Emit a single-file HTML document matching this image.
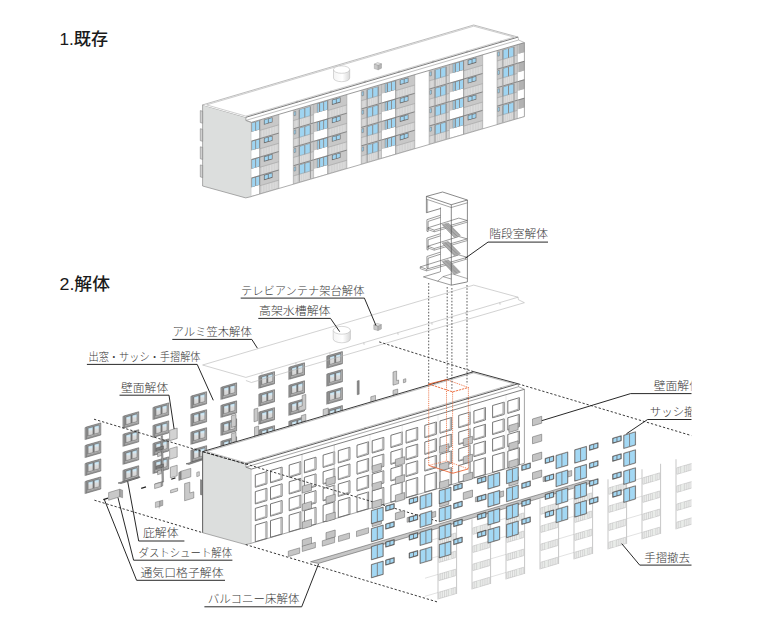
<!DOCTYPE html>
<html><head><meta charset="utf-8"><title>diagram</title><style>html,body{margin:0;padding:0;background:#fff;font-family:"Liberation Sans",sans-serif}svg{display:block}</style></head><body>
<svg width="780" height="628" viewBox="0 0 780 628">
<defs><linearGradient id="gl" x1="0" x2="0" y1="0" y2="1"><stop offset="0" stop-color="#b5e0f7"/><stop offset="0.3" stop-color="#d3e8f2"/><stop offset="0.45" stop-color="#dcdcdc"/><stop offset="1" stop-color="#d2d2d2"/></linearGradient></defs>
<polygon points="202.6,104.9 245.9,117.3 245.9,120.4 251.4,122.4 251.4,196.6 245.7,197.9 202.6,186" fill="#dcdedd" stroke="#8a8a8a" stroke-width="0.7" />
<polygon points="202.6,104.9 245.9,117.3 518.1,37.1 473.7,25" fill="#ffffff" stroke="none" stroke-width="0.6" />
<polygon points="200.3,110.6 202.6,111.2 202.6,123.2 200.3,122.6" fill="#d0d0d0" stroke="#777" stroke-width="0.5" />
<polygon points="200.3,128.7 202.6,129.3 202.6,141.3 200.3,140.7" fill="#d0d0d0" stroke="#777" stroke-width="0.5" />
<polygon points="200.3,146.8 202.6,147.4 202.6,159.4 200.3,158.8" fill="#d0d0d0" stroke="#777" stroke-width="0.5" />
<polygon points="200.3,164.9 202.6,165.5 202.6,177.5 200.3,176.9" fill="#d0d0d0" stroke="#777" stroke-width="0.5" />
<clipPath id="fc1"><polygon points="251.4,122.4 524.4,42.52 524.4,116.62 251.4,196.5"/></clipPath>
<g clip-path="url(#fc1)">
<polygon points="251.4,122.4 524.4,42.52 524.4,116.62 251.4,196.5" fill="#ffffff" stroke="none" stroke-width="0.4" />
<polygon points="225.3,130.04 278.9,114.35 278.9,188.45 225.3,204.14" fill="#c8c8c8" stroke="none" stroke-width="0.4" />
<polygon points="225.7,195.82 245.5,190.03 245.5,197.63 225.7,203.42" fill="#d3d3d3" stroke="none" stroke-width="0.4" />
<line x1="228.18" y1="202.1" x2="228.18" y2="195.7" stroke="#e6e6e6" stroke-width="0.55" />
<line x1="230.65" y1="201.37" x2="230.65" y2="194.97" stroke="#e6e6e6" stroke-width="0.55" />
<line x1="233.12" y1="200.65" x2="233.12" y2="194.25" stroke="#e6e6e6" stroke-width="0.55" />
<line x1="235.6" y1="199.92" x2="235.6" y2="193.52" stroke="#e6e6e6" stroke-width="0.55" />
<line x1="238.07" y1="199.2" x2="238.07" y2="192.8" stroke="#e6e6e6" stroke-width="0.55" />
<line x1="240.55" y1="198.47" x2="240.55" y2="192.07" stroke="#e6e6e6" stroke-width="0.55" />
<line x1="243.03" y1="197.75" x2="243.03" y2="191.35" stroke="#e6e6e6" stroke-width="0.55" />
<polygon points="259.7,185.87 278.6,180.34 278.6,187.94 259.7,193.47" fill="#d3d3d3" stroke="none" stroke-width="0.4" />
<line x1="262.4" y1="192.08" x2="262.4" y2="185.68" stroke="#e6e6e6" stroke-width="0.55" />
<line x1="265.1" y1="191.29" x2="265.1" y2="184.89" stroke="#e6e6e6" stroke-width="0.55" />
<line x1="267.8" y1="190.5" x2="267.8" y2="184.1" stroke="#e6e6e6" stroke-width="0.55" />
<line x1="270.5" y1="189.71" x2="270.5" y2="183.31" stroke="#e6e6e6" stroke-width="0.55" />
<line x1="273.2" y1="188.92" x2="273.2" y2="182.52" stroke="#e6e6e6" stroke-width="0.55" />
<line x1="275.9" y1="188.13" x2="275.9" y2="181.73" stroke="#e6e6e6" stroke-width="0.55" />
<polygon points="226,187.13 227.7,186.63 227.7,190.53 226,191.03" fill="#9fd4f1" stroke="#6a6a6a" stroke-width="0.45" />
<polygon points="230.9,184.9 242.5,181.5 242.5,191.7 230.9,195.1" fill="#8a8a8a" stroke="none" stroke-width="0.4" />
<polygon points="231.6,185.09 236.3,183.72 236.3,193.52 231.6,194.89" fill="#9fd4f1" stroke="none" stroke-width="0.4" />
<polygon points="237.3,183.43 241.9,182.08 241.9,191.88 237.3,193.23" fill="#9fd4f1" stroke="none" stroke-width="0.4" />
<polygon points="230.3,194.67 243.3,190.87 243.3,198.27 230.3,202.07" fill="#d3d3d3" stroke="none" stroke-width="0.4" />
<line x1="232.47" y1="200.84" x2="232.47" y2="194.64" stroke="#e6e6e6" stroke-width="0.55" />
<line x1="234.63" y1="200.21" x2="234.63" y2="194.01" stroke="#e6e6e6" stroke-width="0.55" />
<line x1="236.8" y1="199.57" x2="236.8" y2="193.37" stroke="#e6e6e6" stroke-width="0.55" />
<line x1="238.97" y1="198.94" x2="238.97" y2="192.74" stroke="#e6e6e6" stroke-width="0.55" />
<line x1="241.13" y1="198.3" x2="241.13" y2="192.1" stroke="#e6e6e6" stroke-width="0.55" />
<polygon points="230.8,184.93 231.6,184.69 231.6,201.69 230.8,201.93" fill="#8a8a8a" stroke="none" stroke-width="0.4" />
<polygon points="241.9,181.68 242.7,181.45 242.7,198.45 241.9,198.68" fill="#8a8a8a" stroke="none" stroke-width="0.4" />
<polygon points="245.7,188.97 259.5,184.93 259.5,193.63 245.7,197.67" fill="#ffffff" stroke="none" stroke-width="0.4" />
<polygon points="248.9,179.03 259.7,175.87 259.7,184.87 248.9,188.03" fill="#8a8a8a" stroke="none" stroke-width="0.4" />
<polygon points="249.5,179.16 250.9,178.75 250.9,187.25 249.5,187.66" fill="#9fd4f1" stroke="none" stroke-width="0.4" />
<polygon points="252.1,178.4 255.2,177.49 255.2,185.99 252.1,186.9" fill="#9fd4f1" stroke="none" stroke-width="0.4" />
<polygon points="256.1,177.22 259.2,176.32 259.2,184.82 256.1,185.72" fill="#9fd4f1" stroke="none" stroke-width="0.4" />
<polygon points="263.9,175.04 272.5,172.53 272.5,177.63 263.9,180.14" fill="#666" stroke="none" stroke-width="0.4" />
<polygon points="264.6,175.44 267.9,174.47 267.9,178.27 264.6,179.24" fill="#9fd4f1" stroke="none" stroke-width="0.4" />
<polygon points="268.6,174.27 271.9,173.3 271.9,177.1 268.6,178.07" fill="#9fd4f1" stroke="none" stroke-width="0.4" />
<line x1="225.3" y1="195.84" x2="245.6" y2="189.9" stroke="#9a9a9a" stroke-width="0.5" />
<line x1="259.6" y1="185.8" x2="278.9" y2="180.15" stroke="#9a9a9a" stroke-width="0.5" />
<polygon points="225.7,177.37 245.5,171.58 245.5,179.18 225.7,184.97" fill="#d3d3d3" stroke="none" stroke-width="0.4" />
<line x1="228.18" y1="183.65" x2="228.18" y2="177.25" stroke="#e6e6e6" stroke-width="0.55" />
<line x1="230.65" y1="182.92" x2="230.65" y2="176.52" stroke="#e6e6e6" stroke-width="0.55" />
<line x1="233.12" y1="182.2" x2="233.12" y2="175.8" stroke="#e6e6e6" stroke-width="0.55" />
<line x1="235.6" y1="181.47" x2="235.6" y2="175.07" stroke="#e6e6e6" stroke-width="0.55" />
<line x1="238.07" y1="180.75" x2="238.07" y2="174.35" stroke="#e6e6e6" stroke-width="0.55" />
<line x1="240.55" y1="180.02" x2="240.55" y2="173.62" stroke="#e6e6e6" stroke-width="0.55" />
<line x1="243.03" y1="179.3" x2="243.03" y2="172.9" stroke="#e6e6e6" stroke-width="0.55" />
<polygon points="259.7,167.42 278.6,161.89 278.6,169.49 259.7,175.02" fill="#d3d3d3" stroke="none" stroke-width="0.4" />
<line x1="262.4" y1="173.63" x2="262.4" y2="167.23" stroke="#e6e6e6" stroke-width="0.55" />
<line x1="265.1" y1="172.84" x2="265.1" y2="166.44" stroke="#e6e6e6" stroke-width="0.55" />
<line x1="267.8" y1="172.05" x2="267.8" y2="165.65" stroke="#e6e6e6" stroke-width="0.55" />
<line x1="270.5" y1="171.26" x2="270.5" y2="164.86" stroke="#e6e6e6" stroke-width="0.55" />
<line x1="273.2" y1="170.47" x2="273.2" y2="164.07" stroke="#e6e6e6" stroke-width="0.55" />
<line x1="275.9" y1="169.68" x2="275.9" y2="163.28" stroke="#e6e6e6" stroke-width="0.55" />
<polygon points="226,168.68 227.7,168.18 227.7,172.08 226,172.58" fill="#9fd4f1" stroke="#6a6a6a" stroke-width="0.45" />
<polygon points="230.9,166.45 242.5,163.05 242.5,173.25 230.9,176.65" fill="#8a8a8a" stroke="none" stroke-width="0.4" />
<polygon points="231.6,166.64 236.3,165.27 236.3,175.07 231.6,176.44" fill="#9fd4f1" stroke="none" stroke-width="0.4" />
<polygon points="237.3,164.98 241.9,163.63 241.9,173.43 237.3,174.78" fill="#9fd4f1" stroke="none" stroke-width="0.4" />
<polygon points="230.3,176.22 243.3,172.42 243.3,179.82 230.3,183.62" fill="#d3d3d3" stroke="none" stroke-width="0.4" />
<line x1="232.47" y1="182.39" x2="232.47" y2="176.19" stroke="#e6e6e6" stroke-width="0.55" />
<line x1="234.63" y1="181.76" x2="234.63" y2="175.56" stroke="#e6e6e6" stroke-width="0.55" />
<line x1="236.8" y1="181.12" x2="236.8" y2="174.92" stroke="#e6e6e6" stroke-width="0.55" />
<line x1="238.97" y1="180.49" x2="238.97" y2="174.29" stroke="#e6e6e6" stroke-width="0.55" />
<line x1="241.13" y1="179.85" x2="241.13" y2="173.65" stroke="#e6e6e6" stroke-width="0.55" />
<polygon points="230.8,166.48 231.6,166.24 231.6,183.24 230.8,183.48" fill="#8a8a8a" stroke="none" stroke-width="0.4" />
<polygon points="241.9,163.23 242.7,163 242.7,180 241.9,180.23" fill="#8a8a8a" stroke="none" stroke-width="0.4" />
<polygon points="245.7,170.52 259.5,166.48 259.5,175.18 245.7,179.22" fill="#ffffff" stroke="none" stroke-width="0.4" />
<polygon points="248.9,160.58 259.7,157.42 259.7,166.42 248.9,169.58" fill="#8a8a8a" stroke="none" stroke-width="0.4" />
<polygon points="249.5,160.71 250.9,160.3 250.9,168.8 249.5,169.21" fill="#9fd4f1" stroke="none" stroke-width="0.4" />
<polygon points="252.1,159.95 255.2,159.04 255.2,167.54 252.1,168.45" fill="#9fd4f1" stroke="none" stroke-width="0.4" />
<polygon points="256.1,158.77 259.2,157.87 259.2,166.37 256.1,167.27" fill="#9fd4f1" stroke="none" stroke-width="0.4" />
<polygon points="263.9,156.59 272.5,154.08 272.5,159.18 263.9,161.69" fill="#666" stroke="none" stroke-width="0.4" />
<polygon points="264.6,156.99 267.9,156.02 267.9,159.82 264.6,160.79" fill="#9fd4f1" stroke="none" stroke-width="0.4" />
<polygon points="268.6,155.82 271.9,154.85 271.9,158.65 268.6,159.62" fill="#9fd4f1" stroke="none" stroke-width="0.4" />
<line x1="225.3" y1="185.69" x2="278.9" y2="170" stroke="#6a6a6a" stroke-width="0.7" />
<line x1="225.3" y1="177.39" x2="245.6" y2="171.45" stroke="#9a9a9a" stroke-width="0.5" />
<line x1="259.6" y1="167.35" x2="278.9" y2="161.7" stroke="#9a9a9a" stroke-width="0.5" />
<polygon points="225.7,158.92 245.5,153.13 245.5,160.73 225.7,166.52" fill="#d3d3d3" stroke="none" stroke-width="0.4" />
<line x1="228.18" y1="165.2" x2="228.18" y2="158.8" stroke="#e6e6e6" stroke-width="0.55" />
<line x1="230.65" y1="164.47" x2="230.65" y2="158.07" stroke="#e6e6e6" stroke-width="0.55" />
<line x1="233.12" y1="163.75" x2="233.12" y2="157.35" stroke="#e6e6e6" stroke-width="0.55" />
<line x1="235.6" y1="163.02" x2="235.6" y2="156.62" stroke="#e6e6e6" stroke-width="0.55" />
<line x1="238.07" y1="162.3" x2="238.07" y2="155.9" stroke="#e6e6e6" stroke-width="0.55" />
<line x1="240.55" y1="161.57" x2="240.55" y2="155.17" stroke="#e6e6e6" stroke-width="0.55" />
<line x1="243.03" y1="160.85" x2="243.03" y2="154.45" stroke="#e6e6e6" stroke-width="0.55" />
<polygon points="259.7,148.97 278.6,143.44 278.6,151.04 259.7,156.57" fill="#d3d3d3" stroke="none" stroke-width="0.4" />
<line x1="262.4" y1="155.18" x2="262.4" y2="148.78" stroke="#e6e6e6" stroke-width="0.55" />
<line x1="265.1" y1="154.39" x2="265.1" y2="147.99" stroke="#e6e6e6" stroke-width="0.55" />
<line x1="267.8" y1="153.6" x2="267.8" y2="147.2" stroke="#e6e6e6" stroke-width="0.55" />
<line x1="270.5" y1="152.81" x2="270.5" y2="146.41" stroke="#e6e6e6" stroke-width="0.55" />
<line x1="273.2" y1="152.02" x2="273.2" y2="145.62" stroke="#e6e6e6" stroke-width="0.55" />
<line x1="275.9" y1="151.23" x2="275.9" y2="144.83" stroke="#e6e6e6" stroke-width="0.55" />
<polygon points="226,150.23 227.7,149.73 227.7,153.63 226,154.13" fill="#9fd4f1" stroke="#6a6a6a" stroke-width="0.45" />
<polygon points="230.9,148 242.5,144.6 242.5,154.8 230.9,158.2" fill="#8a8a8a" stroke="none" stroke-width="0.4" />
<polygon points="231.6,148.19 236.3,146.82 236.3,156.62 231.6,157.99" fill="#9fd4f1" stroke="none" stroke-width="0.4" />
<polygon points="237.3,146.53 241.9,145.18 241.9,154.98 237.3,156.33" fill="#9fd4f1" stroke="none" stroke-width="0.4" />
<polygon points="230.3,157.77 243.3,153.97 243.3,161.37 230.3,165.17" fill="#d3d3d3" stroke="none" stroke-width="0.4" />
<line x1="232.47" y1="163.94" x2="232.47" y2="157.74" stroke="#e6e6e6" stroke-width="0.55" />
<line x1="234.63" y1="163.31" x2="234.63" y2="157.11" stroke="#e6e6e6" stroke-width="0.55" />
<line x1="236.8" y1="162.67" x2="236.8" y2="156.47" stroke="#e6e6e6" stroke-width="0.55" />
<line x1="238.97" y1="162.04" x2="238.97" y2="155.84" stroke="#e6e6e6" stroke-width="0.55" />
<line x1="241.13" y1="161.4" x2="241.13" y2="155.2" stroke="#e6e6e6" stroke-width="0.55" />
<polygon points="230.8,148.03 231.6,147.79 231.6,164.79 230.8,165.03" fill="#8a8a8a" stroke="none" stroke-width="0.4" />
<polygon points="241.9,144.78 242.7,144.55 242.7,161.55 241.9,161.78" fill="#8a8a8a" stroke="none" stroke-width="0.4" />
<polygon points="245.7,152.07 259.5,148.03 259.5,156.73 245.7,160.77" fill="#ffffff" stroke="none" stroke-width="0.4" />
<polygon points="248.9,142.13 259.7,138.97 259.7,147.97 248.9,151.13" fill="#8a8a8a" stroke="none" stroke-width="0.4" />
<polygon points="249.5,142.26 250.9,141.85 250.9,150.35 249.5,150.76" fill="#9fd4f1" stroke="none" stroke-width="0.4" />
<polygon points="252.1,141.5 255.2,140.59 255.2,149.09 252.1,150" fill="#9fd4f1" stroke="none" stroke-width="0.4" />
<polygon points="256.1,140.32 259.2,139.42 259.2,147.92 256.1,148.82" fill="#9fd4f1" stroke="none" stroke-width="0.4" />
<polygon points="263.9,138.14 272.5,135.63 272.5,140.73 263.9,143.24" fill="#666" stroke="none" stroke-width="0.4" />
<polygon points="264.6,138.54 267.9,137.57 267.9,141.37 264.6,142.34" fill="#9fd4f1" stroke="none" stroke-width="0.4" />
<polygon points="268.6,137.37 271.9,136.4 271.9,140.2 268.6,141.17" fill="#9fd4f1" stroke="none" stroke-width="0.4" />
<line x1="225.3" y1="167.24" x2="278.9" y2="151.55" stroke="#6a6a6a" stroke-width="0.7" />
<line x1="225.3" y1="158.94" x2="245.6" y2="153" stroke="#9a9a9a" stroke-width="0.5" />
<line x1="259.6" y1="148.9" x2="278.9" y2="143.25" stroke="#9a9a9a" stroke-width="0.5" />
<polygon points="225.7,140.47 245.5,134.68 245.5,142.28 225.7,148.07" fill="#d3d3d3" stroke="none" stroke-width="0.4" />
<line x1="228.18" y1="146.75" x2="228.18" y2="140.35" stroke="#e6e6e6" stroke-width="0.55" />
<line x1="230.65" y1="146.02" x2="230.65" y2="139.62" stroke="#e6e6e6" stroke-width="0.55" />
<line x1="233.12" y1="145.3" x2="233.12" y2="138.9" stroke="#e6e6e6" stroke-width="0.55" />
<line x1="235.6" y1="144.57" x2="235.6" y2="138.17" stroke="#e6e6e6" stroke-width="0.55" />
<line x1="238.07" y1="143.85" x2="238.07" y2="137.45" stroke="#e6e6e6" stroke-width="0.55" />
<line x1="240.55" y1="143.12" x2="240.55" y2="136.72" stroke="#e6e6e6" stroke-width="0.55" />
<line x1="243.03" y1="142.4" x2="243.03" y2="136" stroke="#e6e6e6" stroke-width="0.55" />
<polygon points="259.7,130.52 278.6,124.99 278.6,132.59 259.7,138.12" fill="#d3d3d3" stroke="none" stroke-width="0.4" />
<line x1="262.4" y1="136.73" x2="262.4" y2="130.33" stroke="#e6e6e6" stroke-width="0.55" />
<line x1="265.1" y1="135.94" x2="265.1" y2="129.54" stroke="#e6e6e6" stroke-width="0.55" />
<line x1="267.8" y1="135.15" x2="267.8" y2="128.75" stroke="#e6e6e6" stroke-width="0.55" />
<line x1="270.5" y1="134.36" x2="270.5" y2="127.96" stroke="#e6e6e6" stroke-width="0.55" />
<line x1="273.2" y1="133.57" x2="273.2" y2="127.17" stroke="#e6e6e6" stroke-width="0.55" />
<line x1="275.9" y1="132.78" x2="275.9" y2="126.38" stroke="#e6e6e6" stroke-width="0.55" />
<polygon points="226,131.78 227.7,131.28 227.7,135.18 226,135.68" fill="#9fd4f1" stroke="#6a6a6a" stroke-width="0.45" />
<polygon points="230.9,129.55 242.5,126.15 242.5,136.35 230.9,139.75" fill="#8a8a8a" stroke="none" stroke-width="0.4" />
<polygon points="231.6,129.74 236.3,128.37 236.3,138.17 231.6,139.54" fill="#9fd4f1" stroke="none" stroke-width="0.4" />
<polygon points="237.3,128.08 241.9,126.73 241.9,136.53 237.3,137.88" fill="#9fd4f1" stroke="none" stroke-width="0.4" />
<polygon points="230.3,139.32 243.3,135.52 243.3,142.92 230.3,146.72" fill="#d3d3d3" stroke="none" stroke-width="0.4" />
<line x1="232.47" y1="145.49" x2="232.47" y2="139.29" stroke="#e6e6e6" stroke-width="0.55" />
<line x1="234.63" y1="144.86" x2="234.63" y2="138.66" stroke="#e6e6e6" stroke-width="0.55" />
<line x1="236.8" y1="144.22" x2="236.8" y2="138.02" stroke="#e6e6e6" stroke-width="0.55" />
<line x1="238.97" y1="143.59" x2="238.97" y2="137.39" stroke="#e6e6e6" stroke-width="0.55" />
<line x1="241.13" y1="142.95" x2="241.13" y2="136.75" stroke="#e6e6e6" stroke-width="0.55" />
<polygon points="230.8,129.58 231.6,129.34 231.6,146.34 230.8,146.58" fill="#8a8a8a" stroke="none" stroke-width="0.4" />
<polygon points="241.9,126.33 242.7,126.1 242.7,143.1 241.9,143.33" fill="#8a8a8a" stroke="none" stroke-width="0.4" />
<polygon points="245.7,133.62 259.5,129.58 259.5,138.28 245.7,142.32" fill="#ffffff" stroke="none" stroke-width="0.4" />
<polygon points="248.9,123.68 259.7,120.52 259.7,129.52 248.9,132.68" fill="#8a8a8a" stroke="none" stroke-width="0.4" />
<polygon points="249.5,123.81 250.9,123.4 250.9,131.9 249.5,132.31" fill="#9fd4f1" stroke="none" stroke-width="0.4" />
<polygon points="252.1,123.05 255.2,122.14 255.2,130.64 252.1,131.55" fill="#9fd4f1" stroke="none" stroke-width="0.4" />
<polygon points="256.1,121.87 259.2,120.97 259.2,129.47 256.1,130.37" fill="#9fd4f1" stroke="none" stroke-width="0.4" />
<polygon points="263.9,119.69 272.5,117.18 272.5,122.28 263.9,124.79" fill="#666" stroke="none" stroke-width="0.4" />
<polygon points="264.6,120.09 267.9,119.12 267.9,122.92 264.6,123.89" fill="#9fd4f1" stroke="none" stroke-width="0.4" />
<polygon points="268.6,118.92 271.9,117.95 271.9,121.75 268.6,122.72" fill="#9fd4f1" stroke="none" stroke-width="0.4" />
<line x1="225.3" y1="148.79" x2="278.9" y2="133.1" stroke="#6a6a6a" stroke-width="0.7" />
<line x1="225.3" y1="140.49" x2="245.6" y2="134.55" stroke="#9a9a9a" stroke-width="0.5" />
<line x1="259.6" y1="130.45" x2="278.9" y2="124.8" stroke="#9a9a9a" stroke-width="0.5" />
<line x1="225.3" y1="204.14" x2="225.3" y2="130.04" stroke="#9a9a9a" stroke-width="0.5" />
<line x1="278.9" y1="188.45" x2="278.9" y2="114.35" stroke="#9a9a9a" stroke-width="0.5" />
<line x1="245.6" y1="198.2" x2="245.6" y2="124.1" stroke="#a8a8a8" stroke-width="0.55" />
<line x1="259.8" y1="194.04" x2="259.8" y2="119.94" stroke="#707070" stroke-width="0.55" />
<polygon points="293.3,110.14 346.9,94.46 346.9,168.56 293.3,184.24" fill="#c8c8c8" stroke="none" stroke-width="0.4" />
<polygon points="293.7,175.92 313.5,170.13 313.5,177.73 293.7,183.52" fill="#d3d3d3" stroke="none" stroke-width="0.4" />
<line x1="296.18" y1="182.2" x2="296.18" y2="175.8" stroke="#e6e6e6" stroke-width="0.55" />
<line x1="298.65" y1="181.47" x2="298.65" y2="175.07" stroke="#e6e6e6" stroke-width="0.55" />
<line x1="301.12" y1="180.75" x2="301.12" y2="174.35" stroke="#e6e6e6" stroke-width="0.55" />
<line x1="303.6" y1="180.03" x2="303.6" y2="173.63" stroke="#e6e6e6" stroke-width="0.55" />
<line x1="306.07" y1="179.3" x2="306.07" y2="172.9" stroke="#e6e6e6" stroke-width="0.55" />
<line x1="308.55" y1="178.58" x2="308.55" y2="172.18" stroke="#e6e6e6" stroke-width="0.55" />
<line x1="311.02" y1="177.85" x2="311.02" y2="171.45" stroke="#e6e6e6" stroke-width="0.55" />
<polygon points="327.7,165.97 346.6,160.44 346.6,168.04 327.7,173.57" fill="#d3d3d3" stroke="none" stroke-width="0.4" />
<line x1="330.4" y1="172.18" x2="330.4" y2="165.78" stroke="#e6e6e6" stroke-width="0.55" />
<line x1="333.1" y1="171.39" x2="333.1" y2="164.99" stroke="#e6e6e6" stroke-width="0.55" />
<line x1="335.8" y1="170.6" x2="335.8" y2="164.2" stroke="#e6e6e6" stroke-width="0.55" />
<line x1="338.5" y1="169.81" x2="338.5" y2="163.41" stroke="#e6e6e6" stroke-width="0.55" />
<line x1="341.2" y1="169.02" x2="341.2" y2="162.62" stroke="#e6e6e6" stroke-width="0.55" />
<line x1="343.9" y1="168.23" x2="343.9" y2="161.83" stroke="#e6e6e6" stroke-width="0.55" />
<polygon points="294,167.24 295.7,166.74 295.7,170.64 294,171.14" fill="#9fd4f1" stroke="#6a6a6a" stroke-width="0.45" />
<polygon points="298.9,165 310.5,161.61 310.5,171.81 298.9,175.2" fill="#8a8a8a" stroke="none" stroke-width="0.4" />
<polygon points="299.6,165.2 304.3,163.82 304.3,173.62 299.6,175" fill="#9fd4f1" stroke="none" stroke-width="0.4" />
<polygon points="305.3,163.53 309.9,162.18 309.9,171.98 305.3,173.33" fill="#9fd4f1" stroke="none" stroke-width="0.4" />
<polygon points="298.3,174.78 311.3,170.97 311.3,178.37 298.3,182.18" fill="#d3d3d3" stroke="none" stroke-width="0.4" />
<line x1="300.47" y1="180.94" x2="300.47" y2="174.74" stroke="#e6e6e6" stroke-width="0.55" />
<line x1="302.63" y1="180.31" x2="302.63" y2="174.11" stroke="#e6e6e6" stroke-width="0.55" />
<line x1="304.8" y1="179.68" x2="304.8" y2="173.48" stroke="#e6e6e6" stroke-width="0.55" />
<line x1="306.97" y1="179.04" x2="306.97" y2="172.84" stroke="#e6e6e6" stroke-width="0.55" />
<line x1="309.13" y1="178.41" x2="309.13" y2="172.21" stroke="#e6e6e6" stroke-width="0.55" />
<polygon points="298.8,165.03 299.6,164.8 299.6,181.8 298.8,182.03" fill="#8a8a8a" stroke="none" stroke-width="0.4" />
<polygon points="309.9,161.78 310.7,161.55 310.7,178.55 309.9,178.78" fill="#8a8a8a" stroke="none" stroke-width="0.4" />
<polygon points="313.7,169.07 327.5,165.03 327.5,173.73 313.7,177.77" fill="#ffffff" stroke="none" stroke-width="0.4" />
<polygon points="316.9,159.13 327.7,155.97 327.7,164.97 316.9,168.13" fill="#8a8a8a" stroke="none" stroke-width="0.4" />
<polygon points="317.5,159.26 318.9,158.85 318.9,167.35 317.5,167.76" fill="#9fd4f1" stroke="none" stroke-width="0.4" />
<polygon points="320.1,158.5 323.2,157.59 323.2,166.09 320.1,167" fill="#9fd4f1" stroke="none" stroke-width="0.4" />
<polygon points="324.1,157.33 327.2,156.42 327.2,164.92 324.1,165.83" fill="#9fd4f1" stroke="none" stroke-width="0.4" />
<polygon points="331.9,155.15 340.5,152.63 340.5,157.73 331.9,160.25" fill="#666" stroke="none" stroke-width="0.4" />
<polygon points="332.6,155.54 335.9,154.58 335.9,158.38 332.6,159.34" fill="#9fd4f1" stroke="none" stroke-width="0.4" />
<polygon points="336.6,154.37 339.9,153.4 339.9,157.2 336.6,158.17" fill="#9fd4f1" stroke="none" stroke-width="0.4" />
<line x1="293.3" y1="175.94" x2="313.6" y2="170" stroke="#9a9a9a" stroke-width="0.5" />
<line x1="327.6" y1="165.9" x2="346.9" y2="160.26" stroke="#9a9a9a" stroke-width="0.5" />
<polygon points="293.7,157.47 313.5,151.68 313.5,159.28 293.7,165.07" fill="#d3d3d3" stroke="none" stroke-width="0.4" />
<line x1="296.18" y1="163.75" x2="296.18" y2="157.35" stroke="#e6e6e6" stroke-width="0.55" />
<line x1="298.65" y1="163.02" x2="298.65" y2="156.62" stroke="#e6e6e6" stroke-width="0.55" />
<line x1="301.12" y1="162.3" x2="301.12" y2="155.9" stroke="#e6e6e6" stroke-width="0.55" />
<line x1="303.6" y1="161.58" x2="303.6" y2="155.18" stroke="#e6e6e6" stroke-width="0.55" />
<line x1="306.07" y1="160.85" x2="306.07" y2="154.45" stroke="#e6e6e6" stroke-width="0.55" />
<line x1="308.55" y1="160.13" x2="308.55" y2="153.73" stroke="#e6e6e6" stroke-width="0.55" />
<line x1="311.02" y1="159.4" x2="311.02" y2="153" stroke="#e6e6e6" stroke-width="0.55" />
<polygon points="327.7,147.52 346.6,141.99 346.6,149.59 327.7,155.12" fill="#d3d3d3" stroke="none" stroke-width="0.4" />
<line x1="330.4" y1="153.73" x2="330.4" y2="147.33" stroke="#e6e6e6" stroke-width="0.55" />
<line x1="333.1" y1="152.94" x2="333.1" y2="146.54" stroke="#e6e6e6" stroke-width="0.55" />
<line x1="335.8" y1="152.15" x2="335.8" y2="145.75" stroke="#e6e6e6" stroke-width="0.55" />
<line x1="338.5" y1="151.36" x2="338.5" y2="144.96" stroke="#e6e6e6" stroke-width="0.55" />
<line x1="341.2" y1="150.57" x2="341.2" y2="144.17" stroke="#e6e6e6" stroke-width="0.55" />
<line x1="343.9" y1="149.78" x2="343.9" y2="143.38" stroke="#e6e6e6" stroke-width="0.55" />
<polygon points="294,148.79 295.7,148.29 295.7,152.19 294,152.69" fill="#9fd4f1" stroke="#6a6a6a" stroke-width="0.45" />
<polygon points="298.9,146.55 310.5,143.16 310.5,153.36 298.9,156.75" fill="#8a8a8a" stroke="none" stroke-width="0.4" />
<polygon points="299.6,146.75 304.3,145.37 304.3,155.17 299.6,156.55" fill="#9fd4f1" stroke="none" stroke-width="0.4" />
<polygon points="305.3,145.08 309.9,143.73 309.9,153.53 305.3,154.88" fill="#9fd4f1" stroke="none" stroke-width="0.4" />
<polygon points="298.3,156.33 311.3,152.52 311.3,159.92 298.3,163.73" fill="#d3d3d3" stroke="none" stroke-width="0.4" />
<line x1="300.47" y1="162.49" x2="300.47" y2="156.29" stroke="#e6e6e6" stroke-width="0.55" />
<line x1="302.63" y1="161.86" x2="302.63" y2="155.66" stroke="#e6e6e6" stroke-width="0.55" />
<line x1="304.8" y1="161.23" x2="304.8" y2="155.03" stroke="#e6e6e6" stroke-width="0.55" />
<line x1="306.97" y1="160.59" x2="306.97" y2="154.39" stroke="#e6e6e6" stroke-width="0.55" />
<line x1="309.13" y1="159.96" x2="309.13" y2="153.76" stroke="#e6e6e6" stroke-width="0.55" />
<polygon points="298.8,146.58 299.6,146.35 299.6,163.35 298.8,163.58" fill="#8a8a8a" stroke="none" stroke-width="0.4" />
<polygon points="309.9,143.33 310.7,143.1 310.7,160.1 309.9,160.33" fill="#8a8a8a" stroke="none" stroke-width="0.4" />
<polygon points="313.7,150.62 327.5,146.58 327.5,155.28 313.7,159.32" fill="#ffffff" stroke="none" stroke-width="0.4" />
<polygon points="316.9,140.68 327.7,137.52 327.7,146.52 316.9,149.68" fill="#8a8a8a" stroke="none" stroke-width="0.4" />
<polygon points="317.5,140.81 318.9,140.4 318.9,148.9 317.5,149.31" fill="#9fd4f1" stroke="none" stroke-width="0.4" />
<polygon points="320.1,140.05 323.2,139.14 323.2,147.64 320.1,148.55" fill="#9fd4f1" stroke="none" stroke-width="0.4" />
<polygon points="324.1,138.88 327.2,137.97 327.2,146.47 324.1,147.38" fill="#9fd4f1" stroke="none" stroke-width="0.4" />
<polygon points="331.9,136.7 340.5,134.18 340.5,139.28 331.9,141.8" fill="#666" stroke="none" stroke-width="0.4" />
<polygon points="332.6,137.09 335.9,136.13 335.9,139.93 332.6,140.89" fill="#9fd4f1" stroke="none" stroke-width="0.4" />
<polygon points="336.6,135.92 339.9,134.95 339.9,138.75 336.6,139.72" fill="#9fd4f1" stroke="none" stroke-width="0.4" />
<line x1="293.3" y1="165.79" x2="346.9" y2="150.11" stroke="#6a6a6a" stroke-width="0.7" />
<line x1="293.3" y1="157.49" x2="313.6" y2="151.55" stroke="#9a9a9a" stroke-width="0.5" />
<line x1="327.6" y1="147.45" x2="346.9" y2="141.81" stroke="#9a9a9a" stroke-width="0.5" />
<polygon points="293.7,139.02 313.5,133.23 313.5,140.83 293.7,146.62" fill="#d3d3d3" stroke="none" stroke-width="0.4" />
<line x1="296.18" y1="145.3" x2="296.18" y2="138.9" stroke="#e6e6e6" stroke-width="0.55" />
<line x1="298.65" y1="144.57" x2="298.65" y2="138.17" stroke="#e6e6e6" stroke-width="0.55" />
<line x1="301.12" y1="143.85" x2="301.12" y2="137.45" stroke="#e6e6e6" stroke-width="0.55" />
<line x1="303.6" y1="143.13" x2="303.6" y2="136.73" stroke="#e6e6e6" stroke-width="0.55" />
<line x1="306.07" y1="142.4" x2="306.07" y2="136" stroke="#e6e6e6" stroke-width="0.55" />
<line x1="308.55" y1="141.68" x2="308.55" y2="135.28" stroke="#e6e6e6" stroke-width="0.55" />
<line x1="311.02" y1="140.95" x2="311.02" y2="134.55" stroke="#e6e6e6" stroke-width="0.55" />
<polygon points="327.7,129.07 346.6,123.54 346.6,131.14 327.7,136.67" fill="#d3d3d3" stroke="none" stroke-width="0.4" />
<line x1="330.4" y1="135.28" x2="330.4" y2="128.88" stroke="#e6e6e6" stroke-width="0.55" />
<line x1="333.1" y1="134.49" x2="333.1" y2="128.09" stroke="#e6e6e6" stroke-width="0.55" />
<line x1="335.8" y1="133.7" x2="335.8" y2="127.3" stroke="#e6e6e6" stroke-width="0.55" />
<line x1="338.5" y1="132.91" x2="338.5" y2="126.51" stroke="#e6e6e6" stroke-width="0.55" />
<line x1="341.2" y1="132.12" x2="341.2" y2="125.72" stroke="#e6e6e6" stroke-width="0.55" />
<line x1="343.9" y1="131.33" x2="343.9" y2="124.93" stroke="#e6e6e6" stroke-width="0.55" />
<polygon points="294,130.34 295.7,129.84 295.7,133.74 294,134.24" fill="#9fd4f1" stroke="#6a6a6a" stroke-width="0.45" />
<polygon points="298.9,128.1 310.5,124.71 310.5,134.91 298.9,138.3" fill="#8a8a8a" stroke="none" stroke-width="0.4" />
<polygon points="299.6,128.3 304.3,126.92 304.3,136.72 299.6,138.1" fill="#9fd4f1" stroke="none" stroke-width="0.4" />
<polygon points="305.3,126.63 309.9,125.28 309.9,135.08 305.3,136.43" fill="#9fd4f1" stroke="none" stroke-width="0.4" />
<polygon points="298.3,137.88 311.3,134.07 311.3,141.47 298.3,145.28" fill="#d3d3d3" stroke="none" stroke-width="0.4" />
<line x1="300.47" y1="144.04" x2="300.47" y2="137.84" stroke="#e6e6e6" stroke-width="0.55" />
<line x1="302.63" y1="143.41" x2="302.63" y2="137.21" stroke="#e6e6e6" stroke-width="0.55" />
<line x1="304.8" y1="142.78" x2="304.8" y2="136.58" stroke="#e6e6e6" stroke-width="0.55" />
<line x1="306.97" y1="142.14" x2="306.97" y2="135.94" stroke="#e6e6e6" stroke-width="0.55" />
<line x1="309.13" y1="141.51" x2="309.13" y2="135.31" stroke="#e6e6e6" stroke-width="0.55" />
<polygon points="298.8,128.13 299.6,127.9 299.6,144.9 298.8,145.13" fill="#8a8a8a" stroke="none" stroke-width="0.4" />
<polygon points="309.9,124.88 310.7,124.65 310.7,141.65 309.9,141.88" fill="#8a8a8a" stroke="none" stroke-width="0.4" />
<polygon points="313.7,132.17 327.5,128.13 327.5,136.83 313.7,140.87" fill="#ffffff" stroke="none" stroke-width="0.4" />
<polygon points="316.9,122.23 327.7,119.07 327.7,128.07 316.9,131.23" fill="#8a8a8a" stroke="none" stroke-width="0.4" />
<polygon points="317.5,122.36 318.9,121.95 318.9,130.45 317.5,130.86" fill="#9fd4f1" stroke="none" stroke-width="0.4" />
<polygon points="320.1,121.6 323.2,120.69 323.2,129.19 320.1,130.1" fill="#9fd4f1" stroke="none" stroke-width="0.4" />
<polygon points="324.1,120.43 327.2,119.52 327.2,128.02 324.1,128.93" fill="#9fd4f1" stroke="none" stroke-width="0.4" />
<polygon points="331.9,118.25 340.5,115.73 340.5,120.83 331.9,123.35" fill="#666" stroke="none" stroke-width="0.4" />
<polygon points="332.6,118.64 335.9,117.68 335.9,121.48 332.6,122.44" fill="#9fd4f1" stroke="none" stroke-width="0.4" />
<polygon points="336.6,117.47 339.9,116.5 339.9,120.3 336.6,121.27" fill="#9fd4f1" stroke="none" stroke-width="0.4" />
<line x1="293.3" y1="147.34" x2="346.9" y2="131.66" stroke="#6a6a6a" stroke-width="0.7" />
<line x1="293.3" y1="139.04" x2="313.6" y2="133.1" stroke="#9a9a9a" stroke-width="0.5" />
<line x1="327.6" y1="129" x2="346.9" y2="123.36" stroke="#9a9a9a" stroke-width="0.5" />
<polygon points="293.7,120.57 313.5,114.78 313.5,122.38 293.7,128.17" fill="#d3d3d3" stroke="none" stroke-width="0.4" />
<line x1="296.18" y1="126.85" x2="296.18" y2="120.45" stroke="#e6e6e6" stroke-width="0.55" />
<line x1="298.65" y1="126.12" x2="298.65" y2="119.72" stroke="#e6e6e6" stroke-width="0.55" />
<line x1="301.12" y1="125.4" x2="301.12" y2="119" stroke="#e6e6e6" stroke-width="0.55" />
<line x1="303.6" y1="124.68" x2="303.6" y2="118.28" stroke="#e6e6e6" stroke-width="0.55" />
<line x1="306.07" y1="123.95" x2="306.07" y2="117.55" stroke="#e6e6e6" stroke-width="0.55" />
<line x1="308.55" y1="123.23" x2="308.55" y2="116.83" stroke="#e6e6e6" stroke-width="0.55" />
<line x1="311.02" y1="122.5" x2="311.02" y2="116.1" stroke="#e6e6e6" stroke-width="0.55" />
<polygon points="327.7,110.62 346.6,105.09 346.6,112.69 327.7,118.22" fill="#d3d3d3" stroke="none" stroke-width="0.4" />
<line x1="330.4" y1="116.83" x2="330.4" y2="110.43" stroke="#e6e6e6" stroke-width="0.55" />
<line x1="333.1" y1="116.04" x2="333.1" y2="109.64" stroke="#e6e6e6" stroke-width="0.55" />
<line x1="335.8" y1="115.25" x2="335.8" y2="108.85" stroke="#e6e6e6" stroke-width="0.55" />
<line x1="338.5" y1="114.46" x2="338.5" y2="108.06" stroke="#e6e6e6" stroke-width="0.55" />
<line x1="341.2" y1="113.67" x2="341.2" y2="107.27" stroke="#e6e6e6" stroke-width="0.55" />
<line x1="343.9" y1="112.88" x2="343.9" y2="106.48" stroke="#e6e6e6" stroke-width="0.55" />
<polygon points="294,111.89 295.7,111.39 295.7,115.29 294,115.79" fill="#9fd4f1" stroke="#6a6a6a" stroke-width="0.45" />
<polygon points="298.9,109.65 310.5,106.26 310.5,116.46 298.9,119.85" fill="#8a8a8a" stroke="none" stroke-width="0.4" />
<polygon points="299.6,109.85 304.3,108.47 304.3,118.27 299.6,119.65" fill="#9fd4f1" stroke="none" stroke-width="0.4" />
<polygon points="305.3,108.18 309.9,106.83 309.9,116.63 305.3,117.98" fill="#9fd4f1" stroke="none" stroke-width="0.4" />
<polygon points="298.3,119.43 311.3,115.62 311.3,123.02 298.3,126.83" fill="#d3d3d3" stroke="none" stroke-width="0.4" />
<line x1="300.47" y1="125.59" x2="300.47" y2="119.39" stroke="#e6e6e6" stroke-width="0.55" />
<line x1="302.63" y1="124.96" x2="302.63" y2="118.76" stroke="#e6e6e6" stroke-width="0.55" />
<line x1="304.8" y1="124.33" x2="304.8" y2="118.13" stroke="#e6e6e6" stroke-width="0.55" />
<line x1="306.97" y1="123.69" x2="306.97" y2="117.49" stroke="#e6e6e6" stroke-width="0.55" />
<line x1="309.13" y1="123.06" x2="309.13" y2="116.86" stroke="#e6e6e6" stroke-width="0.55" />
<polygon points="298.8,109.68 299.6,109.45 299.6,126.45 298.8,126.68" fill="#8a8a8a" stroke="none" stroke-width="0.4" />
<polygon points="309.9,106.43 310.7,106.2 310.7,123.2 309.9,123.43" fill="#8a8a8a" stroke="none" stroke-width="0.4" />
<polygon points="313.7,113.72 327.5,109.68 327.5,118.38 313.7,122.42" fill="#ffffff" stroke="none" stroke-width="0.4" />
<polygon points="316.9,103.78 327.7,100.62 327.7,109.62 316.9,112.78" fill="#8a8a8a" stroke="none" stroke-width="0.4" />
<polygon points="317.5,103.91 318.9,103.5 318.9,112 317.5,112.41" fill="#9fd4f1" stroke="none" stroke-width="0.4" />
<polygon points="320.1,103.15 323.2,102.24 323.2,110.74 320.1,111.65" fill="#9fd4f1" stroke="none" stroke-width="0.4" />
<polygon points="324.1,101.98 327.2,101.07 327.2,109.57 324.1,110.48" fill="#9fd4f1" stroke="none" stroke-width="0.4" />
<polygon points="331.9,99.8 340.5,97.28 340.5,102.38 331.9,104.9" fill="#666" stroke="none" stroke-width="0.4" />
<polygon points="332.6,100.19 335.9,99.23 335.9,103.03 332.6,103.99" fill="#9fd4f1" stroke="none" stroke-width="0.4" />
<polygon points="336.6,99.02 339.9,98.05 339.9,101.85 336.6,102.82" fill="#9fd4f1" stroke="none" stroke-width="0.4" />
<line x1="293.3" y1="128.89" x2="346.9" y2="113.21" stroke="#6a6a6a" stroke-width="0.7" />
<line x1="293.3" y1="120.59" x2="313.6" y2="114.65" stroke="#9a9a9a" stroke-width="0.5" />
<line x1="327.6" y1="110.55" x2="346.9" y2="104.91" stroke="#9a9a9a" stroke-width="0.5" />
<line x1="293.3" y1="184.24" x2="293.3" y2="110.14" stroke="#9a9a9a" stroke-width="0.5" />
<line x1="346.9" y1="168.56" x2="346.9" y2="94.46" stroke="#9a9a9a" stroke-width="0.5" />
<line x1="313.6" y1="178.3" x2="313.6" y2="104.2" stroke="#a8a8a8" stroke-width="0.55" />
<line x1="327.8" y1="174.15" x2="327.8" y2="100.05" stroke="#707070" stroke-width="0.55" />
<polygon points="361.2,90.27 414.8,74.59 414.8,148.69 361.2,164.37" fill="#c8c8c8" stroke="none" stroke-width="0.4" />
<polygon points="361.6,156.06 381.4,150.26 381.4,157.86 361.6,163.66" fill="#d3d3d3" stroke="none" stroke-width="0.4" />
<line x1="364.07" y1="162.33" x2="364.07" y2="155.93" stroke="#e6e6e6" stroke-width="0.55" />
<line x1="366.55" y1="161.61" x2="366.55" y2="155.21" stroke="#e6e6e6" stroke-width="0.55" />
<line x1="369.02" y1="160.88" x2="369.02" y2="154.48" stroke="#e6e6e6" stroke-width="0.55" />
<line x1="371.5" y1="160.16" x2="371.5" y2="153.76" stroke="#e6e6e6" stroke-width="0.55" />
<line x1="373.98" y1="159.43" x2="373.98" y2="153.03" stroke="#e6e6e6" stroke-width="0.55" />
<line x1="376.45" y1="158.71" x2="376.45" y2="152.31" stroke="#e6e6e6" stroke-width="0.55" />
<line x1="378.93" y1="157.99" x2="378.93" y2="151.59" stroke="#e6e6e6" stroke-width="0.55" />
<polygon points="395.6,146.11 414.5,140.58 414.5,148.18 395.6,153.71" fill="#d3d3d3" stroke="none" stroke-width="0.4" />
<line x1="398.3" y1="152.32" x2="398.3" y2="145.92" stroke="#e6e6e6" stroke-width="0.55" />
<line x1="401" y1="151.53" x2="401" y2="145.13" stroke="#e6e6e6" stroke-width="0.55" />
<line x1="403.7" y1="150.74" x2="403.7" y2="144.34" stroke="#e6e6e6" stroke-width="0.55" />
<line x1="406.4" y1="149.95" x2="406.4" y2="143.55" stroke="#e6e6e6" stroke-width="0.55" />
<line x1="409.1" y1="149.16" x2="409.1" y2="142.76" stroke="#e6e6e6" stroke-width="0.55" />
<line x1="411.8" y1="148.37" x2="411.8" y2="141.97" stroke="#e6e6e6" stroke-width="0.55" />
<polygon points="361.9,147.37 363.6,146.87 363.6,150.77 361.9,151.27" fill="#9fd4f1" stroke="#6a6a6a" stroke-width="0.45" />
<polygon points="366.8,145.13 378.4,141.74 378.4,151.94 366.8,155.33" fill="#8a8a8a" stroke="none" stroke-width="0.4" />
<polygon points="367.5,145.33 372.2,143.95 372.2,153.75 367.5,155.13" fill="#9fd4f1" stroke="none" stroke-width="0.4" />
<polygon points="373.2,143.66 377.8,142.32 377.8,152.12 373.2,153.46" fill="#9fd4f1" stroke="none" stroke-width="0.4" />
<polygon points="366.2,154.91 379.2,151.11 379.2,158.51 366.2,162.31" fill="#d3d3d3" stroke="none" stroke-width="0.4" />
<line x1="368.37" y1="161.08" x2="368.37" y2="154.88" stroke="#e6e6e6" stroke-width="0.55" />
<line x1="370.53" y1="160.44" x2="370.53" y2="154.24" stroke="#e6e6e6" stroke-width="0.55" />
<line x1="372.7" y1="159.81" x2="372.7" y2="153.61" stroke="#e6e6e6" stroke-width="0.55" />
<line x1="374.87" y1="159.17" x2="374.87" y2="152.97" stroke="#e6e6e6" stroke-width="0.55" />
<line x1="377.03" y1="158.54" x2="377.03" y2="152.34" stroke="#e6e6e6" stroke-width="0.55" />
<polygon points="366.7,145.16 367.5,144.93 367.5,161.93 366.7,162.16" fill="#8a8a8a" stroke="none" stroke-width="0.4" />
<polygon points="377.8,141.92 378.6,141.68 378.6,158.68 377.8,158.92" fill="#8a8a8a" stroke="none" stroke-width="0.4" />
<polygon points="381.6,149.2 395.4,145.17 395.4,153.87 381.6,157.9" fill="#ffffff" stroke="none" stroke-width="0.4" />
<polygon points="384.8,139.27 395.6,136.11 395.6,145.11 384.8,148.27" fill="#8a8a8a" stroke="none" stroke-width="0.4" />
<polygon points="385.4,139.39 386.8,138.98 386.8,147.48 385.4,147.89" fill="#9fd4f1" stroke="none" stroke-width="0.4" />
<polygon points="388,138.63 391.1,137.72 391.1,146.22 388,147.13" fill="#9fd4f1" stroke="none" stroke-width="0.4" />
<polygon points="392,137.46 395.1,136.55 395.1,145.05 392,145.96" fill="#9fd4f1" stroke="none" stroke-width="0.4" />
<polygon points="399.8,135.28 408.4,132.76 408.4,137.86 399.8,140.38" fill="#666" stroke="none" stroke-width="0.4" />
<polygon points="400.5,135.67 403.8,134.71 403.8,138.51 400.5,139.47" fill="#9fd4f1" stroke="none" stroke-width="0.4" />
<polygon points="404.5,134.5 407.8,133.54 407.8,137.34 404.5,138.3" fill="#9fd4f1" stroke="none" stroke-width="0.4" />
<line x1="361.2" y1="156.07" x2="381.5" y2="150.13" stroke="#9a9a9a" stroke-width="0.5" />
<line x1="395.5" y1="146.04" x2="414.8" y2="140.39" stroke="#9a9a9a" stroke-width="0.5" />
<polygon points="361.6,137.61 381.4,131.81 381.4,139.41 361.6,145.21" fill="#d3d3d3" stroke="none" stroke-width="0.4" />
<line x1="364.07" y1="143.88" x2="364.07" y2="137.48" stroke="#e6e6e6" stroke-width="0.55" />
<line x1="366.55" y1="143.16" x2="366.55" y2="136.76" stroke="#e6e6e6" stroke-width="0.55" />
<line x1="369.02" y1="142.43" x2="369.02" y2="136.03" stroke="#e6e6e6" stroke-width="0.55" />
<line x1="371.5" y1="141.71" x2="371.5" y2="135.31" stroke="#e6e6e6" stroke-width="0.55" />
<line x1="373.98" y1="140.98" x2="373.98" y2="134.58" stroke="#e6e6e6" stroke-width="0.55" />
<line x1="376.45" y1="140.26" x2="376.45" y2="133.86" stroke="#e6e6e6" stroke-width="0.55" />
<line x1="378.93" y1="139.54" x2="378.93" y2="133.14" stroke="#e6e6e6" stroke-width="0.55" />
<polygon points="395.6,127.66 414.5,122.13 414.5,129.73 395.6,135.26" fill="#d3d3d3" stroke="none" stroke-width="0.4" />
<line x1="398.3" y1="133.87" x2="398.3" y2="127.47" stroke="#e6e6e6" stroke-width="0.55" />
<line x1="401" y1="133.08" x2="401" y2="126.68" stroke="#e6e6e6" stroke-width="0.55" />
<line x1="403.7" y1="132.29" x2="403.7" y2="125.89" stroke="#e6e6e6" stroke-width="0.55" />
<line x1="406.4" y1="131.5" x2="406.4" y2="125.1" stroke="#e6e6e6" stroke-width="0.55" />
<line x1="409.1" y1="130.71" x2="409.1" y2="124.31" stroke="#e6e6e6" stroke-width="0.55" />
<line x1="411.8" y1="129.92" x2="411.8" y2="123.52" stroke="#e6e6e6" stroke-width="0.55" />
<polygon points="361.9,128.92 363.6,128.42 363.6,132.32 361.9,132.82" fill="#9fd4f1" stroke="#6a6a6a" stroke-width="0.45" />
<polygon points="366.8,126.68 378.4,123.29 378.4,133.49 366.8,136.88" fill="#8a8a8a" stroke="none" stroke-width="0.4" />
<polygon points="367.5,126.88 372.2,125.5 372.2,135.3 367.5,136.68" fill="#9fd4f1" stroke="none" stroke-width="0.4" />
<polygon points="373.2,125.21 377.8,123.87 377.8,133.67 373.2,135.01" fill="#9fd4f1" stroke="none" stroke-width="0.4" />
<polygon points="366.2,136.46 379.2,132.66 379.2,140.06 366.2,143.86" fill="#d3d3d3" stroke="none" stroke-width="0.4" />
<line x1="368.37" y1="142.63" x2="368.37" y2="136.43" stroke="#e6e6e6" stroke-width="0.55" />
<line x1="370.53" y1="141.99" x2="370.53" y2="135.79" stroke="#e6e6e6" stroke-width="0.55" />
<line x1="372.7" y1="141.36" x2="372.7" y2="135.16" stroke="#e6e6e6" stroke-width="0.55" />
<line x1="374.87" y1="140.72" x2="374.87" y2="134.52" stroke="#e6e6e6" stroke-width="0.55" />
<line x1="377.03" y1="140.09" x2="377.03" y2="133.89" stroke="#e6e6e6" stroke-width="0.55" />
<polygon points="366.7,126.71 367.5,126.48 367.5,143.48 366.7,143.71" fill="#8a8a8a" stroke="none" stroke-width="0.4" />
<polygon points="377.8,123.47 378.6,123.23 378.6,140.23 377.8,140.47" fill="#8a8a8a" stroke="none" stroke-width="0.4" />
<polygon points="381.6,130.75 395.4,126.72 395.4,135.42 381.6,139.45" fill="#ffffff" stroke="none" stroke-width="0.4" />
<polygon points="384.8,120.82 395.6,117.66 395.6,126.66 384.8,129.82" fill="#8a8a8a" stroke="none" stroke-width="0.4" />
<polygon points="385.4,120.94 386.8,120.53 386.8,129.03 385.4,129.44" fill="#9fd4f1" stroke="none" stroke-width="0.4" />
<polygon points="388,120.18 391.1,119.27 391.1,127.77 388,128.68" fill="#9fd4f1" stroke="none" stroke-width="0.4" />
<polygon points="392,119.01 395.1,118.1 395.1,126.6 392,127.51" fill="#9fd4f1" stroke="none" stroke-width="0.4" />
<polygon points="399.8,116.83 408.4,114.31 408.4,119.41 399.8,121.93" fill="#666" stroke="none" stroke-width="0.4" />
<polygon points="400.5,117.22 403.8,116.26 403.8,120.06 400.5,121.02" fill="#9fd4f1" stroke="none" stroke-width="0.4" />
<polygon points="404.5,116.05 407.8,115.09 407.8,118.89 404.5,119.85" fill="#9fd4f1" stroke="none" stroke-width="0.4" />
<line x1="361.2" y1="145.92" x2="414.8" y2="130.24" stroke="#6a6a6a" stroke-width="0.7" />
<line x1="361.2" y1="137.62" x2="381.5" y2="131.68" stroke="#9a9a9a" stroke-width="0.5" />
<line x1="395.5" y1="127.59" x2="414.8" y2="121.94" stroke="#9a9a9a" stroke-width="0.5" />
<polygon points="361.6,119.16 381.4,113.36 381.4,120.96 361.6,126.76" fill="#d3d3d3" stroke="none" stroke-width="0.4" />
<line x1="364.07" y1="125.43" x2="364.07" y2="119.03" stroke="#e6e6e6" stroke-width="0.55" />
<line x1="366.55" y1="124.71" x2="366.55" y2="118.31" stroke="#e6e6e6" stroke-width="0.55" />
<line x1="369.02" y1="123.98" x2="369.02" y2="117.58" stroke="#e6e6e6" stroke-width="0.55" />
<line x1="371.5" y1="123.26" x2="371.5" y2="116.86" stroke="#e6e6e6" stroke-width="0.55" />
<line x1="373.98" y1="122.53" x2="373.98" y2="116.13" stroke="#e6e6e6" stroke-width="0.55" />
<line x1="376.45" y1="121.81" x2="376.45" y2="115.41" stroke="#e6e6e6" stroke-width="0.55" />
<line x1="378.93" y1="121.09" x2="378.93" y2="114.69" stroke="#e6e6e6" stroke-width="0.55" />
<polygon points="395.6,109.21 414.5,103.68 414.5,111.28 395.6,116.81" fill="#d3d3d3" stroke="none" stroke-width="0.4" />
<line x1="398.3" y1="115.42" x2="398.3" y2="109.02" stroke="#e6e6e6" stroke-width="0.55" />
<line x1="401" y1="114.63" x2="401" y2="108.23" stroke="#e6e6e6" stroke-width="0.55" />
<line x1="403.7" y1="113.84" x2="403.7" y2="107.44" stroke="#e6e6e6" stroke-width="0.55" />
<line x1="406.4" y1="113.05" x2="406.4" y2="106.65" stroke="#e6e6e6" stroke-width="0.55" />
<line x1="409.1" y1="112.26" x2="409.1" y2="105.86" stroke="#e6e6e6" stroke-width="0.55" />
<line x1="411.8" y1="111.47" x2="411.8" y2="105.07" stroke="#e6e6e6" stroke-width="0.55" />
<polygon points="361.9,110.47 363.6,109.97 363.6,113.87 361.9,114.37" fill="#9fd4f1" stroke="#6a6a6a" stroke-width="0.45" />
<polygon points="366.8,108.23 378.4,104.84 378.4,115.04 366.8,118.43" fill="#8a8a8a" stroke="none" stroke-width="0.4" />
<polygon points="367.5,108.43 372.2,107.05 372.2,116.85 367.5,118.23" fill="#9fd4f1" stroke="none" stroke-width="0.4" />
<polygon points="373.2,106.76 377.8,105.42 377.8,115.22 373.2,116.56" fill="#9fd4f1" stroke="none" stroke-width="0.4" />
<polygon points="366.2,118.01 379.2,114.21 379.2,121.61 366.2,125.41" fill="#d3d3d3" stroke="none" stroke-width="0.4" />
<line x1="368.37" y1="124.18" x2="368.37" y2="117.98" stroke="#e6e6e6" stroke-width="0.55" />
<line x1="370.53" y1="123.54" x2="370.53" y2="117.34" stroke="#e6e6e6" stroke-width="0.55" />
<line x1="372.7" y1="122.91" x2="372.7" y2="116.71" stroke="#e6e6e6" stroke-width="0.55" />
<line x1="374.87" y1="122.27" x2="374.87" y2="116.07" stroke="#e6e6e6" stroke-width="0.55" />
<line x1="377.03" y1="121.64" x2="377.03" y2="115.44" stroke="#e6e6e6" stroke-width="0.55" />
<polygon points="366.7,108.26 367.5,108.03 367.5,125.03 366.7,125.26" fill="#8a8a8a" stroke="none" stroke-width="0.4" />
<polygon points="377.8,105.02 378.6,104.78 378.6,121.78 377.8,122.02" fill="#8a8a8a" stroke="none" stroke-width="0.4" />
<polygon points="381.6,112.3 395.4,108.27 395.4,116.97 381.6,121" fill="#ffffff" stroke="none" stroke-width="0.4" />
<polygon points="384.8,102.37 395.6,99.21 395.6,108.21 384.8,111.37" fill="#8a8a8a" stroke="none" stroke-width="0.4" />
<polygon points="385.4,102.49 386.8,102.08 386.8,110.58 385.4,110.99" fill="#9fd4f1" stroke="none" stroke-width="0.4" />
<polygon points="388,101.73 391.1,100.82 391.1,109.32 388,110.23" fill="#9fd4f1" stroke="none" stroke-width="0.4" />
<polygon points="392,100.56 395.1,99.65 395.1,108.15 392,109.06" fill="#9fd4f1" stroke="none" stroke-width="0.4" />
<polygon points="399.8,98.38 408.4,95.86 408.4,100.96 399.8,103.48" fill="#666" stroke="none" stroke-width="0.4" />
<polygon points="400.5,98.77 403.8,97.81 403.8,101.61 400.5,102.57" fill="#9fd4f1" stroke="none" stroke-width="0.4" />
<polygon points="404.5,97.6 407.8,96.64 407.8,100.44 404.5,101.4" fill="#9fd4f1" stroke="none" stroke-width="0.4" />
<line x1="361.2" y1="127.47" x2="414.8" y2="111.79" stroke="#6a6a6a" stroke-width="0.7" />
<line x1="361.2" y1="119.17" x2="381.5" y2="113.23" stroke="#9a9a9a" stroke-width="0.5" />
<line x1="395.5" y1="109.14" x2="414.8" y2="103.49" stroke="#9a9a9a" stroke-width="0.5" />
<polygon points="361.6,100.71 381.4,94.91 381.4,102.51 361.6,108.31" fill="#d3d3d3" stroke="none" stroke-width="0.4" />
<line x1="364.07" y1="106.98" x2="364.07" y2="100.58" stroke="#e6e6e6" stroke-width="0.55" />
<line x1="366.55" y1="106.26" x2="366.55" y2="99.86" stroke="#e6e6e6" stroke-width="0.55" />
<line x1="369.02" y1="105.53" x2="369.02" y2="99.13" stroke="#e6e6e6" stroke-width="0.55" />
<line x1="371.5" y1="104.81" x2="371.5" y2="98.41" stroke="#e6e6e6" stroke-width="0.55" />
<line x1="373.98" y1="104.08" x2="373.98" y2="97.68" stroke="#e6e6e6" stroke-width="0.55" />
<line x1="376.45" y1="103.36" x2="376.45" y2="96.96" stroke="#e6e6e6" stroke-width="0.55" />
<line x1="378.93" y1="102.64" x2="378.93" y2="96.24" stroke="#e6e6e6" stroke-width="0.55" />
<polygon points="395.6,90.76 414.5,85.23 414.5,92.83 395.6,98.36" fill="#d3d3d3" stroke="none" stroke-width="0.4" />
<line x1="398.3" y1="96.97" x2="398.3" y2="90.57" stroke="#e6e6e6" stroke-width="0.55" />
<line x1="401" y1="96.18" x2="401" y2="89.78" stroke="#e6e6e6" stroke-width="0.55" />
<line x1="403.7" y1="95.39" x2="403.7" y2="88.99" stroke="#e6e6e6" stroke-width="0.55" />
<line x1="406.4" y1="94.6" x2="406.4" y2="88.2" stroke="#e6e6e6" stroke-width="0.55" />
<line x1="409.1" y1="93.81" x2="409.1" y2="87.41" stroke="#e6e6e6" stroke-width="0.55" />
<line x1="411.8" y1="93.02" x2="411.8" y2="86.62" stroke="#e6e6e6" stroke-width="0.55" />
<polygon points="361.9,92.02 363.6,91.52 363.6,95.42 361.9,95.92" fill="#9fd4f1" stroke="#6a6a6a" stroke-width="0.45" />
<polygon points="366.8,89.78 378.4,86.39 378.4,96.59 366.8,99.98" fill="#8a8a8a" stroke="none" stroke-width="0.4" />
<polygon points="367.5,89.98 372.2,88.6 372.2,98.4 367.5,99.78" fill="#9fd4f1" stroke="none" stroke-width="0.4" />
<polygon points="373.2,88.31 377.8,86.97 377.8,96.77 373.2,98.11" fill="#9fd4f1" stroke="none" stroke-width="0.4" />
<polygon points="366.2,99.56 379.2,95.76 379.2,103.16 366.2,106.96" fill="#d3d3d3" stroke="none" stroke-width="0.4" />
<line x1="368.37" y1="105.73" x2="368.37" y2="99.53" stroke="#e6e6e6" stroke-width="0.55" />
<line x1="370.53" y1="105.09" x2="370.53" y2="98.89" stroke="#e6e6e6" stroke-width="0.55" />
<line x1="372.7" y1="104.46" x2="372.7" y2="98.26" stroke="#e6e6e6" stroke-width="0.55" />
<line x1="374.87" y1="103.82" x2="374.87" y2="97.62" stroke="#e6e6e6" stroke-width="0.55" />
<line x1="377.03" y1="103.19" x2="377.03" y2="96.99" stroke="#e6e6e6" stroke-width="0.55" />
<polygon points="366.7,89.81 367.5,89.58 367.5,106.58 366.7,106.81" fill="#8a8a8a" stroke="none" stroke-width="0.4" />
<polygon points="377.8,86.57 378.6,86.33 378.6,103.33 377.8,103.57" fill="#8a8a8a" stroke="none" stroke-width="0.4" />
<polygon points="381.6,93.85 395.4,89.82 395.4,98.52 381.6,102.55" fill="#ffffff" stroke="none" stroke-width="0.4" />
<polygon points="384.8,83.92 395.6,80.76 395.6,89.76 384.8,92.92" fill="#8a8a8a" stroke="none" stroke-width="0.4" />
<polygon points="385.4,84.04 386.8,83.63 386.8,92.13 385.4,92.54" fill="#9fd4f1" stroke="none" stroke-width="0.4" />
<polygon points="388,83.28 391.1,82.37 391.1,90.87 388,91.78" fill="#9fd4f1" stroke="none" stroke-width="0.4" />
<polygon points="392,82.11 395.1,81.2 395.1,89.7 392,90.61" fill="#9fd4f1" stroke="none" stroke-width="0.4" />
<polygon points="399.8,79.93 408.4,77.41 408.4,82.51 399.8,85.03" fill="#666" stroke="none" stroke-width="0.4" />
<polygon points="400.5,80.32 403.8,79.36 403.8,83.16 400.5,84.12" fill="#9fd4f1" stroke="none" stroke-width="0.4" />
<polygon points="404.5,79.15 407.8,78.19 407.8,81.99 404.5,82.95" fill="#9fd4f1" stroke="none" stroke-width="0.4" />
<line x1="361.2" y1="109.02" x2="414.8" y2="93.34" stroke="#6a6a6a" stroke-width="0.7" />
<line x1="361.2" y1="100.72" x2="381.5" y2="94.78" stroke="#9a9a9a" stroke-width="0.5" />
<line x1="395.5" y1="90.69" x2="414.8" y2="85.04" stroke="#9a9a9a" stroke-width="0.5" />
<line x1="361.2" y1="164.37" x2="361.2" y2="90.27" stroke="#9a9a9a" stroke-width="0.5" />
<line x1="414.8" y1="148.69" x2="414.8" y2="74.59" stroke="#9a9a9a" stroke-width="0.5" />
<line x1="381.5" y1="158.43" x2="381.5" y2="84.33" stroke="#a8a8a8" stroke-width="0.55" />
<line x1="395.7" y1="154.28" x2="395.7" y2="80.18" stroke="#707070" stroke-width="0.55" />
<polygon points="429.1,70.4 482.7,54.72 482.7,128.82 429.1,144.5" fill="#c8c8c8" stroke="none" stroke-width="0.4" />
<polygon points="429.5,136.19 449.3,130.39 449.3,137.99 429.5,143.79" fill="#d3d3d3" stroke="none" stroke-width="0.4" />
<line x1="431.98" y1="142.46" x2="431.98" y2="136.06" stroke="#e6e6e6" stroke-width="0.55" />
<line x1="434.45" y1="141.74" x2="434.45" y2="135.34" stroke="#e6e6e6" stroke-width="0.55" />
<line x1="436.93" y1="141.02" x2="436.93" y2="134.62" stroke="#e6e6e6" stroke-width="0.55" />
<line x1="439.4" y1="140.29" x2="439.4" y2="133.89" stroke="#e6e6e6" stroke-width="0.55" />
<line x1="441.88" y1="139.57" x2="441.88" y2="133.17" stroke="#e6e6e6" stroke-width="0.55" />
<line x1="444.35" y1="138.84" x2="444.35" y2="132.44" stroke="#e6e6e6" stroke-width="0.55" />
<line x1="446.82" y1="138.12" x2="446.82" y2="131.72" stroke="#e6e6e6" stroke-width="0.55" />
<polygon points="463.5,126.24 482.4,120.71 482.4,128.31 463.5,133.84" fill="#d3d3d3" stroke="none" stroke-width="0.4" />
<line x1="466.2" y1="132.45" x2="466.2" y2="126.05" stroke="#e6e6e6" stroke-width="0.55" />
<line x1="468.9" y1="131.66" x2="468.9" y2="125.26" stroke="#e6e6e6" stroke-width="0.55" />
<line x1="471.6" y1="130.87" x2="471.6" y2="124.47" stroke="#e6e6e6" stroke-width="0.55" />
<line x1="474.3" y1="130.08" x2="474.3" y2="123.68" stroke="#e6e6e6" stroke-width="0.55" />
<line x1="477" y1="129.29" x2="477" y2="122.89" stroke="#e6e6e6" stroke-width="0.55" />
<line x1="479.7" y1="128.5" x2="479.7" y2="122.1" stroke="#e6e6e6" stroke-width="0.55" />
<polygon points="429.8,127.5 431.5,127 431.5,130.9 429.8,131.4" fill="#9fd4f1" stroke="#6a6a6a" stroke-width="0.45" />
<polygon points="434.7,125.27 446.3,121.87 446.3,132.07 434.7,135.47" fill="#8a8a8a" stroke="none" stroke-width="0.4" />
<polygon points="435.4,125.46 440.1,124.09 440.1,133.89 435.4,135.26" fill="#9fd4f1" stroke="none" stroke-width="0.4" />
<polygon points="441.1,123.79 445.7,122.45 445.7,132.25 441.1,133.59" fill="#9fd4f1" stroke="none" stroke-width="0.4" />
<polygon points="434.1,135.04 447.1,131.24 447.1,138.64 434.1,142.44" fill="#d3d3d3" stroke="none" stroke-width="0.4" />
<line x1="436.27" y1="141.21" x2="436.27" y2="135.01" stroke="#e6e6e6" stroke-width="0.55" />
<line x1="438.43" y1="140.57" x2="438.43" y2="134.37" stroke="#e6e6e6" stroke-width="0.55" />
<line x1="440.6" y1="139.94" x2="440.6" y2="133.74" stroke="#e6e6e6" stroke-width="0.55" />
<line x1="442.77" y1="139.31" x2="442.77" y2="133.11" stroke="#e6e6e6" stroke-width="0.55" />
<line x1="444.93" y1="138.67" x2="444.93" y2="132.47" stroke="#e6e6e6" stroke-width="0.55" />
<polygon points="434.6,125.3 435.4,125.06 435.4,142.06 434.6,142.3" fill="#8a8a8a" stroke="none" stroke-width="0.4" />
<polygon points="445.7,122.05 446.5,121.81 446.5,138.81 445.7,139.05" fill="#8a8a8a" stroke="none" stroke-width="0.4" />
<polygon points="449.5,129.34 463.3,125.3 463.3,134 449.5,138.04" fill="#ffffff" stroke="none" stroke-width="0.4" />
<polygon points="452.7,119.4 463.5,116.24 463.5,125.24 452.7,128.4" fill="#8a8a8a" stroke="none" stroke-width="0.4" />
<polygon points="453.3,119.52 454.7,119.11 454.7,127.61 453.3,128.02" fill="#9fd4f1" stroke="none" stroke-width="0.4" />
<polygon points="455.9,118.76 459,117.86 459,126.36 455.9,127.26" fill="#9fd4f1" stroke="none" stroke-width="0.4" />
<polygon points="459.9,117.59 463,116.69 463,125.19 459.9,126.09" fill="#9fd4f1" stroke="none" stroke-width="0.4" />
<polygon points="467.7,115.41 476.3,112.89 476.3,117.99 467.7,120.51" fill="#666" stroke="none" stroke-width="0.4" />
<polygon points="468.4,115.81 471.7,114.84 471.7,118.64 468.4,119.61" fill="#9fd4f1" stroke="none" stroke-width="0.4" />
<polygon points="472.4,114.64 475.7,113.67 475.7,117.47 472.4,118.44" fill="#9fd4f1" stroke="none" stroke-width="0.4" />
<line x1="429.1" y1="136.2" x2="449.4" y2="130.27" stroke="#9a9a9a" stroke-width="0.5" />
<line x1="463.4" y1="126.17" x2="482.7" y2="120.52" stroke="#9a9a9a" stroke-width="0.5" />
<polygon points="429.5,117.74 449.3,111.94 449.3,119.54 429.5,125.34" fill="#d3d3d3" stroke="none" stroke-width="0.4" />
<line x1="431.98" y1="124.01" x2="431.98" y2="117.61" stroke="#e6e6e6" stroke-width="0.55" />
<line x1="434.45" y1="123.29" x2="434.45" y2="116.89" stroke="#e6e6e6" stroke-width="0.55" />
<line x1="436.93" y1="122.57" x2="436.93" y2="116.17" stroke="#e6e6e6" stroke-width="0.55" />
<line x1="439.4" y1="121.84" x2="439.4" y2="115.44" stroke="#e6e6e6" stroke-width="0.55" />
<line x1="441.88" y1="121.12" x2="441.88" y2="114.72" stroke="#e6e6e6" stroke-width="0.55" />
<line x1="444.35" y1="120.39" x2="444.35" y2="113.99" stroke="#e6e6e6" stroke-width="0.55" />
<line x1="446.82" y1="119.67" x2="446.82" y2="113.27" stroke="#e6e6e6" stroke-width="0.55" />
<polygon points="463.5,107.79 482.4,102.26 482.4,109.86 463.5,115.39" fill="#d3d3d3" stroke="none" stroke-width="0.4" />
<line x1="466.2" y1="114" x2="466.2" y2="107.6" stroke="#e6e6e6" stroke-width="0.55" />
<line x1="468.9" y1="113.21" x2="468.9" y2="106.81" stroke="#e6e6e6" stroke-width="0.55" />
<line x1="471.6" y1="112.42" x2="471.6" y2="106.02" stroke="#e6e6e6" stroke-width="0.55" />
<line x1="474.3" y1="111.63" x2="474.3" y2="105.23" stroke="#e6e6e6" stroke-width="0.55" />
<line x1="477" y1="110.84" x2="477" y2="104.44" stroke="#e6e6e6" stroke-width="0.55" />
<line x1="479.7" y1="110.05" x2="479.7" y2="103.65" stroke="#e6e6e6" stroke-width="0.55" />
<polygon points="429.8,109.05 431.5,108.55 431.5,112.45 429.8,112.95" fill="#9fd4f1" stroke="#6a6a6a" stroke-width="0.45" />
<polygon points="434.7,106.82 446.3,103.42 446.3,113.62 434.7,117.02" fill="#8a8a8a" stroke="none" stroke-width="0.4" />
<polygon points="435.4,107.01 440.1,105.64 440.1,115.44 435.4,116.81" fill="#9fd4f1" stroke="none" stroke-width="0.4" />
<polygon points="441.1,105.34 445.7,104 445.7,113.8 441.1,115.14" fill="#9fd4f1" stroke="none" stroke-width="0.4" />
<polygon points="434.1,116.59 447.1,112.79 447.1,120.19 434.1,123.99" fill="#d3d3d3" stroke="none" stroke-width="0.4" />
<line x1="436.27" y1="122.76" x2="436.27" y2="116.56" stroke="#e6e6e6" stroke-width="0.55" />
<line x1="438.43" y1="122.12" x2="438.43" y2="115.92" stroke="#e6e6e6" stroke-width="0.55" />
<line x1="440.6" y1="121.49" x2="440.6" y2="115.29" stroke="#e6e6e6" stroke-width="0.55" />
<line x1="442.77" y1="120.86" x2="442.77" y2="114.66" stroke="#e6e6e6" stroke-width="0.55" />
<line x1="444.93" y1="120.22" x2="444.93" y2="114.02" stroke="#e6e6e6" stroke-width="0.55" />
<polygon points="434.6,106.85 435.4,106.61 435.4,123.61 434.6,123.85" fill="#8a8a8a" stroke="none" stroke-width="0.4" />
<polygon points="445.7,103.6 446.5,103.36 446.5,120.36 445.7,120.6" fill="#8a8a8a" stroke="none" stroke-width="0.4" />
<polygon points="449.5,110.89 463.3,106.85 463.3,115.55 449.5,119.59" fill="#ffffff" stroke="none" stroke-width="0.4" />
<polygon points="452.7,100.95 463.5,97.79 463.5,106.79 452.7,109.95" fill="#8a8a8a" stroke="none" stroke-width="0.4" />
<polygon points="453.3,101.07 454.7,100.66 454.7,109.16 453.3,109.57" fill="#9fd4f1" stroke="none" stroke-width="0.4" />
<polygon points="455.9,100.31 459,99.41 459,107.91 455.9,108.81" fill="#9fd4f1" stroke="none" stroke-width="0.4" />
<polygon points="459.9,99.14 463,98.24 463,106.74 459.9,107.64" fill="#9fd4f1" stroke="none" stroke-width="0.4" />
<polygon points="467.7,96.96 476.3,94.44 476.3,99.54 467.7,102.06" fill="#666" stroke="none" stroke-width="0.4" />
<polygon points="468.4,97.36 471.7,96.39 471.7,100.19 468.4,101.16" fill="#9fd4f1" stroke="none" stroke-width="0.4" />
<polygon points="472.4,96.19 475.7,95.22 475.7,99.02 472.4,99.99" fill="#9fd4f1" stroke="none" stroke-width="0.4" />
<line x1="429.1" y1="126.05" x2="482.7" y2="110.37" stroke="#6a6a6a" stroke-width="0.7" />
<line x1="429.1" y1="117.75" x2="449.4" y2="111.82" stroke="#9a9a9a" stroke-width="0.5" />
<line x1="463.4" y1="107.72" x2="482.7" y2="102.07" stroke="#9a9a9a" stroke-width="0.5" />
<polygon points="429.5,99.29 449.3,93.49 449.3,101.09 429.5,106.89" fill="#d3d3d3" stroke="none" stroke-width="0.4" />
<line x1="431.98" y1="105.56" x2="431.98" y2="99.16" stroke="#e6e6e6" stroke-width="0.55" />
<line x1="434.45" y1="104.84" x2="434.45" y2="98.44" stroke="#e6e6e6" stroke-width="0.55" />
<line x1="436.93" y1="104.12" x2="436.93" y2="97.72" stroke="#e6e6e6" stroke-width="0.55" />
<line x1="439.4" y1="103.39" x2="439.4" y2="96.99" stroke="#e6e6e6" stroke-width="0.55" />
<line x1="441.88" y1="102.67" x2="441.88" y2="96.27" stroke="#e6e6e6" stroke-width="0.55" />
<line x1="444.35" y1="101.94" x2="444.35" y2="95.54" stroke="#e6e6e6" stroke-width="0.55" />
<line x1="446.82" y1="101.22" x2="446.82" y2="94.82" stroke="#e6e6e6" stroke-width="0.55" />
<polygon points="463.5,89.34 482.4,83.81 482.4,91.41 463.5,96.94" fill="#d3d3d3" stroke="none" stroke-width="0.4" />
<line x1="466.2" y1="95.55" x2="466.2" y2="89.15" stroke="#e6e6e6" stroke-width="0.55" />
<line x1="468.9" y1="94.76" x2="468.9" y2="88.36" stroke="#e6e6e6" stroke-width="0.55" />
<line x1="471.6" y1="93.97" x2="471.6" y2="87.57" stroke="#e6e6e6" stroke-width="0.55" />
<line x1="474.3" y1="93.18" x2="474.3" y2="86.78" stroke="#e6e6e6" stroke-width="0.55" />
<line x1="477" y1="92.39" x2="477" y2="85.99" stroke="#e6e6e6" stroke-width="0.55" />
<line x1="479.7" y1="91.6" x2="479.7" y2="85.2" stroke="#e6e6e6" stroke-width="0.55" />
<polygon points="429.8,90.6 431.5,90.1 431.5,94 429.8,94.5" fill="#9fd4f1" stroke="#6a6a6a" stroke-width="0.45" />
<polygon points="434.7,88.37 446.3,84.97 446.3,95.17 434.7,98.57" fill="#8a8a8a" stroke="none" stroke-width="0.4" />
<polygon points="435.4,88.56 440.1,87.19 440.1,96.99 435.4,98.36" fill="#9fd4f1" stroke="none" stroke-width="0.4" />
<polygon points="441.1,86.89 445.7,85.55 445.7,95.35 441.1,96.69" fill="#9fd4f1" stroke="none" stroke-width="0.4" />
<polygon points="434.1,98.14 447.1,94.34 447.1,101.74 434.1,105.54" fill="#d3d3d3" stroke="none" stroke-width="0.4" />
<line x1="436.27" y1="104.31" x2="436.27" y2="98.11" stroke="#e6e6e6" stroke-width="0.55" />
<line x1="438.43" y1="103.67" x2="438.43" y2="97.47" stroke="#e6e6e6" stroke-width="0.55" />
<line x1="440.6" y1="103.04" x2="440.6" y2="96.84" stroke="#e6e6e6" stroke-width="0.55" />
<line x1="442.77" y1="102.41" x2="442.77" y2="96.21" stroke="#e6e6e6" stroke-width="0.55" />
<line x1="444.93" y1="101.77" x2="444.93" y2="95.57" stroke="#e6e6e6" stroke-width="0.55" />
<polygon points="434.6,88.4 435.4,88.16 435.4,105.16 434.6,105.4" fill="#8a8a8a" stroke="none" stroke-width="0.4" />
<polygon points="445.7,85.15 446.5,84.91 446.5,101.91 445.7,102.15" fill="#8a8a8a" stroke="none" stroke-width="0.4" />
<polygon points="449.5,92.44 463.3,88.4 463.3,97.1 449.5,101.14" fill="#ffffff" stroke="none" stroke-width="0.4" />
<polygon points="452.7,82.5 463.5,79.34 463.5,88.34 452.7,91.5" fill="#8a8a8a" stroke="none" stroke-width="0.4" />
<polygon points="453.3,82.62 454.7,82.21 454.7,90.71 453.3,91.12" fill="#9fd4f1" stroke="none" stroke-width="0.4" />
<polygon points="455.9,81.86 459,80.96 459,89.46 455.9,90.36" fill="#9fd4f1" stroke="none" stroke-width="0.4" />
<polygon points="459.9,80.69 463,79.79 463,88.29 459.9,89.19" fill="#9fd4f1" stroke="none" stroke-width="0.4" />
<polygon points="467.7,78.51 476.3,75.99 476.3,81.09 467.7,83.61" fill="#666" stroke="none" stroke-width="0.4" />
<polygon points="468.4,78.91 471.7,77.94 471.7,81.74 468.4,82.71" fill="#9fd4f1" stroke="none" stroke-width="0.4" />
<polygon points="472.4,77.74 475.7,76.77 475.7,80.57 472.4,81.54" fill="#9fd4f1" stroke="none" stroke-width="0.4" />
<line x1="429.1" y1="107.6" x2="482.7" y2="91.92" stroke="#6a6a6a" stroke-width="0.7" />
<line x1="429.1" y1="99.3" x2="449.4" y2="93.37" stroke="#9a9a9a" stroke-width="0.5" />
<line x1="463.4" y1="89.27" x2="482.7" y2="83.62" stroke="#9a9a9a" stroke-width="0.5" />
<polygon points="429.5,80.84 449.3,75.04 449.3,82.64 429.5,88.44" fill="#d3d3d3" stroke="none" stroke-width="0.4" />
<line x1="431.98" y1="87.11" x2="431.98" y2="80.71" stroke="#e6e6e6" stroke-width="0.55" />
<line x1="434.45" y1="86.39" x2="434.45" y2="79.99" stroke="#e6e6e6" stroke-width="0.55" />
<line x1="436.93" y1="85.67" x2="436.93" y2="79.27" stroke="#e6e6e6" stroke-width="0.55" />
<line x1="439.4" y1="84.94" x2="439.4" y2="78.54" stroke="#e6e6e6" stroke-width="0.55" />
<line x1="441.88" y1="84.22" x2="441.88" y2="77.82" stroke="#e6e6e6" stroke-width="0.55" />
<line x1="444.35" y1="83.49" x2="444.35" y2="77.09" stroke="#e6e6e6" stroke-width="0.55" />
<line x1="446.82" y1="82.77" x2="446.82" y2="76.37" stroke="#e6e6e6" stroke-width="0.55" />
<polygon points="463.5,70.89 482.4,65.36 482.4,72.96 463.5,78.49" fill="#d3d3d3" stroke="none" stroke-width="0.4" />
<line x1="466.2" y1="77.1" x2="466.2" y2="70.7" stroke="#e6e6e6" stroke-width="0.55" />
<line x1="468.9" y1="76.31" x2="468.9" y2="69.91" stroke="#e6e6e6" stroke-width="0.55" />
<line x1="471.6" y1="75.52" x2="471.6" y2="69.12" stroke="#e6e6e6" stroke-width="0.55" />
<line x1="474.3" y1="74.73" x2="474.3" y2="68.33" stroke="#e6e6e6" stroke-width="0.55" />
<line x1="477" y1="73.94" x2="477" y2="67.54" stroke="#e6e6e6" stroke-width="0.55" />
<line x1="479.7" y1="73.15" x2="479.7" y2="66.75" stroke="#e6e6e6" stroke-width="0.55" />
<polygon points="429.8,72.15 431.5,71.65 431.5,75.55 429.8,76.05" fill="#9fd4f1" stroke="#6a6a6a" stroke-width="0.45" />
<polygon points="434.7,69.92 446.3,66.52 446.3,76.72 434.7,80.12" fill="#8a8a8a" stroke="none" stroke-width="0.4" />
<polygon points="435.4,70.11 440.1,68.74 440.1,78.54 435.4,79.91" fill="#9fd4f1" stroke="none" stroke-width="0.4" />
<polygon points="441.1,68.44 445.7,67.1 445.7,76.9 441.1,78.24" fill="#9fd4f1" stroke="none" stroke-width="0.4" />
<polygon points="434.1,79.69 447.1,75.89 447.1,83.29 434.1,87.09" fill="#d3d3d3" stroke="none" stroke-width="0.4" />
<line x1="436.27" y1="85.86" x2="436.27" y2="79.66" stroke="#e6e6e6" stroke-width="0.55" />
<line x1="438.43" y1="85.22" x2="438.43" y2="79.02" stroke="#e6e6e6" stroke-width="0.55" />
<line x1="440.6" y1="84.59" x2="440.6" y2="78.39" stroke="#e6e6e6" stroke-width="0.55" />
<line x1="442.77" y1="83.96" x2="442.77" y2="77.76" stroke="#e6e6e6" stroke-width="0.55" />
<line x1="444.93" y1="83.32" x2="444.93" y2="77.12" stroke="#e6e6e6" stroke-width="0.55" />
<polygon points="434.6,69.95 435.4,69.71 435.4,86.71 434.6,86.95" fill="#8a8a8a" stroke="none" stroke-width="0.4" />
<polygon points="445.7,66.7 446.5,66.46 446.5,83.46 445.7,83.7" fill="#8a8a8a" stroke="none" stroke-width="0.4" />
<polygon points="449.5,73.99 463.3,69.95 463.3,78.65 449.5,82.69" fill="#ffffff" stroke="none" stroke-width="0.4" />
<polygon points="452.7,64.05 463.5,60.89 463.5,69.89 452.7,73.05" fill="#8a8a8a" stroke="none" stroke-width="0.4" />
<polygon points="453.3,64.17 454.7,63.76 454.7,72.26 453.3,72.67" fill="#9fd4f1" stroke="none" stroke-width="0.4" />
<polygon points="455.9,63.41 459,62.51 459,71.01 455.9,71.91" fill="#9fd4f1" stroke="none" stroke-width="0.4" />
<polygon points="459.9,62.24 463,61.34 463,69.84 459.9,70.74" fill="#9fd4f1" stroke="none" stroke-width="0.4" />
<polygon points="467.7,60.06 476.3,57.54 476.3,62.64 467.7,65.16" fill="#666" stroke="none" stroke-width="0.4" />
<polygon points="468.4,60.46 471.7,59.49 471.7,63.29 468.4,64.26" fill="#9fd4f1" stroke="none" stroke-width="0.4" />
<polygon points="472.4,59.29 475.7,58.32 475.7,62.12 472.4,63.09" fill="#9fd4f1" stroke="none" stroke-width="0.4" />
<line x1="429.1" y1="89.15" x2="482.7" y2="73.47" stroke="#6a6a6a" stroke-width="0.7" />
<line x1="429.1" y1="80.85" x2="449.4" y2="74.92" stroke="#9a9a9a" stroke-width="0.5" />
<line x1="463.4" y1="70.82" x2="482.7" y2="65.17" stroke="#9a9a9a" stroke-width="0.5" />
<line x1="429.1" y1="144.5" x2="429.1" y2="70.4" stroke="#9a9a9a" stroke-width="0.5" />
<line x1="482.7" y1="128.82" x2="482.7" y2="54.72" stroke="#9a9a9a" stroke-width="0.5" />
<line x1="449.4" y1="138.57" x2="449.4" y2="64.47" stroke="#a8a8a8" stroke-width="0.55" />
<line x1="463.6" y1="134.41" x2="463.6" y2="60.31" stroke="#707070" stroke-width="0.55" />
<polygon points="497,50.54 550.6,34.85 550.6,108.95 497,124.64" fill="#c8c8c8" stroke="none" stroke-width="0.4" />
<polygon points="497.4,116.32 517.2,110.53 517.2,118.13 497.4,123.92" fill="#d3d3d3" stroke="none" stroke-width="0.4" />
<line x1="499.88" y1="122.6" x2="499.88" y2="116.2" stroke="#e6e6e6" stroke-width="0.55" />
<line x1="502.35" y1="121.87" x2="502.35" y2="115.47" stroke="#e6e6e6" stroke-width="0.55" />
<line x1="504.83" y1="121.15" x2="504.83" y2="114.75" stroke="#e6e6e6" stroke-width="0.55" />
<line x1="507.3" y1="120.42" x2="507.3" y2="114.02" stroke="#e6e6e6" stroke-width="0.55" />
<line x1="509.77" y1="119.7" x2="509.77" y2="113.3" stroke="#e6e6e6" stroke-width="0.55" />
<line x1="512.25" y1="118.98" x2="512.25" y2="112.58" stroke="#e6e6e6" stroke-width="0.55" />
<line x1="514.73" y1="118.25" x2="514.73" y2="111.85" stroke="#e6e6e6" stroke-width="0.55" />
<polygon points="531.4,106.37 550.3,100.84 550.3,108.44 531.4,113.97" fill="#d3d3d3" stroke="none" stroke-width="0.4" />
<line x1="534.1" y1="112.58" x2="534.1" y2="106.18" stroke="#e6e6e6" stroke-width="0.55" />
<line x1="536.8" y1="111.79" x2="536.8" y2="105.39" stroke="#e6e6e6" stroke-width="0.55" />
<line x1="539.5" y1="111" x2="539.5" y2="104.6" stroke="#e6e6e6" stroke-width="0.55" />
<line x1="542.2" y1="110.21" x2="542.2" y2="103.81" stroke="#e6e6e6" stroke-width="0.55" />
<line x1="544.9" y1="109.42" x2="544.9" y2="103.02" stroke="#e6e6e6" stroke-width="0.55" />
<line x1="547.6" y1="108.63" x2="547.6" y2="102.23" stroke="#e6e6e6" stroke-width="0.55" />
<polygon points="497.7,107.63 499.4,107.14 499.4,111.04 497.7,111.53" fill="#9fd4f1" stroke="#6a6a6a" stroke-width="0.45" />
<polygon points="502.6,105.4 514.2,102 514.2,112.2 502.6,115.6" fill="#8a8a8a" stroke="none" stroke-width="0.4" />
<polygon points="503.3,105.59 508,104.22 508,114.02 503.3,115.39" fill="#9fd4f1" stroke="none" stroke-width="0.4" />
<polygon points="509,103.93 513.6,102.58 513.6,112.38 509,113.73" fill="#9fd4f1" stroke="none" stroke-width="0.4" />
<polygon points="502,115.17 515,111.37 515,118.77 502,122.57" fill="#d3d3d3" stroke="none" stroke-width="0.4" />
<line x1="504.17" y1="121.34" x2="504.17" y2="115.14" stroke="#e6e6e6" stroke-width="0.55" />
<line x1="506.33" y1="120.71" x2="506.33" y2="114.51" stroke="#e6e6e6" stroke-width="0.55" />
<line x1="508.5" y1="120.07" x2="508.5" y2="113.87" stroke="#e6e6e6" stroke-width="0.55" />
<line x1="510.67" y1="119.44" x2="510.67" y2="113.24" stroke="#e6e6e6" stroke-width="0.55" />
<line x1="512.83" y1="118.8" x2="512.83" y2="112.6" stroke="#e6e6e6" stroke-width="0.55" />
<polygon points="502.5,105.43 503.3,105.19 503.3,122.19 502.5,122.43" fill="#8a8a8a" stroke="none" stroke-width="0.4" />
<polygon points="513.6,102.18 514.4,101.95 514.4,118.95 513.6,119.18" fill="#8a8a8a" stroke="none" stroke-width="0.4" />
<polygon points="517.4,109.47 531.2,105.43 531.2,114.13 517.4,118.17" fill="#ffffff" stroke="none" stroke-width="0.4" />
<polygon points="518.8,99.86 531.4,96.17 531.4,105.37 518.8,109.06" fill="#b2b2b2" stroke="none" stroke-width="0.4" />
<polygon points="535.6,95.54 544.2,93.03 544.2,98.13 535.6,100.64" fill="#666" stroke="none" stroke-width="0.4" />
<polygon points="536.3,95.94 539.6,94.97 539.6,98.77 536.3,99.74" fill="#9fd4f1" stroke="none" stroke-width="0.4" />
<polygon points="540.3,94.77 543.6,93.8 543.6,97.6 540.3,98.57" fill="#9fd4f1" stroke="none" stroke-width="0.4" />
<line x1="497" y1="116.34" x2="517.3" y2="110.4" stroke="#9a9a9a" stroke-width="0.5" />
<line x1="531.3" y1="106.3" x2="550.6" y2="100.65" stroke="#9a9a9a" stroke-width="0.5" />
<polygon points="497.4,97.87 517.2,92.08 517.2,99.68 497.4,105.47" fill="#d3d3d3" stroke="none" stroke-width="0.4" />
<line x1="499.88" y1="104.15" x2="499.88" y2="97.75" stroke="#e6e6e6" stroke-width="0.55" />
<line x1="502.35" y1="103.42" x2="502.35" y2="97.02" stroke="#e6e6e6" stroke-width="0.55" />
<line x1="504.83" y1="102.7" x2="504.83" y2="96.3" stroke="#e6e6e6" stroke-width="0.55" />
<line x1="507.3" y1="101.97" x2="507.3" y2="95.57" stroke="#e6e6e6" stroke-width="0.55" />
<line x1="509.77" y1="101.25" x2="509.77" y2="94.85" stroke="#e6e6e6" stroke-width="0.55" />
<line x1="512.25" y1="100.53" x2="512.25" y2="94.13" stroke="#e6e6e6" stroke-width="0.55" />
<line x1="514.73" y1="99.8" x2="514.73" y2="93.4" stroke="#e6e6e6" stroke-width="0.55" />
<polygon points="531.4,87.92 550.3,82.39 550.3,89.99 531.4,95.52" fill="#d3d3d3" stroke="none" stroke-width="0.4" />
<line x1="534.1" y1="94.13" x2="534.1" y2="87.73" stroke="#e6e6e6" stroke-width="0.55" />
<line x1="536.8" y1="93.34" x2="536.8" y2="86.94" stroke="#e6e6e6" stroke-width="0.55" />
<line x1="539.5" y1="92.55" x2="539.5" y2="86.15" stroke="#e6e6e6" stroke-width="0.55" />
<line x1="542.2" y1="91.76" x2="542.2" y2="85.36" stroke="#e6e6e6" stroke-width="0.55" />
<line x1="544.9" y1="90.97" x2="544.9" y2="84.57" stroke="#e6e6e6" stroke-width="0.55" />
<line x1="547.6" y1="90.18" x2="547.6" y2="83.78" stroke="#e6e6e6" stroke-width="0.55" />
<polygon points="497.7,89.18 499.4,88.69 499.4,92.59 497.7,93.08" fill="#9fd4f1" stroke="#6a6a6a" stroke-width="0.45" />
<polygon points="502.6,86.95 514.2,83.55 514.2,93.75 502.6,97.15" fill="#8a8a8a" stroke="none" stroke-width="0.4" />
<polygon points="503.3,87.14 508,85.77 508,95.57 503.3,96.94" fill="#9fd4f1" stroke="none" stroke-width="0.4" />
<polygon points="509,85.48 513.6,84.13 513.6,93.93 509,95.28" fill="#9fd4f1" stroke="none" stroke-width="0.4" />
<polygon points="502,96.72 515,92.92 515,100.32 502,104.12" fill="#d3d3d3" stroke="none" stroke-width="0.4" />
<line x1="504.17" y1="102.89" x2="504.17" y2="96.69" stroke="#e6e6e6" stroke-width="0.55" />
<line x1="506.33" y1="102.26" x2="506.33" y2="96.06" stroke="#e6e6e6" stroke-width="0.55" />
<line x1="508.5" y1="101.62" x2="508.5" y2="95.42" stroke="#e6e6e6" stroke-width="0.55" />
<line x1="510.67" y1="100.99" x2="510.67" y2="94.79" stroke="#e6e6e6" stroke-width="0.55" />
<line x1="512.83" y1="100.35" x2="512.83" y2="94.15" stroke="#e6e6e6" stroke-width="0.55" />
<polygon points="502.5,86.98 503.3,86.74 503.3,103.74 502.5,103.98" fill="#8a8a8a" stroke="none" stroke-width="0.4" />
<polygon points="513.6,83.73 514.4,83.5 514.4,100.5 513.6,100.73" fill="#8a8a8a" stroke="none" stroke-width="0.4" />
<polygon points="517.4,91.02 531.2,86.98 531.2,95.68 517.4,99.72" fill="#ffffff" stroke="none" stroke-width="0.4" />
<polygon points="518.8,81.41 531.4,77.72 531.4,86.92 518.8,90.61" fill="#b2b2b2" stroke="none" stroke-width="0.4" />
<polygon points="535.6,77.09 544.2,74.58 544.2,79.68 535.6,82.19" fill="#666" stroke="none" stroke-width="0.4" />
<polygon points="536.3,77.49 539.6,76.52 539.6,80.32 536.3,81.29" fill="#9fd4f1" stroke="none" stroke-width="0.4" />
<polygon points="540.3,76.32 543.6,75.35 543.6,79.15 540.3,80.12" fill="#9fd4f1" stroke="none" stroke-width="0.4" />
<line x1="497" y1="106.19" x2="550.6" y2="90.5" stroke="#6a6a6a" stroke-width="0.7" />
<line x1="497" y1="97.89" x2="517.3" y2="91.95" stroke="#9a9a9a" stroke-width="0.5" />
<line x1="531.3" y1="87.85" x2="550.6" y2="82.2" stroke="#9a9a9a" stroke-width="0.5" />
<polygon points="497.4,79.42 517.2,73.63 517.2,81.23 497.4,87.02" fill="#d3d3d3" stroke="none" stroke-width="0.4" />
<line x1="499.88" y1="85.7" x2="499.88" y2="79.3" stroke="#e6e6e6" stroke-width="0.55" />
<line x1="502.35" y1="84.97" x2="502.35" y2="78.57" stroke="#e6e6e6" stroke-width="0.55" />
<line x1="504.83" y1="84.25" x2="504.83" y2="77.85" stroke="#e6e6e6" stroke-width="0.55" />
<line x1="507.3" y1="83.52" x2="507.3" y2="77.12" stroke="#e6e6e6" stroke-width="0.55" />
<line x1="509.77" y1="82.8" x2="509.77" y2="76.4" stroke="#e6e6e6" stroke-width="0.55" />
<line x1="512.25" y1="82.08" x2="512.25" y2="75.68" stroke="#e6e6e6" stroke-width="0.55" />
<line x1="514.73" y1="81.35" x2="514.73" y2="74.95" stroke="#e6e6e6" stroke-width="0.55" />
<polygon points="531.4,69.47 550.3,63.94 550.3,71.54 531.4,77.07" fill="#d3d3d3" stroke="none" stroke-width="0.4" />
<line x1="534.1" y1="75.68" x2="534.1" y2="69.28" stroke="#e6e6e6" stroke-width="0.55" />
<line x1="536.8" y1="74.89" x2="536.8" y2="68.49" stroke="#e6e6e6" stroke-width="0.55" />
<line x1="539.5" y1="74.1" x2="539.5" y2="67.7" stroke="#e6e6e6" stroke-width="0.55" />
<line x1="542.2" y1="73.31" x2="542.2" y2="66.91" stroke="#e6e6e6" stroke-width="0.55" />
<line x1="544.9" y1="72.52" x2="544.9" y2="66.12" stroke="#e6e6e6" stroke-width="0.55" />
<line x1="547.6" y1="71.73" x2="547.6" y2="65.33" stroke="#e6e6e6" stroke-width="0.55" />
<polygon points="497.7,70.73 499.4,70.24 499.4,74.14 497.7,74.63" fill="#9fd4f1" stroke="#6a6a6a" stroke-width="0.45" />
<polygon points="502.6,68.5 514.2,65.1 514.2,75.3 502.6,78.7" fill="#8a8a8a" stroke="none" stroke-width="0.4" />
<polygon points="503.3,68.69 508,67.32 508,77.12 503.3,78.49" fill="#9fd4f1" stroke="none" stroke-width="0.4" />
<polygon points="509,67.03 513.6,65.68 513.6,75.48 509,76.83" fill="#9fd4f1" stroke="none" stroke-width="0.4" />
<polygon points="502,78.27 515,74.47 515,81.87 502,85.67" fill="#d3d3d3" stroke="none" stroke-width="0.4" />
<line x1="504.17" y1="84.44" x2="504.17" y2="78.24" stroke="#e6e6e6" stroke-width="0.55" />
<line x1="506.33" y1="83.81" x2="506.33" y2="77.61" stroke="#e6e6e6" stroke-width="0.55" />
<line x1="508.5" y1="83.17" x2="508.5" y2="76.97" stroke="#e6e6e6" stroke-width="0.55" />
<line x1="510.67" y1="82.54" x2="510.67" y2="76.34" stroke="#e6e6e6" stroke-width="0.55" />
<line x1="512.83" y1="81.9" x2="512.83" y2="75.7" stroke="#e6e6e6" stroke-width="0.55" />
<polygon points="502.5,68.53 503.3,68.29 503.3,85.29 502.5,85.53" fill="#8a8a8a" stroke="none" stroke-width="0.4" />
<polygon points="513.6,65.28 514.4,65.05 514.4,82.05 513.6,82.28" fill="#8a8a8a" stroke="none" stroke-width="0.4" />
<polygon points="517.4,72.57 531.2,68.53 531.2,77.23 517.4,81.27" fill="#ffffff" stroke="none" stroke-width="0.4" />
<polygon points="518.8,62.96 531.4,59.27 531.4,68.47 518.8,72.16" fill="#b2b2b2" stroke="none" stroke-width="0.4" />
<polygon points="535.6,58.64 544.2,56.13 544.2,61.23 535.6,63.74" fill="#666" stroke="none" stroke-width="0.4" />
<polygon points="536.3,59.04 539.6,58.07 539.6,61.87 536.3,62.84" fill="#9fd4f1" stroke="none" stroke-width="0.4" />
<polygon points="540.3,57.87 543.6,56.9 543.6,60.7 540.3,61.67" fill="#9fd4f1" stroke="none" stroke-width="0.4" />
<line x1="497" y1="87.74" x2="550.6" y2="72.05" stroke="#6a6a6a" stroke-width="0.7" />
<line x1="497" y1="79.44" x2="517.3" y2="73.5" stroke="#9a9a9a" stroke-width="0.5" />
<line x1="531.3" y1="69.4" x2="550.6" y2="63.75" stroke="#9a9a9a" stroke-width="0.5" />
<polygon points="497.4,60.97 517.2,55.18 517.2,62.78 497.4,68.57" fill="#d3d3d3" stroke="none" stroke-width="0.4" />
<line x1="499.88" y1="67.25" x2="499.88" y2="60.85" stroke="#e6e6e6" stroke-width="0.55" />
<line x1="502.35" y1="66.52" x2="502.35" y2="60.12" stroke="#e6e6e6" stroke-width="0.55" />
<line x1="504.83" y1="65.8" x2="504.83" y2="59.4" stroke="#e6e6e6" stroke-width="0.55" />
<line x1="507.3" y1="65.07" x2="507.3" y2="58.67" stroke="#e6e6e6" stroke-width="0.55" />
<line x1="509.77" y1="64.35" x2="509.77" y2="57.95" stroke="#e6e6e6" stroke-width="0.55" />
<line x1="512.25" y1="63.63" x2="512.25" y2="57.23" stroke="#e6e6e6" stroke-width="0.55" />
<line x1="514.73" y1="62.9" x2="514.73" y2="56.5" stroke="#e6e6e6" stroke-width="0.55" />
<polygon points="531.4,51.02 550.3,45.49 550.3,53.09 531.4,58.62" fill="#d3d3d3" stroke="none" stroke-width="0.4" />
<line x1="534.1" y1="57.23" x2="534.1" y2="50.83" stroke="#e6e6e6" stroke-width="0.55" />
<line x1="536.8" y1="56.44" x2="536.8" y2="50.04" stroke="#e6e6e6" stroke-width="0.55" />
<line x1="539.5" y1="55.65" x2="539.5" y2="49.25" stroke="#e6e6e6" stroke-width="0.55" />
<line x1="542.2" y1="54.86" x2="542.2" y2="48.46" stroke="#e6e6e6" stroke-width="0.55" />
<line x1="544.9" y1="54.07" x2="544.9" y2="47.67" stroke="#e6e6e6" stroke-width="0.55" />
<line x1="547.6" y1="53.28" x2="547.6" y2="46.88" stroke="#e6e6e6" stroke-width="0.55" />
<polygon points="497.7,52.28 499.4,51.79 499.4,55.69 497.7,56.18" fill="#9fd4f1" stroke="#6a6a6a" stroke-width="0.45" />
<polygon points="502.6,50.05 514.2,46.65 514.2,56.85 502.6,60.25" fill="#8a8a8a" stroke="none" stroke-width="0.4" />
<polygon points="503.3,50.24 508,48.87 508,58.67 503.3,60.04" fill="#9fd4f1" stroke="none" stroke-width="0.4" />
<polygon points="509,48.58 513.6,47.23 513.6,57.03 509,58.38" fill="#9fd4f1" stroke="none" stroke-width="0.4" />
<polygon points="502,59.82 515,56.02 515,63.42 502,67.22" fill="#d3d3d3" stroke="none" stroke-width="0.4" />
<line x1="504.17" y1="65.99" x2="504.17" y2="59.79" stroke="#e6e6e6" stroke-width="0.55" />
<line x1="506.33" y1="65.36" x2="506.33" y2="59.16" stroke="#e6e6e6" stroke-width="0.55" />
<line x1="508.5" y1="64.72" x2="508.5" y2="58.52" stroke="#e6e6e6" stroke-width="0.55" />
<line x1="510.67" y1="64.09" x2="510.67" y2="57.89" stroke="#e6e6e6" stroke-width="0.55" />
<line x1="512.83" y1="63.45" x2="512.83" y2="57.25" stroke="#e6e6e6" stroke-width="0.55" />
<polygon points="502.5,50.08 503.3,49.84 503.3,66.84 502.5,67.08" fill="#8a8a8a" stroke="none" stroke-width="0.4" />
<polygon points="513.6,46.83 514.4,46.6 514.4,63.6 513.6,63.83" fill="#8a8a8a" stroke="none" stroke-width="0.4" />
<polygon points="517.4,54.12 531.2,50.08 531.2,58.78 517.4,62.82" fill="#ffffff" stroke="none" stroke-width="0.4" />
<polygon points="518.8,44.51 531.4,40.82 531.4,50.02 518.8,53.71" fill="#b2b2b2" stroke="none" stroke-width="0.4" />
<polygon points="535.6,40.19 544.2,37.68 544.2,42.78 535.6,45.29" fill="#666" stroke="none" stroke-width="0.4" />
<polygon points="536.3,40.59 539.6,39.62 539.6,43.42 536.3,44.39" fill="#9fd4f1" stroke="none" stroke-width="0.4" />
<polygon points="540.3,39.42 543.6,38.45 543.6,42.25 540.3,43.22" fill="#9fd4f1" stroke="none" stroke-width="0.4" />
<line x1="497" y1="69.29" x2="550.6" y2="53.6" stroke="#6a6a6a" stroke-width="0.7" />
<line x1="497" y1="60.99" x2="517.3" y2="55.05" stroke="#9a9a9a" stroke-width="0.5" />
<line x1="531.3" y1="50.95" x2="550.6" y2="45.3" stroke="#9a9a9a" stroke-width="0.5" />
<line x1="497" y1="124.64" x2="497" y2="50.54" stroke="#9a9a9a" stroke-width="0.5" />
<line x1="550.6" y1="108.95" x2="550.6" y2="34.85" stroke="#9a9a9a" stroke-width="0.5" />
<line x1="517.3" y1="118.7" x2="517.3" y2="44.6" stroke="#a8a8a8" stroke-width="0.55" />
<line x1="531.5" y1="114.54" x2="531.5" y2="40.44" stroke="#707070" stroke-width="0.55" />
</g>
<polyline points="251.4,196.5 524.4,116.62 524.4,42.52" fill="none" stroke="#777" stroke-width="0.6" />
<polygon points="206.6,104.9 245.9,116.11 514.1,37.1 473.7,26.19" fill="none" stroke="#a6a6a6" stroke-width="0.55" />
<line x1="202.6" y1="104.9" x2="473.7" y2="25" stroke="#a0a0a0" stroke-width="0.7" />
<line x1="473.7" y1="25" x2="518.1" y2="37.1" stroke="#a0a0a0" stroke-width="0.7" />
<line x1="245.9" y1="117.3" x2="518.1" y2="37.1" stroke="#6e6e6e" stroke-width="0.9" />
<polyline points="245.9,120.4 251.4,122.4" fill="none" stroke="#9c9c9c" stroke-width="0.6" />
<line x1="245.9" y1="120.4" x2="518.6" y2="40" stroke="#9c9c9c" stroke-width="0.65" />
<line x1="251.4" y1="122.4" x2="524.4" y2="42.6" stroke="#6e6e6e" stroke-width="0.7" />
<polyline points="518.1,37.1 518.6,40 524.4,42.6" fill="none" stroke="#9c9c9c" stroke-width="0.6" />
<polyline points="263,110.96 263,112.46" fill="none" stroke="#6e6e6e" stroke-width="0.6" />
<polyline points="297,100.94 297,102.44" fill="none" stroke="#6e6e6e" stroke-width="0.6" />
<polyline points="331,90.92 331,92.42" fill="none" stroke="#6e6e6e" stroke-width="0.6" />
<polyline points="365,80.9 365,82.4" fill="none" stroke="#6e6e6e" stroke-width="0.6" />
<polyline points="399,70.88 399,72.38" fill="none" stroke="#6e6e6e" stroke-width="0.6" />
<polyline points="433,60.86 433,62.36" fill="none" stroke="#6e6e6e" stroke-width="0.6" />
<polyline points="467,50.84 467,52.34" fill="none" stroke="#6e6e6e" stroke-width="0.6" />
<polyline points="501,40.82 501,42.32" fill="none" stroke="#6e6e6e" stroke-width="0.6" />
<defs><linearGradient id="cg69" x1="0" x2="1" y1="0" y2="0"><stop offset="0" stop-color="#f4f4f4"/><stop offset="0.55" stop-color="#ffffff"/><stop offset="1" stop-color="#d8d8d8"/></linearGradient></defs>
<path d="M333.5 69.6 L333.5 78 A8.1 3.7 0 0 0 349.7 78 L349.7 69.6 Z" fill="url(#cg69)" stroke="#b0b0b0" stroke-width="0.5"/>
<ellipse cx="341.6" cy="69.6" rx="8.1" ry="3.7" fill="#ffffff" stroke="#b0b0b0" stroke-width="0.5"/>
<polygon points="374.3,64.1 378.26,65.2 378.26,69.8 374.3,68.6" fill="#c9c9c9" stroke="#8a8a8a" stroke-width="0.4" />
<polygon points="378.26,65.2 381.5,63.8 381.5,68.2 378.26,69.8" fill="#b4b4b4" stroke="#8a8a8a" stroke-width="0.4" />
<polygon points="374.3,64.1 377.54,62.6 381.5,63.8 378.26,65.2" fill="#e4e4e4" stroke="#8a8a8a" stroke-width="0.4" />
<polygon points="84.9,427.7 86.2,427.1 86.2,439.2 84.9,439.7" fill="#bcbcbc" stroke="#6a6a6a" stroke-width="0.4" />
<polygon points="86.2,427.1 100.8,422.93 100.8,435.03 86.2,439.2" fill="#999999" stroke="#5c5c5c" stroke-width="0.6" />
<polygon points="87.5,427.93 99.6,424.47 99.6,434.07 87.5,437.53" fill="#787878" stroke="none" stroke-width="0.4" />
<polygon points="87.5,436.13 99.6,432.67 99.6,434.07 87.5,437.53" fill="#aeaeae" stroke="none" stroke-width="0.4" />
<polygon points="99.6,424.07 100.3,423.87 100.3,434.37 99.6,434.57" fill="#b8b8b8" stroke="none" stroke-width="0.4" />
<polygon points="88.2,428.33 92.85,427 92.85,434.4 88.2,435.73" fill="url(#gl)" stroke="#666" stroke-width="0.3" />
<polygon points="94.35,426.57 99,425.24 99,432.64 94.35,433.97" fill="url(#gl)" stroke="#666" stroke-width="0.3" />
<polygon points="84.9,445.7 86.2,445.1 86.2,457.2 84.9,457.7" fill="#bcbcbc" stroke="#6a6a6a" stroke-width="0.4" />
<polygon points="86.2,445.1 100.8,440.93 100.8,453.03 86.2,457.2" fill="#999999" stroke="#5c5c5c" stroke-width="0.6" />
<polygon points="87.5,445.93 99.6,442.47 99.6,452.07 87.5,455.53" fill="#787878" stroke="none" stroke-width="0.4" />
<polygon points="87.5,454.13 99.6,450.67 99.6,452.07 87.5,455.53" fill="#aeaeae" stroke="none" stroke-width="0.4" />
<polygon points="99.6,442.07 100.3,441.87 100.3,452.37 99.6,452.57" fill="#b8b8b8" stroke="none" stroke-width="0.4" />
<polygon points="88.2,446.33 92.85,445 92.85,452.4 88.2,453.73" fill="url(#gl)" stroke="#666" stroke-width="0.3" />
<polygon points="94.35,444.57 99,443.24 99,450.64 94.35,451.97" fill="url(#gl)" stroke="#666" stroke-width="0.3" />
<polygon points="84.9,463.7 86.2,463.1 86.2,475.2 84.9,475.7" fill="#bcbcbc" stroke="#6a6a6a" stroke-width="0.4" />
<polygon points="86.2,463.1 100.8,458.93 100.8,471.03 86.2,475.2" fill="#999999" stroke="#5c5c5c" stroke-width="0.6" />
<polygon points="87.5,463.93 99.6,460.47 99.6,470.07 87.5,473.53" fill="#787878" stroke="none" stroke-width="0.4" />
<polygon points="87.5,472.13 99.6,468.67 99.6,470.07 87.5,473.53" fill="#aeaeae" stroke="none" stroke-width="0.4" />
<polygon points="99.6,460.07 100.3,459.87 100.3,470.37 99.6,470.57" fill="#b8b8b8" stroke="none" stroke-width="0.4" />
<polygon points="88.2,464.33 92.85,463 92.85,470.4 88.2,471.73" fill="url(#gl)" stroke="#666" stroke-width="0.3" />
<polygon points="94.35,462.57 99,461.24 99,468.64 94.35,469.97" fill="url(#gl)" stroke="#666" stroke-width="0.3" />
<polygon points="84.9,481.7 86.2,481.1 86.2,493.2 84.9,493.7" fill="#bcbcbc" stroke="#6a6a6a" stroke-width="0.4" />
<polygon points="86.2,481.1 100.8,476.93 100.8,489.03 86.2,493.2" fill="#999999" stroke="#5c5c5c" stroke-width="0.6" />
<polygon points="87.5,481.93 99.6,478.47 99.6,488.07 87.5,491.53" fill="#787878" stroke="none" stroke-width="0.4" />
<polygon points="87.5,490.13 99.6,486.67 99.6,488.07 87.5,491.53" fill="#aeaeae" stroke="none" stroke-width="0.4" />
<polygon points="99.6,478.07 100.3,477.87 100.3,488.37 99.6,488.57" fill="#b8b8b8" stroke="none" stroke-width="0.4" />
<polygon points="88.2,482.33 92.85,481 92.85,488.4 88.2,489.73" fill="url(#gl)" stroke="#666" stroke-width="0.3" />
<polygon points="94.35,480.57 99,479.24 99,486.64 94.35,487.97" fill="url(#gl)" stroke="#666" stroke-width="0.3" />
<polygon points="122.8,416.51 124.1,415.91 124.1,428.01 122.8,428.51" fill="#bcbcbc" stroke="#6a6a6a" stroke-width="0.4" />
<polygon points="124.1,415.91 138.7,411.74 138.7,423.84 124.1,428.01" fill="#999999" stroke="#5c5c5c" stroke-width="0.6" />
<polygon points="125.4,416.74 137.5,413.28 137.5,422.88 125.4,426.34" fill="#787878" stroke="none" stroke-width="0.4" />
<polygon points="125.4,424.94 137.5,421.48 137.5,422.88 125.4,426.34" fill="#aeaeae" stroke="none" stroke-width="0.4" />
<polygon points="137.5,412.88 138.2,412.68 138.2,423.18 137.5,423.38" fill="#b8b8b8" stroke="none" stroke-width="0.4" />
<polygon points="126.1,417.14 130.75,415.81 130.75,423.21 126.1,424.54" fill="url(#gl)" stroke="#666" stroke-width="0.3" />
<polygon points="132.25,415.38 136.9,414.05 136.9,421.45 132.25,422.78" fill="url(#gl)" stroke="#666" stroke-width="0.3" />
<polygon points="122.8,434.51 124.1,433.91 124.1,446.01 122.8,446.51" fill="#bcbcbc" stroke="#6a6a6a" stroke-width="0.4" />
<polygon points="124.1,433.91 138.7,429.74 138.7,441.84 124.1,446.01" fill="#999999" stroke="#5c5c5c" stroke-width="0.6" />
<polygon points="125.4,434.74 137.5,431.28 137.5,440.88 125.4,444.34" fill="#787878" stroke="none" stroke-width="0.4" />
<polygon points="125.4,442.94 137.5,439.48 137.5,440.88 125.4,444.34" fill="#aeaeae" stroke="none" stroke-width="0.4" />
<polygon points="137.5,430.88 138.2,430.68 138.2,441.18 137.5,441.38" fill="#b8b8b8" stroke="none" stroke-width="0.4" />
<polygon points="126.1,435.14 130.75,433.81 130.75,441.21 126.1,442.54" fill="url(#gl)" stroke="#666" stroke-width="0.3" />
<polygon points="132.25,433.38 136.9,432.05 136.9,439.45 132.25,440.78" fill="url(#gl)" stroke="#666" stroke-width="0.3" />
<polygon points="122.8,452.51 124.1,451.91 124.1,464.01 122.8,464.51" fill="#bcbcbc" stroke="#6a6a6a" stroke-width="0.4" />
<polygon points="124.1,451.91 138.7,447.74 138.7,459.84 124.1,464.01" fill="#999999" stroke="#5c5c5c" stroke-width="0.6" />
<polygon points="125.4,452.74 137.5,449.28 137.5,458.88 125.4,462.34" fill="#787878" stroke="none" stroke-width="0.4" />
<polygon points="125.4,460.94 137.5,457.48 137.5,458.88 125.4,462.34" fill="#aeaeae" stroke="none" stroke-width="0.4" />
<polygon points="137.5,448.88 138.2,448.68 138.2,459.18 137.5,459.38" fill="#b8b8b8" stroke="none" stroke-width="0.4" />
<polygon points="126.1,453.14 130.75,451.81 130.75,459.21 126.1,460.54" fill="url(#gl)" stroke="#666" stroke-width="0.3" />
<polygon points="132.25,451.38 136.9,450.05 136.9,457.45 132.25,458.78" fill="url(#gl)" stroke="#666" stroke-width="0.3" />
<polygon points="122.8,470.51 124.1,469.91 124.1,482.01 122.8,482.51" fill="#bcbcbc" stroke="#6a6a6a" stroke-width="0.4" />
<polygon points="124.1,469.91 138.7,465.74 138.7,477.84 124.1,482.01" fill="#999999" stroke="#5c5c5c" stroke-width="0.6" />
<polygon points="125.4,470.74 137.5,467.28 137.5,476.88 125.4,480.34" fill="#787878" stroke="none" stroke-width="0.4" />
<polygon points="125.4,478.94 137.5,475.48 137.5,476.88 125.4,480.34" fill="#aeaeae" stroke="none" stroke-width="0.4" />
<polygon points="137.5,466.88 138.2,466.68 138.2,477.18 137.5,477.38" fill="#b8b8b8" stroke="none" stroke-width="0.4" />
<polygon points="126.1,471.14 130.75,469.81 130.75,477.21 126.1,478.54" fill="url(#gl)" stroke="#666" stroke-width="0.3" />
<polygon points="132.25,469.38 136.9,468.05 136.9,475.45 132.25,476.78" fill="url(#gl)" stroke="#666" stroke-width="0.3" />
<polygon points="152.8,407.65 154.1,407.05 154.1,419.15 152.8,419.65" fill="#bcbcbc" stroke="#6a6a6a" stroke-width="0.4" />
<polygon points="154.1,407.05 168.7,402.88 168.7,414.98 154.1,419.15" fill="#999999" stroke="#5c5c5c" stroke-width="0.6" />
<polygon points="155.4,407.88 167.5,404.42 167.5,414.02 155.4,417.48" fill="#787878" stroke="none" stroke-width="0.4" />
<polygon points="155.4,416.08 167.5,412.62 167.5,414.02 155.4,417.48" fill="#aeaeae" stroke="none" stroke-width="0.4" />
<polygon points="167.5,404.02 168.2,403.82 168.2,414.32 167.5,414.52" fill="#b8b8b8" stroke="none" stroke-width="0.4" />
<polygon points="156.1,408.28 160.75,406.95 160.75,414.35 156.1,415.68" fill="url(#gl)" stroke="#666" stroke-width="0.3" />
<polygon points="162.25,406.52 166.9,405.19 166.9,412.59 162.25,413.92" fill="url(#gl)" stroke="#666" stroke-width="0.3" />
<polygon points="152.8,425.65 154.1,425.05 154.1,437.15 152.8,437.65" fill="#bcbcbc" stroke="#6a6a6a" stroke-width="0.4" />
<polygon points="154.1,425.05 168.7,420.88 168.7,432.98 154.1,437.15" fill="#999999" stroke="#5c5c5c" stroke-width="0.6" />
<polygon points="155.4,425.88 167.5,422.42 167.5,432.02 155.4,435.48" fill="#787878" stroke="none" stroke-width="0.4" />
<polygon points="155.4,434.08 167.5,430.62 167.5,432.02 155.4,435.48" fill="#aeaeae" stroke="none" stroke-width="0.4" />
<polygon points="167.5,422.02 168.2,421.82 168.2,432.32 167.5,432.52" fill="#b8b8b8" stroke="none" stroke-width="0.4" />
<polygon points="156.1,426.28 160.75,424.95 160.75,432.35 156.1,433.68" fill="url(#gl)" stroke="#666" stroke-width="0.3" />
<polygon points="162.25,424.52 166.9,423.19 166.9,430.59 162.25,431.92" fill="url(#gl)" stroke="#666" stroke-width="0.3" />
<polygon points="152.8,443.65 154.1,443.05 154.1,455.15 152.8,455.65" fill="#bcbcbc" stroke="#6a6a6a" stroke-width="0.4" />
<polygon points="154.1,443.05 168.7,438.88 168.7,450.98 154.1,455.15" fill="#999999" stroke="#5c5c5c" stroke-width="0.6" />
<polygon points="155.4,443.88 167.5,440.42 167.5,450.02 155.4,453.48" fill="#787878" stroke="none" stroke-width="0.4" />
<polygon points="155.4,452.08 167.5,448.62 167.5,450.02 155.4,453.48" fill="#aeaeae" stroke="none" stroke-width="0.4" />
<polygon points="167.5,440.02 168.2,439.82 168.2,450.32 167.5,450.52" fill="#b8b8b8" stroke="none" stroke-width="0.4" />
<polygon points="156.1,444.28 160.75,442.95 160.75,450.35 156.1,451.68" fill="url(#gl)" stroke="#666" stroke-width="0.3" />
<polygon points="162.25,442.52 166.9,441.19 166.9,448.59 162.25,449.92" fill="url(#gl)" stroke="#666" stroke-width="0.3" />
<polygon points="152.8,461.65 154.1,461.05 154.1,473.15 152.8,473.65" fill="#bcbcbc" stroke="#6a6a6a" stroke-width="0.4" />
<polygon points="154.1,461.05 168.7,456.88 168.7,468.98 154.1,473.15" fill="#999999" stroke="#5c5c5c" stroke-width="0.6" />
<polygon points="155.4,461.88 167.5,458.42 167.5,468.02 155.4,471.48" fill="#787878" stroke="none" stroke-width="0.4" />
<polygon points="155.4,470.08 167.5,466.62 167.5,468.02 155.4,471.48" fill="#aeaeae" stroke="none" stroke-width="0.4" />
<polygon points="167.5,458.02 168.2,457.82 168.2,468.32 167.5,468.52" fill="#b8b8b8" stroke="none" stroke-width="0.4" />
<polygon points="156.1,462.28 160.75,460.95 160.75,468.35 156.1,469.68" fill="url(#gl)" stroke="#666" stroke-width="0.3" />
<polygon points="162.25,460.52 166.9,459.19 166.9,466.59 162.25,467.92" fill="url(#gl)" stroke="#666" stroke-width="0.3" />
<polygon points="190.7,396.46 192,395.86 192,407.96 190.7,408.46" fill="#bcbcbc" stroke="#6a6a6a" stroke-width="0.4" />
<polygon points="192,395.86 206.6,391.69 206.6,403.79 192,407.96" fill="#999999" stroke="#5c5c5c" stroke-width="0.6" />
<polygon points="193.3,396.69 205.4,393.23 205.4,402.83 193.3,406.29" fill="#787878" stroke="none" stroke-width="0.4" />
<polygon points="193.3,404.89 205.4,401.43 205.4,402.83 193.3,406.29" fill="#aeaeae" stroke="none" stroke-width="0.4" />
<polygon points="205.4,392.83 206.1,392.63 206.1,403.13 205.4,403.33" fill="#b8b8b8" stroke="none" stroke-width="0.4" />
<polygon points="194,397.09 198.65,395.76 198.65,403.16 194,404.49" fill="url(#gl)" stroke="#666" stroke-width="0.3" />
<polygon points="200.15,395.33 204.8,394 204.8,401.4 200.15,402.73" fill="url(#gl)" stroke="#666" stroke-width="0.3" />
<polygon points="190.7,414.46 192,413.86 192,425.96 190.7,426.46" fill="#bcbcbc" stroke="#6a6a6a" stroke-width="0.4" />
<polygon points="192,413.86 206.6,409.69 206.6,421.79 192,425.96" fill="#999999" stroke="#5c5c5c" stroke-width="0.6" />
<polygon points="193.3,414.69 205.4,411.23 205.4,420.83 193.3,424.29" fill="#787878" stroke="none" stroke-width="0.4" />
<polygon points="193.3,422.89 205.4,419.43 205.4,420.83 193.3,424.29" fill="#aeaeae" stroke="none" stroke-width="0.4" />
<polygon points="205.4,410.83 206.1,410.63 206.1,421.13 205.4,421.33" fill="#b8b8b8" stroke="none" stroke-width="0.4" />
<polygon points="194,415.09 198.65,413.76 198.65,421.16 194,422.49" fill="url(#gl)" stroke="#666" stroke-width="0.3" />
<polygon points="200.15,413.33 204.8,412 204.8,419.4 200.15,420.73" fill="url(#gl)" stroke="#666" stroke-width="0.3" />
<polygon points="190.7,432.46 192,431.86 192,443.96 190.7,444.46" fill="#bcbcbc" stroke="#6a6a6a" stroke-width="0.4" />
<polygon points="192,431.86 206.6,427.69 206.6,439.79 192,443.96" fill="#999999" stroke="#5c5c5c" stroke-width="0.6" />
<polygon points="193.3,432.69 205.4,429.23 205.4,438.83 193.3,442.29" fill="#787878" stroke="none" stroke-width="0.4" />
<polygon points="193.3,440.89 205.4,437.43 205.4,438.83 193.3,442.29" fill="#aeaeae" stroke="none" stroke-width="0.4" />
<polygon points="205.4,428.83 206.1,428.63 206.1,439.13 205.4,439.33" fill="#b8b8b8" stroke="none" stroke-width="0.4" />
<polygon points="194,433.09 198.65,431.76 198.65,439.16 194,440.49" fill="url(#gl)" stroke="#666" stroke-width="0.3" />
<polygon points="200.15,431.33 204.8,430 204.8,437.4 200.15,438.73" fill="url(#gl)" stroke="#666" stroke-width="0.3" />
<polygon points="190.7,450.46 192,449.86 192,461.96 190.7,462.46" fill="#bcbcbc" stroke="#6a6a6a" stroke-width="0.4" />
<polygon points="192,449.86 206.6,445.69 206.6,457.79 192,461.96" fill="#999999" stroke="#5c5c5c" stroke-width="0.6" />
<polygon points="193.3,450.69 205.4,447.23 205.4,456.83 193.3,460.29" fill="#787878" stroke="none" stroke-width="0.4" />
<polygon points="193.3,458.89 205.4,455.43 205.4,456.83 193.3,460.29" fill="#aeaeae" stroke="none" stroke-width="0.4" />
<polygon points="205.4,446.83 206.1,446.63 206.1,457.13 205.4,457.33" fill="#b8b8b8" stroke="none" stroke-width="0.4" />
<polygon points="194,451.09 198.65,449.76 198.65,457.16 194,458.49" fill="url(#gl)" stroke="#666" stroke-width="0.3" />
<polygon points="200.15,449.33 204.8,448 204.8,455.4 200.15,456.73" fill="url(#gl)" stroke="#666" stroke-width="0.3" />
<polygon points="220.7,387.6 222,387 222,399.1 220.7,399.6" fill="#bcbcbc" stroke="#6a6a6a" stroke-width="0.4" />
<polygon points="222,387 236.6,382.83 236.6,394.93 222,399.1" fill="#999999" stroke="#5c5c5c" stroke-width="0.6" />
<polygon points="223.3,387.83 235.4,384.37 235.4,393.97 223.3,397.43" fill="#787878" stroke="none" stroke-width="0.4" />
<polygon points="223.3,396.03 235.4,392.57 235.4,393.97 223.3,397.43" fill="#aeaeae" stroke="none" stroke-width="0.4" />
<polygon points="235.4,383.97 236.1,383.77 236.1,394.27 235.4,394.47" fill="#b8b8b8" stroke="none" stroke-width="0.4" />
<polygon points="224,388.23 228.65,386.9 228.65,394.3 224,395.63" fill="url(#gl)" stroke="#666" stroke-width="0.3" />
<polygon points="230.15,386.47 234.8,385.14 234.8,392.54 230.15,393.87" fill="url(#gl)" stroke="#666" stroke-width="0.3" />
<polygon points="220.7,405.6 222,405 222,417.1 220.7,417.6" fill="#bcbcbc" stroke="#6a6a6a" stroke-width="0.4" />
<polygon points="222,405 236.6,400.83 236.6,412.93 222,417.1" fill="#999999" stroke="#5c5c5c" stroke-width="0.6" />
<polygon points="223.3,405.83 235.4,402.37 235.4,411.97 223.3,415.43" fill="#787878" stroke="none" stroke-width="0.4" />
<polygon points="223.3,414.03 235.4,410.57 235.4,411.97 223.3,415.43" fill="#aeaeae" stroke="none" stroke-width="0.4" />
<polygon points="235.4,401.97 236.1,401.77 236.1,412.27 235.4,412.47" fill="#b8b8b8" stroke="none" stroke-width="0.4" />
<polygon points="224,406.23 228.65,404.9 228.65,412.3 224,413.63" fill="url(#gl)" stroke="#666" stroke-width="0.3" />
<polygon points="230.15,404.47 234.8,403.14 234.8,410.54 230.15,411.87" fill="url(#gl)" stroke="#666" stroke-width="0.3" />
<polygon points="220.7,423.6 222,423 222,435.1 220.7,435.6" fill="#bcbcbc" stroke="#6a6a6a" stroke-width="0.4" />
<polygon points="222,423 236.6,418.83 236.6,430.93 222,435.1" fill="#999999" stroke="#5c5c5c" stroke-width="0.6" />
<polygon points="223.3,423.83 235.4,420.37 235.4,429.97 223.3,433.43" fill="#787878" stroke="none" stroke-width="0.4" />
<polygon points="223.3,432.03 235.4,428.57 235.4,429.97 223.3,433.43" fill="#aeaeae" stroke="none" stroke-width="0.4" />
<polygon points="235.4,419.97 236.1,419.77 236.1,430.27 235.4,430.47" fill="#b8b8b8" stroke="none" stroke-width="0.4" />
<polygon points="224,424.23 228.65,422.9 228.65,430.3 224,431.63" fill="url(#gl)" stroke="#666" stroke-width="0.3" />
<polygon points="230.15,422.47 234.8,421.14 234.8,428.54 230.15,429.87" fill="url(#gl)" stroke="#666" stroke-width="0.3" />
<polygon points="220.7,441.6 222,441 222,453.1 220.7,453.6" fill="#bcbcbc" stroke="#6a6a6a" stroke-width="0.4" />
<polygon points="222,441 236.6,436.83 236.6,448.93 222,453.1" fill="#999999" stroke="#5c5c5c" stroke-width="0.6" />
<polygon points="223.3,441.83 235.4,438.37 235.4,447.97 223.3,451.43" fill="#787878" stroke="none" stroke-width="0.4" />
<polygon points="223.3,450.03 235.4,446.57 235.4,447.97 223.3,451.43" fill="#aeaeae" stroke="none" stroke-width="0.4" />
<polygon points="235.4,437.97 236.1,437.77 236.1,448.27 235.4,448.47" fill="#b8b8b8" stroke="none" stroke-width="0.4" />
<polygon points="224,442.23 228.65,440.9 228.65,448.3 224,449.63" fill="url(#gl)" stroke="#666" stroke-width="0.3" />
<polygon points="230.15,440.47 234.8,439.14 234.8,446.54 230.15,447.87" fill="url(#gl)" stroke="#666" stroke-width="0.3" />
<polygon points="258.6,376.41 259.9,375.81 259.9,387.91 258.6,388.41" fill="#bcbcbc" stroke="#6a6a6a" stroke-width="0.4" />
<polygon points="259.9,375.81 274.5,371.64 274.5,383.74 259.9,387.91" fill="#999999" stroke="#5c5c5c" stroke-width="0.6" />
<polygon points="261.2,376.63 273.3,373.18 273.3,382.78 261.2,386.23" fill="#787878" stroke="none" stroke-width="0.4" />
<polygon points="261.2,384.83 273.3,381.38 273.3,382.78 261.2,386.23" fill="#aeaeae" stroke="none" stroke-width="0.4" />
<polygon points="273.3,372.78 274,372.58 274,383.08 273.3,383.28" fill="#b8b8b8" stroke="none" stroke-width="0.4" />
<polygon points="261.9,377.03 266.55,375.71 266.55,383.11 261.9,384.43" fill="url(#gl)" stroke="#666" stroke-width="0.3" />
<polygon points="268.05,375.28 272.7,373.95 272.7,381.35 268.05,382.68" fill="url(#gl)" stroke="#666" stroke-width="0.3" />
<polygon points="258.6,394.41 259.9,393.81 259.9,405.91 258.6,406.41" fill="#bcbcbc" stroke="#6a6a6a" stroke-width="0.4" />
<polygon points="259.9,393.81 274.5,389.64 274.5,401.74 259.9,405.91" fill="#999999" stroke="#5c5c5c" stroke-width="0.6" />
<polygon points="261.2,394.63 273.3,391.18 273.3,400.78 261.2,404.23" fill="#787878" stroke="none" stroke-width="0.4" />
<polygon points="261.2,402.83 273.3,399.38 273.3,400.78 261.2,404.23" fill="#aeaeae" stroke="none" stroke-width="0.4" />
<polygon points="273.3,390.78 274,390.58 274,401.08 273.3,401.28" fill="#b8b8b8" stroke="none" stroke-width="0.4" />
<polygon points="261.9,395.03 266.55,393.71 266.55,401.11 261.9,402.43" fill="url(#gl)" stroke="#666" stroke-width="0.3" />
<polygon points="268.05,393.28 272.7,391.95 272.7,399.35 268.05,400.68" fill="url(#gl)" stroke="#666" stroke-width="0.3" />
<polygon points="258.6,412.41 259.9,411.81 259.9,423.91 258.6,424.41" fill="#bcbcbc" stroke="#6a6a6a" stroke-width="0.4" />
<polygon points="259.9,411.81 274.5,407.64 274.5,419.74 259.9,423.91" fill="#999999" stroke="#5c5c5c" stroke-width="0.6" />
<polygon points="261.2,412.63 273.3,409.18 273.3,418.78 261.2,422.23" fill="#787878" stroke="none" stroke-width="0.4" />
<polygon points="261.2,420.83 273.3,417.38 273.3,418.78 261.2,422.23" fill="#aeaeae" stroke="none" stroke-width="0.4" />
<polygon points="273.3,408.78 274,408.58 274,419.08 273.3,419.28" fill="#b8b8b8" stroke="none" stroke-width="0.4" />
<polygon points="261.9,413.03 266.55,411.71 266.55,419.11 261.9,420.43" fill="url(#gl)" stroke="#666" stroke-width="0.3" />
<polygon points="268.05,411.28 272.7,409.95 272.7,417.35 268.05,418.68" fill="url(#gl)" stroke="#666" stroke-width="0.3" />
<polygon points="258.6,430.41 259.9,429.81 259.9,441.91 258.6,442.41" fill="#bcbcbc" stroke="#6a6a6a" stroke-width="0.4" />
<polygon points="259.9,429.81 274.5,425.64 274.5,437.74 259.9,441.91" fill="#999999" stroke="#5c5c5c" stroke-width="0.6" />
<polygon points="261.2,430.63 273.3,427.18 273.3,436.78 261.2,440.23" fill="#787878" stroke="none" stroke-width="0.4" />
<polygon points="261.2,438.83 273.3,435.38 273.3,436.78 261.2,440.23" fill="#aeaeae" stroke="none" stroke-width="0.4" />
<polygon points="273.3,426.78 274,426.58 274,437.08 273.3,437.28" fill="#b8b8b8" stroke="none" stroke-width="0.4" />
<polygon points="261.9,431.03 266.55,429.71 266.55,437.11 261.9,438.43" fill="url(#gl)" stroke="#666" stroke-width="0.3" />
<polygon points="268.05,429.28 272.7,427.95 272.7,435.35 268.05,436.68" fill="url(#gl)" stroke="#666" stroke-width="0.3" />
<polygon points="288.6,367.55 289.9,366.95 289.9,379.05 288.6,379.55" fill="#bcbcbc" stroke="#6a6a6a" stroke-width="0.4" />
<polygon points="289.9,366.95 304.5,362.78 304.5,374.88 289.9,379.05" fill="#999999" stroke="#5c5c5c" stroke-width="0.6" />
<polygon points="291.2,367.78 303.3,364.32 303.3,373.92 291.2,377.38" fill="#787878" stroke="none" stroke-width="0.4" />
<polygon points="291.2,375.98 303.3,372.52 303.3,373.92 291.2,377.38" fill="#aeaeae" stroke="none" stroke-width="0.4" />
<polygon points="303.3,363.92 304,363.72 304,374.22 303.3,374.42" fill="#b8b8b8" stroke="none" stroke-width="0.4" />
<polygon points="291.9,368.18 296.55,366.85 296.55,374.25 291.9,375.58" fill="url(#gl)" stroke="#666" stroke-width="0.3" />
<polygon points="298.05,366.42 302.7,365.09 302.7,372.49 298.05,373.82" fill="url(#gl)" stroke="#666" stroke-width="0.3" />
<polygon points="288.6,385.55 289.9,384.95 289.9,397.05 288.6,397.55" fill="#bcbcbc" stroke="#6a6a6a" stroke-width="0.4" />
<polygon points="289.9,384.95 304.5,380.78 304.5,392.88 289.9,397.05" fill="#999999" stroke="#5c5c5c" stroke-width="0.6" />
<polygon points="291.2,385.78 303.3,382.32 303.3,391.92 291.2,395.38" fill="#787878" stroke="none" stroke-width="0.4" />
<polygon points="291.2,393.98 303.3,390.52 303.3,391.92 291.2,395.38" fill="#aeaeae" stroke="none" stroke-width="0.4" />
<polygon points="303.3,381.92 304,381.72 304,392.22 303.3,392.42" fill="#b8b8b8" stroke="none" stroke-width="0.4" />
<polygon points="291.9,386.18 296.55,384.85 296.55,392.25 291.9,393.58" fill="url(#gl)" stroke="#666" stroke-width="0.3" />
<polygon points="298.05,384.42 302.7,383.09 302.7,390.49 298.05,391.82" fill="url(#gl)" stroke="#666" stroke-width="0.3" />
<polygon points="288.6,403.55 289.9,402.95 289.9,415.05 288.6,415.55" fill="#bcbcbc" stroke="#6a6a6a" stroke-width="0.4" />
<polygon points="289.9,402.95 304.5,398.78 304.5,410.88 289.9,415.05" fill="#999999" stroke="#5c5c5c" stroke-width="0.6" />
<polygon points="291.2,403.78 303.3,400.32 303.3,409.92 291.2,413.38" fill="#787878" stroke="none" stroke-width="0.4" />
<polygon points="291.2,411.98 303.3,408.52 303.3,409.92 291.2,413.38" fill="#aeaeae" stroke="none" stroke-width="0.4" />
<polygon points="303.3,399.92 304,399.72 304,410.22 303.3,410.42" fill="#b8b8b8" stroke="none" stroke-width="0.4" />
<polygon points="291.9,404.18 296.55,402.85 296.55,410.25 291.9,411.58" fill="url(#gl)" stroke="#666" stroke-width="0.3" />
<polygon points="298.05,402.42 302.7,401.09 302.7,408.49 298.05,409.82" fill="url(#gl)" stroke="#666" stroke-width="0.3" />
<polygon points="288.6,421.55 289.9,420.95 289.9,433.05 288.6,433.55" fill="#bcbcbc" stroke="#6a6a6a" stroke-width="0.4" />
<polygon points="289.9,420.95 304.5,416.78 304.5,428.88 289.9,433.05" fill="#999999" stroke="#5c5c5c" stroke-width="0.6" />
<polygon points="291.2,421.78 303.3,418.32 303.3,427.92 291.2,431.38" fill="#787878" stroke="none" stroke-width="0.4" />
<polygon points="291.2,429.98 303.3,426.52 303.3,427.92 291.2,431.38" fill="#aeaeae" stroke="none" stroke-width="0.4" />
<polygon points="303.3,417.92 304,417.72 304,428.22 303.3,428.42" fill="#b8b8b8" stroke="none" stroke-width="0.4" />
<polygon points="291.9,422.18 296.55,420.85 296.55,428.25 291.9,429.58" fill="url(#gl)" stroke="#666" stroke-width="0.3" />
<polygon points="298.05,420.42 302.7,419.09 302.7,426.49 298.05,427.82" fill="url(#gl)" stroke="#666" stroke-width="0.3" />
<polygon points="326.5,356.36 327.8,355.76 327.8,367.86 326.5,368.36" fill="#bcbcbc" stroke="#6a6a6a" stroke-width="0.4" />
<polygon points="327.8,355.76 342.4,351.58 342.4,363.68 327.8,367.86" fill="#999999" stroke="#5c5c5c" stroke-width="0.6" />
<polygon points="329.1,356.58 341.2,353.13 341.2,362.73 329.1,366.18" fill="#787878" stroke="none" stroke-width="0.4" />
<polygon points="329.1,364.78 341.2,361.33 341.2,362.73 329.1,366.18" fill="#aeaeae" stroke="none" stroke-width="0.4" />
<polygon points="341.2,352.73 341.9,352.53 341.9,363.03 341.2,363.23" fill="#b8b8b8" stroke="none" stroke-width="0.4" />
<polygon points="329.8,356.98 334.45,355.66 334.45,363.06 329.8,364.38" fill="url(#gl)" stroke="#666" stroke-width="0.3" />
<polygon points="335.95,355.23 340.6,353.9 340.6,361.3 335.95,362.63" fill="url(#gl)" stroke="#666" stroke-width="0.3" />
<polygon points="326.5,374.36 327.8,373.76 327.8,385.86 326.5,386.36" fill="#bcbcbc" stroke="#6a6a6a" stroke-width="0.4" />
<polygon points="327.8,373.76 342.4,369.58 342.4,381.68 327.8,385.86" fill="#999999" stroke="#5c5c5c" stroke-width="0.6" />
<polygon points="329.1,374.58 341.2,371.13 341.2,380.73 329.1,384.18" fill="#787878" stroke="none" stroke-width="0.4" />
<polygon points="329.1,382.78 341.2,379.33 341.2,380.73 329.1,384.18" fill="#aeaeae" stroke="none" stroke-width="0.4" />
<polygon points="341.2,370.73 341.9,370.53 341.9,381.03 341.2,381.23" fill="#b8b8b8" stroke="none" stroke-width="0.4" />
<polygon points="329.8,374.98 334.45,373.66 334.45,381.06 329.8,382.38" fill="url(#gl)" stroke="#666" stroke-width="0.3" />
<polygon points="335.95,373.23 340.6,371.9 340.6,379.3 335.95,380.63" fill="url(#gl)" stroke="#666" stroke-width="0.3" />
<polygon points="326.5,392.36 327.8,391.76 327.8,403.86 326.5,404.36" fill="#bcbcbc" stroke="#6a6a6a" stroke-width="0.4" />
<polygon points="327.8,391.76 342.4,387.58 342.4,399.68 327.8,403.86" fill="#999999" stroke="#5c5c5c" stroke-width="0.6" />
<polygon points="329.1,392.58 341.2,389.13 341.2,398.73 329.1,402.18" fill="#787878" stroke="none" stroke-width="0.4" />
<polygon points="329.1,400.78 341.2,397.33 341.2,398.73 329.1,402.18" fill="#aeaeae" stroke="none" stroke-width="0.4" />
<polygon points="341.2,388.73 341.9,388.53 341.9,399.03 341.2,399.23" fill="#b8b8b8" stroke="none" stroke-width="0.4" />
<polygon points="329.8,392.98 334.45,391.66 334.45,399.06 329.8,400.38" fill="url(#gl)" stroke="#666" stroke-width="0.3" />
<polygon points="335.95,391.23 340.6,389.9 340.6,397.3 335.95,398.63" fill="url(#gl)" stroke="#666" stroke-width="0.3" />
<polygon points="326.5,410.36 327.8,409.76 327.8,421.86 326.5,422.36" fill="#bcbcbc" stroke="#6a6a6a" stroke-width="0.4" />
<polygon points="327.8,409.76 342.4,405.58 342.4,417.68 327.8,421.86" fill="#999999" stroke="#5c5c5c" stroke-width="0.6" />
<polygon points="329.1,410.58 341.2,407.13 341.2,416.73 329.1,420.18" fill="#787878" stroke="none" stroke-width="0.4" />
<polygon points="329.1,418.78 341.2,415.33 341.2,416.73 329.1,420.18" fill="#aeaeae" stroke="none" stroke-width="0.4" />
<polygon points="341.2,406.73 341.9,406.53 341.9,417.03 341.2,417.23" fill="#b8b8b8" stroke="none" stroke-width="0.4" />
<polygon points="329.8,410.98 334.45,409.66 334.45,417.06 329.8,418.38" fill="url(#gl)" stroke="#666" stroke-width="0.3" />
<polygon points="335.95,409.23 340.6,407.9 340.6,415.3 335.95,416.63" fill="url(#gl)" stroke="#666" stroke-width="0.3" />
<polygon points="254,409.2 257.8,408.08 257.8,420.68 254,421.8" fill="#c9c9c9" stroke="#666" stroke-width="0.5" />
<polygon points="254.5,427.2 258.6,425.99 258.6,434.99 254.5,436.2" fill="#c9c9c9" stroke="#666" stroke-width="0.5" />
<polygon points="231.4,415.8 236,414.44 236,426.04 231.4,427.4" fill="#c9c9c9" stroke="#666" stroke-width="0.5" />
<polygon points="231.4,433.7 236,432.34 236,441.34 231.4,442.7" fill="#c9c9c9" stroke="#666" stroke-width="0.5" />
<polygon points="302.2,395.4 305.8,394.4 305.8,409.4 298.8,411.4 298.8,407 302.2,406" fill="#c9c9c9" stroke="#666" stroke-width="0.5" />
<polygon points="301.4,415.6 305.8,414.3 305.8,420.7 301.4,422" fill="#c9c9c9" stroke="#666" stroke-width="0.5" />
<polygon points="323.2,409.5 328.3,408 328.3,415.6 323.2,417.1" fill="#c9c9c9" stroke="#666" stroke-width="0.5" />
<polygon points="357.2,380.9 359.2,380.4 359.2,394.2 357.2,394.7" fill="#8a8a8a" stroke="#555" stroke-width="0.4" />
<polygon points="370.8,396.8 375.5,395.41 375.5,401.21 370.8,402.6" fill="#c9c9c9" stroke="#666" stroke-width="0.5" />
<polygon points="393,372 396.6,371 396.6,380.6 398.6,380 398.6,383.6 393,385.2" fill="#c9c9c9" stroke="#666" stroke-width="0.5" />
<polygon points="403.4,379.4 405.8,378.69 405.8,382.09 403.4,382.8" fill="#c9c9c9" stroke="#666" stroke-width="0.5" />
<polygon points="393,390.4 397.7,389.01 397.7,393.31 393,394.7" fill="#c9c9c9" stroke="#666" stroke-width="0.5" />
<polygon points="169.6,430.3 177.2,428.06 177.2,438.46 169.6,440.7" fill="#d2d2d2" stroke="#666" stroke-width="0.5" />
<polygon points="169.6,448.9 177.2,446.66 177.2,457.06 169.6,459.3" fill="#d2d2d2" stroke="#666" stroke-width="0.5" />
<polygon points="170.4,467.2 177.2,465.2 177.2,475.8 170.4,477.8" fill="#d2d2d2" stroke="#666" stroke-width="0.5" />
<polygon points="161,436 162.6,435.6 163.6,482 162,482.4" fill="#a0a0a0" stroke="#555" stroke-width="0.4" />
<polygon points="156.2,448.1 163.4,445.9 163.4,448.9 156.2,451.1" fill="#7a7a7a" stroke="#444" stroke-width="0.4" />
<polygon points="157.6,452.9 161.4,451.7 161.4,455.5 157.6,456.7" fill="#c9c9c9" stroke="#444" stroke-width="0.4" />
<polygon points="156.2,466.1 163.4,463.9 163.4,466.9 156.2,469.1" fill="#7a7a7a" stroke="#444" stroke-width="0.4" />
<polygon points="157.6,470.9 161.4,469.7 161.4,473.5 157.6,474.7" fill="#c9c9c9" stroke="#444" stroke-width="0.4" />
<polygon points="161.2,482.25 162.8,481.65 162.8,485.85 161.2,486.65" fill="#9f9f9f" stroke="#666" stroke-width="0.4" />
<polygon points="154.6,484.2 161.2,482.25 162.8,481.53 156.2,483.48" fill="#e2e2e2" stroke="#666" stroke-width="0.4" />
<polygon points="154.6,484.2 161.2,482.25 161.2,486.65 154.6,488.6" fill="#cfcfcf" stroke="#666" stroke-width="0.5" />
<polygon points="178.8,472.6 181.2,471.2 181.2,479.6 178.8,480.6" fill="#8e8e8e" stroke="#555" stroke-width="0.4" />
<polygon points="181.2,471.2 190.8,468.4 190.8,476.8 181.2,479.6" fill="#c9c9c9" stroke="#666" stroke-width="0.5" />
<polygon points="196.8,472.4 199.3,471.66 199.3,475.86 196.8,476.6" fill="#d6d6d6" stroke="#666" stroke-width="0.5" />
<polygon points="184.6,483.6 189.8,482.2 189.8,493 193.8,491.8 193.8,498 184.6,500.8" fill="#c9c9c9" stroke="#666" stroke-width="0.5" />
<polygon points="170.6,490.2 177.6,488.14 177.6,490.94 170.6,493" fill="#d2d2d2" stroke="#666" stroke-width="0.5" />
<polygon points="155.4,502.2 159.8,501 159.8,506.4 155.4,507.6" fill="#c9c9c9" stroke="#666" stroke-width="0.4" />
<polygon points="159.8,501 162.8,500.2 162.8,505.4 159.8,506.4" fill="#b2b2b2" stroke="#666" stroke-width="0.4" />
<line x1="159.2" y1="506.6" x2="159.2" y2="508.4" stroke="#666" stroke-width="0.5" />
<polygon points="200.5,479.6 201.7,479.9 201.7,495 200.5,494.7" fill="#777" stroke="#555" stroke-width="0.4" />
<line x1="141.2" y1="488.4" x2="146" y2="486.9" stroke="#222" stroke-width="1.2" />
<line x1="171.2" y1="479.2" x2="175.4" y2="477.9" stroke="#222" stroke-width="1.2" />
<line x1="103.3" y1="499.6" x2="108" y2="498.2" stroke="#222" stroke-width="1.2" />
<polygon points="108.6,492.6 119.8,489.2 119.8,496.8 108.6,500.2" fill="#c9c9c9" stroke="#666" stroke-width="0.5" />
<polygon points="119.8,489.2 122.6,490.2 122.6,497.8 119.8,496.8" fill="#a8a8a8" stroke="#666" stroke-width="0.4" />
<polygon points="118,483 139.4,476.7 140.2,477.3 121,483.6" fill="#9a9a9a" stroke="#444" stroke-width="0.5" />
<polygon points="186,463.8 202.4,459 203,459.8 189,464.4" fill="#9a9a9a" stroke="#444" stroke-width="0.5" />
<polygon points="202.6,365 245.9,377.4 518.1,297.2 473.7,285.1" fill="none" stroke="#b3b3b3" stroke-width="0.6" />
<polyline points="245.9,380.5 251.4,382.5 524.4,302.7 518.4,299.7 518.1,297.2" fill="none" stroke="#b3b3b3" stroke-width="0.6" />
<polyline points="261.7,372.74 261.7,374.34 263.1,373.94" fill="none" stroke="#b3b3b3" stroke-width="0.5" />
<polyline points="295.7,362.72 295.7,364.32 297.1,363.92" fill="none" stroke="#b3b3b3" stroke-width="0.5" />
<polyline points="329.7,352.7 329.7,354.3 331.1,353.9" fill="none" stroke="#b3b3b3" stroke-width="0.5" />
<polyline points="363.7,342.68 363.7,344.28 365.1,343.88" fill="none" stroke="#b3b3b3" stroke-width="0.5" />
<polyline points="397.7,332.66 397.7,334.26 399.1,333.86" fill="none" stroke="#b3b3b3" stroke-width="0.5" />
<polyline points="431.7,322.64 431.7,324.24 433.1,323.84" fill="none" stroke="#b3b3b3" stroke-width="0.5" />
<polyline points="465.7,312.62 465.7,314.22 467.1,313.82" fill="none" stroke="#b3b3b3" stroke-width="0.5" />
<polyline points="499.7,302.61 499.7,304.21 501.1,303.81" fill="none" stroke="#b3b3b3" stroke-width="0.5" />
<defs><linearGradient id="cg330" x1="0" x2="1" y1="0" y2="0"><stop offset="0" stop-color="#f4f4f4"/><stop offset="0.55" stop-color="#ffffff"/><stop offset="1" stop-color="#d8d8d8"/></linearGradient></defs>
<path d="M333.2 330.3 L333.2 338.9 A8.6 3.9 0 0 0 350.4 338.9 L350.4 330.3 Z" fill="url(#cg330)" stroke="#b0b0b0" stroke-width="0.5"/>
<ellipse cx="341.8" cy="330.3" rx="8.6" ry="3.9" fill="#ffffff" stroke="#b0b0b0" stroke-width="0.5"/>
<polygon points="373.8,324.9 377.98,326 377.98,330.6 373.8,329.4" fill="#c9c9c9" stroke="#8a8a8a" stroke-width="0.4" />
<polygon points="377.98,326 381.4,324.6 381.4,329 377.98,330.6" fill="#b4b4b4" stroke="#8a8a8a" stroke-width="0.4" />
<polygon points="373.8,324.9 377.22,323.4 381.4,324.6 377.98,326" fill="#e4e4e4" stroke="#8a8a8a" stroke-width="0.4" />
<polygon points="202.6,451.6 245.9,464 245.9,467.1 251.4,469.1 251.4,543.3 245.7,544.6 202.6,532.7" fill="#dcdedd" stroke="#8a8a8a" stroke-width="0.7" />
<polygon points="202.6,451.6 245.9,464 518.1,383.8 473.7,371.7" fill="#ffffff" stroke="none" stroke-width="0.6" />
<polygon points="251.4,469.1 524.4,389.22 524.4,463.32 251.4,543.2" fill="#ffffff" stroke="none" stroke-width="0.6" />
<polygon points="255.3,474.96 266.9,471.56 266.9,483.86 255.3,487.26" fill="#ffffff" stroke="#3e3e3e" stroke-width="0.7" />
<polygon points="265.45,472.39 266.6,471.75 266.6,483.75 265.45,482.99" fill="#bdbdbd" stroke="none" stroke-width="0.6" />
<polygon points="255.6,486.27 265.45,482.99 266.6,483.75 255.6,486.97" fill="#a8a8a8" stroke="none" stroke-width="0.6" />
<polyline points="265.45,472.39 265.45,482.99 255.6,486.27" fill="none" stroke="#888" stroke-width="0.35" />
<polygon points="255.3,491.66 266.9,488.26 266.9,500.56 255.3,503.96" fill="#ffffff" stroke="#3e3e3e" stroke-width="0.7" />
<polygon points="265.45,489.09 266.6,488.45 266.6,500.45 265.45,499.69" fill="#bdbdbd" stroke="none" stroke-width="0.6" />
<polygon points="255.6,502.97 265.45,499.69 266.6,500.45 255.6,503.67" fill="#a8a8a8" stroke="none" stroke-width="0.6" />
<polyline points="265.45,489.09 265.45,499.69 255.6,502.97" fill="none" stroke="#888" stroke-width="0.35" />
<polygon points="255.3,508.36 266.9,504.96 266.9,517.26 255.3,520.66" fill="#ffffff" stroke="#3e3e3e" stroke-width="0.7" />
<polygon points="265.45,505.79 266.6,505.15 266.6,517.15 265.45,516.39" fill="#bdbdbd" stroke="none" stroke-width="0.6" />
<polygon points="255.6,519.67 265.45,516.39 266.6,517.15 255.6,520.37" fill="#a8a8a8" stroke="none" stroke-width="0.6" />
<polyline points="265.45,505.79 265.45,516.39 255.6,519.67" fill="none" stroke="#888" stroke-width="0.35" />
<polygon points="255.3,525.06 266.9,521.66 266.9,538.36 255.3,541.76" fill="#ffffff" stroke="#3e3e3e" stroke-width="0.7" />
<polygon points="265.45,522.49 266.6,521.85 266.6,538.25 265.45,537.49" fill="#bdbdbd" stroke="none" stroke-width="0.6" />
<polyline points="265.45,522.49 265.45,538.79" fill="none" stroke="#888" stroke-width="0.35" />
<polygon points="270.5,470.51 282.1,467.12 282.1,479.42 270.5,482.81" fill="#ffffff" stroke="#3e3e3e" stroke-width="0.7" />
<polygon points="280.65,467.94 281.8,467.3 281.8,479.3 280.65,478.54" fill="#bdbdbd" stroke="none" stroke-width="0.6" />
<polygon points="270.8,481.82 280.65,478.54 281.8,479.3 270.8,482.52" fill="#a8a8a8" stroke="none" stroke-width="0.6" />
<polyline points="280.65,467.94 280.65,478.54 270.8,481.82" fill="none" stroke="#888" stroke-width="0.35" />
<polygon points="270.5,487.21 282.1,483.82 282.1,496.12 270.5,499.51" fill="#ffffff" stroke="#3e3e3e" stroke-width="0.7" />
<polygon points="280.65,484.64 281.8,484 281.8,496 280.65,495.24" fill="#bdbdbd" stroke="none" stroke-width="0.6" />
<polygon points="270.8,498.52 280.65,495.24 281.8,496 270.8,499.22" fill="#a8a8a8" stroke="none" stroke-width="0.6" />
<polyline points="280.65,484.64 280.65,495.24 270.8,498.52" fill="none" stroke="#888" stroke-width="0.35" />
<polygon points="270.5,503.91 282.1,500.52 282.1,512.82 270.5,516.21" fill="#ffffff" stroke="#3e3e3e" stroke-width="0.7" />
<polygon points="280.65,501.34 281.8,500.7 281.8,512.7 280.65,511.94" fill="#bdbdbd" stroke="none" stroke-width="0.6" />
<polygon points="270.8,515.22 280.65,511.94 281.8,512.7 270.8,515.92" fill="#a8a8a8" stroke="none" stroke-width="0.6" />
<polyline points="280.65,501.34 280.65,511.94 270.8,515.22" fill="none" stroke="#888" stroke-width="0.35" />
<polygon points="270.5,520.61 282.1,517.22 282.1,533.92 270.5,537.31" fill="#ffffff" stroke="#3e3e3e" stroke-width="0.7" />
<polygon points="280.65,518.04 281.8,517.4 281.8,533.8 280.65,533.04" fill="#bdbdbd" stroke="none" stroke-width="0.6" />
<polyline points="280.65,518.04 280.65,534.34" fill="none" stroke="#888" stroke-width="0.35" />
<polygon points="289.2,465.04 300.8,461.65 300.8,473.95 289.2,477.34" fill="#ffffff" stroke="#3e3e3e" stroke-width="0.7" />
<polygon points="299.35,462.47 300.5,461.83 300.5,473.83 299.35,473.07" fill="#bdbdbd" stroke="none" stroke-width="0.6" />
<polygon points="289.5,476.35 299.35,473.07 300.5,473.83 289.5,477.05" fill="#a8a8a8" stroke="none" stroke-width="0.6" />
<polyline points="299.35,462.47 299.35,473.07 289.5,476.35" fill="none" stroke="#888" stroke-width="0.35" />
<polygon points="289.2,481.74 300.8,478.35 300.8,490.65 289.2,494.04" fill="#ffffff" stroke="#3e3e3e" stroke-width="0.7" />
<polygon points="299.35,479.17 300.5,478.53 300.5,490.53 299.35,489.77" fill="#bdbdbd" stroke="none" stroke-width="0.6" />
<polygon points="289.5,493.05 299.35,489.77 300.5,490.53 289.5,493.75" fill="#a8a8a8" stroke="none" stroke-width="0.6" />
<polyline points="299.35,479.17 299.35,489.77 289.5,493.05" fill="none" stroke="#888" stroke-width="0.35" />
<polygon points="289.2,498.44 300.8,495.05 300.8,507.35 289.2,510.74" fill="#ffffff" stroke="#3e3e3e" stroke-width="0.7" />
<polygon points="299.35,495.87 300.5,495.23 300.5,507.23 299.35,506.47" fill="#bdbdbd" stroke="none" stroke-width="0.6" />
<polygon points="289.5,509.75 299.35,506.47 300.5,507.23 289.5,510.45" fill="#a8a8a8" stroke="none" stroke-width="0.6" />
<polyline points="299.35,495.87 299.35,506.47 289.5,509.75" fill="none" stroke="#888" stroke-width="0.35" />
<polygon points="289.2,515.14 300.8,511.75 300.8,528.45 289.2,531.84" fill="#ffffff" stroke="#3e3e3e" stroke-width="0.7" />
<polygon points="299.35,512.57 300.5,511.93 300.5,528.33 299.35,527.57" fill="#bdbdbd" stroke="none" stroke-width="0.6" />
<polyline points="299.35,512.57 299.35,528.87" fill="none" stroke="#888" stroke-width="0.35" />
<polygon points="304.4,460.59 316,457.2 316,469.5 304.4,472.89" fill="#ffffff" stroke="#3e3e3e" stroke-width="0.7" />
<polygon points="314.55,458.02 315.7,457.39 315.7,469.39 314.55,468.62" fill="#bdbdbd" stroke="none" stroke-width="0.6" />
<polygon points="304.7,471.9 314.55,468.62 315.7,469.39 304.7,472.6" fill="#a8a8a8" stroke="none" stroke-width="0.6" />
<polyline points="314.55,458.02 314.55,468.62 304.7,471.9" fill="none" stroke="#888" stroke-width="0.35" />
<polygon points="304.4,477.29 316,473.9 316,486.2 304.4,489.59" fill="#ffffff" stroke="#3e3e3e" stroke-width="0.7" />
<polygon points="314.55,474.72 315.7,474.09 315.7,486.09 314.55,485.32" fill="#bdbdbd" stroke="none" stroke-width="0.6" />
<polygon points="304.7,488.6 314.55,485.32 315.7,486.09 304.7,489.3" fill="#a8a8a8" stroke="none" stroke-width="0.6" />
<polyline points="314.55,474.72 314.55,485.32 304.7,488.6" fill="none" stroke="#888" stroke-width="0.35" />
<polygon points="304.4,493.99 316,490.6 316,502.9 304.4,506.29" fill="#ffffff" stroke="#3e3e3e" stroke-width="0.7" />
<polygon points="314.55,491.42 315.7,490.79 315.7,502.79 314.55,502.02" fill="#bdbdbd" stroke="none" stroke-width="0.6" />
<polygon points="304.7,505.3 314.55,502.02 315.7,502.79 304.7,506" fill="#a8a8a8" stroke="none" stroke-width="0.6" />
<polyline points="314.55,491.42 314.55,502.02 304.7,505.3" fill="none" stroke="#888" stroke-width="0.35" />
<polygon points="304.4,510.69 316,507.3 316,524 304.4,527.39" fill="#ffffff" stroke="#3e3e3e" stroke-width="0.7" />
<polygon points="314.55,508.12 315.7,507.49 315.7,523.89 314.55,523.12" fill="#bdbdbd" stroke="none" stroke-width="0.6" />
<polyline points="314.55,508.12 314.55,524.42" fill="none" stroke="#888" stroke-width="0.35" />
<polygon points="323.1,455.12 334.7,451.73 334.7,464.03 323.1,467.42" fill="#ffffff" stroke="#3e3e3e" stroke-width="0.7" />
<polygon points="333.25,452.55 334.4,451.91 334.4,463.91 333.25,463.15" fill="#bdbdbd" stroke="none" stroke-width="0.6" />
<polygon points="323.4,466.43 333.25,463.15 334.4,463.91 323.4,467.13" fill="#a8a8a8" stroke="none" stroke-width="0.6" />
<polyline points="333.25,452.55 333.25,463.15 323.4,466.43" fill="none" stroke="#888" stroke-width="0.35" />
<polygon points="323.1,471.82 334.7,468.43 334.7,480.73 323.1,484.12" fill="#ffffff" stroke="#3e3e3e" stroke-width="0.7" />
<polygon points="333.25,469.25 334.4,468.61 334.4,480.61 333.25,479.85" fill="#bdbdbd" stroke="none" stroke-width="0.6" />
<polygon points="323.4,483.13 333.25,479.85 334.4,480.61 323.4,483.83" fill="#a8a8a8" stroke="none" stroke-width="0.6" />
<polyline points="333.25,469.25 333.25,479.85 323.4,483.13" fill="none" stroke="#888" stroke-width="0.35" />
<polygon points="323.1,488.52 334.7,485.13 334.7,497.43 323.1,500.82" fill="#ffffff" stroke="#3e3e3e" stroke-width="0.7" />
<polygon points="333.25,485.95 334.4,485.31 334.4,497.31 333.25,496.55" fill="#bdbdbd" stroke="none" stroke-width="0.6" />
<polygon points="323.4,499.83 333.25,496.55 334.4,497.31 323.4,500.53" fill="#a8a8a8" stroke="none" stroke-width="0.6" />
<polyline points="333.25,485.95 333.25,496.55 323.4,499.83" fill="none" stroke="#888" stroke-width="0.35" />
<polygon points="323.1,505.22 334.7,501.83 334.7,518.53 323.1,521.92" fill="#ffffff" stroke="#3e3e3e" stroke-width="0.7" />
<polygon points="333.25,502.65 334.4,502.01 334.4,518.41 333.25,517.65" fill="#bdbdbd" stroke="none" stroke-width="0.6" />
<polyline points="333.25,502.65 333.25,518.95" fill="none" stroke="#888" stroke-width="0.35" />
<polygon points="338.3,450.67 349.9,447.28 349.9,459.58 338.3,462.97" fill="#ffffff" stroke="#3e3e3e" stroke-width="0.7" />
<polygon points="348.45,448.1 349.6,447.47 349.6,459.47 348.45,458.7" fill="#bdbdbd" stroke="none" stroke-width="0.6" />
<polygon points="338.6,461.99 348.45,458.7 349.6,459.47 338.6,462.69" fill="#a8a8a8" stroke="none" stroke-width="0.6" />
<polyline points="348.45,448.1 348.45,458.7 338.6,461.99" fill="none" stroke="#888" stroke-width="0.35" />
<polygon points="338.3,467.37 349.9,463.98 349.9,476.28 338.3,479.67" fill="#ffffff" stroke="#3e3e3e" stroke-width="0.7" />
<polygon points="348.45,464.8 349.6,464.17 349.6,476.17 348.45,475.4" fill="#bdbdbd" stroke="none" stroke-width="0.6" />
<polygon points="338.6,478.69 348.45,475.4 349.6,476.17 338.6,479.39" fill="#a8a8a8" stroke="none" stroke-width="0.6" />
<polyline points="348.45,464.8 348.45,475.4 338.6,478.69" fill="none" stroke="#888" stroke-width="0.35" />
<polygon points="338.3,484.07 349.9,480.68 349.9,492.98 338.3,496.37" fill="#ffffff" stroke="#3e3e3e" stroke-width="0.7" />
<polygon points="348.45,481.5 349.6,480.87 349.6,492.87 348.45,492.1" fill="#bdbdbd" stroke="none" stroke-width="0.6" />
<polygon points="338.6,495.39 348.45,492.1 349.6,492.87 338.6,496.09" fill="#a8a8a8" stroke="none" stroke-width="0.6" />
<polyline points="348.45,481.5 348.45,492.1 338.6,495.39" fill="none" stroke="#888" stroke-width="0.35" />
<polygon points="338.3,500.77 349.9,497.38 349.9,514.08 338.3,517.47" fill="#ffffff" stroke="#3e3e3e" stroke-width="0.7" />
<polygon points="348.45,498.2 349.6,497.57 349.6,513.97 348.45,513.2" fill="#bdbdbd" stroke="none" stroke-width="0.6" />
<polyline points="348.45,498.2 348.45,514.5" fill="none" stroke="#888" stroke-width="0.35" />
<polygon points="357,445.2 368.6,441.81 368.6,454.11 357,457.5" fill="#ffffff" stroke="#3e3e3e" stroke-width="0.7" />
<polygon points="367.15,442.63 368.3,442 368.3,454 367.15,453.23" fill="#bdbdbd" stroke="none" stroke-width="0.6" />
<polygon points="357.3,456.51 367.15,453.23 368.3,454 357.3,457.21" fill="#a8a8a8" stroke="none" stroke-width="0.6" />
<polyline points="367.15,442.63 367.15,453.23 357.3,456.51" fill="none" stroke="#888" stroke-width="0.35" />
<polygon points="357,461.9 368.6,458.51 368.6,470.81 357,474.2" fill="#ffffff" stroke="#3e3e3e" stroke-width="0.7" />
<polygon points="367.15,459.33 368.3,458.7 368.3,470.7 367.15,469.93" fill="#bdbdbd" stroke="none" stroke-width="0.6" />
<polygon points="357.3,473.21 367.15,469.93 368.3,470.7 357.3,473.91" fill="#a8a8a8" stroke="none" stroke-width="0.6" />
<polyline points="367.15,459.33 367.15,469.93 357.3,473.21" fill="none" stroke="#888" stroke-width="0.35" />
<polygon points="357,478.6 368.6,475.21 368.6,487.51 357,490.9" fill="#ffffff" stroke="#3e3e3e" stroke-width="0.7" />
<polygon points="367.15,476.03 368.3,475.4 368.3,487.4 367.15,486.63" fill="#bdbdbd" stroke="none" stroke-width="0.6" />
<polygon points="357.3,489.91 367.15,486.63 368.3,487.4 357.3,490.61" fill="#a8a8a8" stroke="none" stroke-width="0.6" />
<polyline points="367.15,476.03 367.15,486.63 357.3,489.91" fill="none" stroke="#888" stroke-width="0.35" />
<polygon points="357,495.3 368.6,491.91 368.6,508.61 357,512" fill="#ffffff" stroke="#3e3e3e" stroke-width="0.7" />
<polygon points="367.15,492.73 368.3,492.1 368.3,508.5 367.15,507.73" fill="#bdbdbd" stroke="none" stroke-width="0.6" />
<polyline points="367.15,492.73 367.15,509.03" fill="none" stroke="#888" stroke-width="0.35" />
<polygon points="372.2,440.75 383.8,437.36 383.8,449.66 372.2,453.05" fill="#ffffff" stroke="#3e3e3e" stroke-width="0.7" />
<polygon points="382.35,438.18 383.5,437.55 383.5,449.55 382.35,448.78" fill="#bdbdbd" stroke="none" stroke-width="0.6" />
<polygon points="372.5,452.07 382.35,448.78 383.5,449.55 372.5,452.77" fill="#a8a8a8" stroke="none" stroke-width="0.6" />
<polyline points="382.35,438.18 382.35,448.78 372.5,452.07" fill="none" stroke="#888" stroke-width="0.35" />
<polygon points="372.2,457.45 383.8,454.06 383.8,466.36 372.2,469.75" fill="#ffffff" stroke="#3e3e3e" stroke-width="0.7" />
<polygon points="382.35,454.88 383.5,454.25 383.5,466.25 382.35,465.48" fill="#bdbdbd" stroke="none" stroke-width="0.6" />
<polygon points="372.5,468.77 382.35,465.48 383.5,466.25 372.5,469.47" fill="#a8a8a8" stroke="none" stroke-width="0.6" />
<polyline points="382.35,454.88 382.35,465.48 372.5,468.77" fill="none" stroke="#888" stroke-width="0.35" />
<polygon points="372.2,474.15 383.8,470.76 383.8,483.06 372.2,486.45" fill="#ffffff" stroke="#3e3e3e" stroke-width="0.7" />
<polygon points="382.35,471.58 383.5,470.95 383.5,482.95 382.35,482.18" fill="#bdbdbd" stroke="none" stroke-width="0.6" />
<polygon points="372.5,485.47 382.35,482.18 383.5,482.95 372.5,486.17" fill="#a8a8a8" stroke="none" stroke-width="0.6" />
<polyline points="382.35,471.58 382.35,482.18 372.5,485.47" fill="none" stroke="#888" stroke-width="0.35" />
<polygon points="372.2,490.85 383.8,487.46 383.8,504.16 372.2,507.55" fill="#ffffff" stroke="#3e3e3e" stroke-width="0.7" />
<polygon points="382.35,488.28 383.5,487.65 383.5,504.05 382.35,503.28" fill="#bdbdbd" stroke="none" stroke-width="0.6" />
<polyline points="382.35,488.28 382.35,504.58" fill="none" stroke="#888" stroke-width="0.35" />
<polygon points="390.9,435.28 402.5,431.89 402.5,444.19 390.9,447.58" fill="#ffffff" stroke="#3e3e3e" stroke-width="0.7" />
<polygon points="401.05,432.71 402.2,432.08 402.2,444.08 401.05,443.31" fill="#bdbdbd" stroke="none" stroke-width="0.6" />
<polygon points="391.2,446.59 401.05,443.31 402.2,444.08 391.2,447.29" fill="#a8a8a8" stroke="none" stroke-width="0.6" />
<polyline points="401.05,432.71 401.05,443.31 391.2,446.59" fill="none" stroke="#888" stroke-width="0.35" />
<polygon points="390.9,451.98 402.5,448.59 402.5,460.89 390.9,464.28" fill="#ffffff" stroke="#3e3e3e" stroke-width="0.7" />
<polygon points="401.05,449.41 402.2,448.78 402.2,460.78 401.05,460.01" fill="#bdbdbd" stroke="none" stroke-width="0.6" />
<polygon points="391.2,463.29 401.05,460.01 402.2,460.78 391.2,463.99" fill="#a8a8a8" stroke="none" stroke-width="0.6" />
<polyline points="401.05,449.41 401.05,460.01 391.2,463.29" fill="none" stroke="#888" stroke-width="0.35" />
<polygon points="390.9,468.68 402.5,465.29 402.5,477.59 390.9,480.98" fill="#ffffff" stroke="#3e3e3e" stroke-width="0.7" />
<polygon points="401.05,466.11 402.2,465.48 402.2,477.48 401.05,476.71" fill="#bdbdbd" stroke="none" stroke-width="0.6" />
<polygon points="391.2,479.99 401.05,476.71 402.2,477.48 391.2,480.69" fill="#a8a8a8" stroke="none" stroke-width="0.6" />
<polyline points="401.05,466.11 401.05,476.71 391.2,479.99" fill="none" stroke="#888" stroke-width="0.35" />
<polygon points="390.9,485.38 402.5,481.99 402.5,498.69 390.9,502.08" fill="#ffffff" stroke="#3e3e3e" stroke-width="0.7" />
<polygon points="401.05,482.81 402.2,482.18 402.2,498.58 401.05,497.81" fill="#bdbdbd" stroke="none" stroke-width="0.6" />
<polyline points="401.05,482.81 401.05,499.11" fill="none" stroke="#888" stroke-width="0.35" />
<polygon points="406.1,430.83 417.7,427.44 417.7,439.74 406.1,443.13" fill="#ffffff" stroke="#3e3e3e" stroke-width="0.7" />
<polygon points="416.25,428.26 417.4,427.63 417.4,439.63 416.25,438.86" fill="#bdbdbd" stroke="none" stroke-width="0.6" />
<polygon points="406.4,442.15 416.25,438.86 417.4,439.63 406.4,442.85" fill="#a8a8a8" stroke="none" stroke-width="0.6" />
<polyline points="416.25,428.26 416.25,438.86 406.4,442.15" fill="none" stroke="#888" stroke-width="0.35" />
<polygon points="406.1,447.53 417.7,444.14 417.7,456.44 406.1,459.83" fill="#ffffff" stroke="#3e3e3e" stroke-width="0.7" />
<polygon points="416.25,444.96 417.4,444.33 417.4,456.33 416.25,455.56" fill="#bdbdbd" stroke="none" stroke-width="0.6" />
<polygon points="406.4,458.85 416.25,455.56 417.4,456.33 406.4,459.55" fill="#a8a8a8" stroke="none" stroke-width="0.6" />
<polyline points="416.25,444.96 416.25,455.56 406.4,458.85" fill="none" stroke="#888" stroke-width="0.35" />
<polygon points="406.1,464.23 417.7,460.84 417.7,473.14 406.1,476.53" fill="#ffffff" stroke="#3e3e3e" stroke-width="0.7" />
<polygon points="416.25,461.66 417.4,461.03 417.4,473.03 416.25,472.26" fill="#bdbdbd" stroke="none" stroke-width="0.6" />
<polygon points="406.4,475.55 416.25,472.26 417.4,473.03 406.4,476.25" fill="#a8a8a8" stroke="none" stroke-width="0.6" />
<polyline points="416.25,461.66 416.25,472.26 406.4,475.55" fill="none" stroke="#888" stroke-width="0.35" />
<polygon points="406.1,480.93 417.7,477.54 417.7,494.24 406.1,497.63" fill="#ffffff" stroke="#3e3e3e" stroke-width="0.7" />
<polygon points="416.25,478.36 417.4,477.73 417.4,494.13 416.25,493.36" fill="#bdbdbd" stroke="none" stroke-width="0.6" />
<polyline points="416.25,478.36 416.25,494.66" fill="none" stroke="#888" stroke-width="0.35" />
<polygon points="424.8,425.36 436.4,421.97 436.4,434.27 424.8,437.66" fill="#ffffff" stroke="#3e3e3e" stroke-width="0.7" />
<polygon points="434.95,422.79 436.1,422.16 436.1,434.16 434.95,433.39" fill="#bdbdbd" stroke="none" stroke-width="0.6" />
<polygon points="425.1,436.68 434.95,433.39 436.1,434.16 425.1,437.38" fill="#a8a8a8" stroke="none" stroke-width="0.6" />
<polyline points="434.95,422.79 434.95,433.39 425.1,436.68" fill="none" stroke="#888" stroke-width="0.35" />
<polygon points="424.8,442.06 436.4,438.67 436.4,450.97 424.8,454.36" fill="#ffffff" stroke="#3e3e3e" stroke-width="0.7" />
<polygon points="434.95,439.49 436.1,438.86 436.1,450.86 434.95,450.09" fill="#bdbdbd" stroke="none" stroke-width="0.6" />
<polygon points="425.1,453.38 434.95,450.09 436.1,450.86 425.1,454.08" fill="#a8a8a8" stroke="none" stroke-width="0.6" />
<polyline points="434.95,439.49 434.95,450.09 425.1,453.38" fill="none" stroke="#888" stroke-width="0.35" />
<polygon points="424.8,458.76 436.4,455.37 436.4,467.67 424.8,471.06" fill="#ffffff" stroke="#3e3e3e" stroke-width="0.7" />
<polygon points="434.95,456.19 436.1,455.56 436.1,467.56 434.95,466.79" fill="#bdbdbd" stroke="none" stroke-width="0.6" />
<polygon points="425.1,470.08 434.95,466.79 436.1,467.56 425.1,470.78" fill="#a8a8a8" stroke="none" stroke-width="0.6" />
<polyline points="434.95,456.19 434.95,466.79 425.1,470.08" fill="none" stroke="#888" stroke-width="0.35" />
<polygon points="424.8,475.46 436.4,472.07 436.4,488.77 424.8,492.16" fill="#ffffff" stroke="#3e3e3e" stroke-width="0.7" />
<polygon points="434.95,472.89 436.1,472.26 436.1,488.66 434.95,487.89" fill="#bdbdbd" stroke="none" stroke-width="0.6" />
<polyline points="434.95,472.89 434.95,489.19" fill="none" stroke="#888" stroke-width="0.35" />
<polygon points="440,420.92 451.6,417.52 451.6,429.82 440,433.22" fill="#ffffff" stroke="#3e3e3e" stroke-width="0.7" />
<polygon points="450.15,418.35 451.3,417.71 451.3,429.71 450.15,428.95" fill="#bdbdbd" stroke="none" stroke-width="0.6" />
<polygon points="440.3,432.23 450.15,428.95 451.3,429.71 440.3,432.93" fill="#a8a8a8" stroke="none" stroke-width="0.6" />
<polyline points="450.15,418.35 450.15,428.95 440.3,432.23" fill="none" stroke="#888" stroke-width="0.35" />
<polygon points="440,437.62 451.6,434.22 451.6,446.52 440,449.92" fill="#ffffff" stroke="#3e3e3e" stroke-width="0.7" />
<polygon points="450.15,435.05 451.3,434.41 451.3,446.41 450.15,445.65" fill="#bdbdbd" stroke="none" stroke-width="0.6" />
<polygon points="440.3,448.93 450.15,445.65 451.3,446.41 440.3,449.63" fill="#a8a8a8" stroke="none" stroke-width="0.6" />
<polyline points="450.15,435.05 450.15,445.65 440.3,448.93" fill="none" stroke="#888" stroke-width="0.35" />
<polygon points="440,454.32 451.6,450.92 451.6,463.22 440,466.62" fill="#ffffff" stroke="#3e3e3e" stroke-width="0.7" />
<polygon points="450.15,451.75 451.3,451.11 451.3,463.11 450.15,462.35" fill="#bdbdbd" stroke="none" stroke-width="0.6" />
<polygon points="440.3,465.63 450.15,462.35 451.3,463.11 440.3,466.33" fill="#a8a8a8" stroke="none" stroke-width="0.6" />
<polyline points="450.15,451.75 450.15,462.35 440.3,465.63" fill="none" stroke="#888" stroke-width="0.35" />
<polygon points="440,471.02 451.6,467.62 451.6,484.32 440,487.72" fill="#ffffff" stroke="#3e3e3e" stroke-width="0.7" />
<polygon points="450.15,468.45 451.3,467.81 451.3,484.21 450.15,483.45" fill="#bdbdbd" stroke="none" stroke-width="0.6" />
<polyline points="450.15,468.45 450.15,484.75" fill="none" stroke="#888" stroke-width="0.35" />
<polygon points="458.7,415.44 470.3,412.05 470.3,424.35 458.7,427.74" fill="#ffffff" stroke="#3e3e3e" stroke-width="0.7" />
<polygon points="468.85,412.87 470,412.24 470,424.24 468.85,423.47" fill="#bdbdbd" stroke="none" stroke-width="0.6" />
<polygon points="459,426.76 468.85,423.47 470,424.24 459,427.46" fill="#a8a8a8" stroke="none" stroke-width="0.6" />
<polyline points="468.85,412.87 468.85,423.47 459,426.76" fill="none" stroke="#888" stroke-width="0.35" />
<polygon points="458.7,432.14 470.3,428.75 470.3,441.05 458.7,444.44" fill="#ffffff" stroke="#3e3e3e" stroke-width="0.7" />
<polygon points="468.85,429.57 470,428.94 470,440.94 468.85,440.17" fill="#bdbdbd" stroke="none" stroke-width="0.6" />
<polygon points="459,443.46 468.85,440.17 470,440.94 459,444.16" fill="#a8a8a8" stroke="none" stroke-width="0.6" />
<polyline points="468.85,429.57 468.85,440.17 459,443.46" fill="none" stroke="#888" stroke-width="0.35" />
<polygon points="458.7,448.84 470.3,445.45 470.3,457.75 458.7,461.14" fill="#ffffff" stroke="#3e3e3e" stroke-width="0.7" />
<polygon points="468.85,446.27 470,445.64 470,457.64 468.85,456.87" fill="#bdbdbd" stroke="none" stroke-width="0.6" />
<polygon points="459,460.16 468.85,456.87 470,457.64 459,460.86" fill="#a8a8a8" stroke="none" stroke-width="0.6" />
<polyline points="468.85,446.27 468.85,456.87 459,460.16" fill="none" stroke="#888" stroke-width="0.35" />
<polygon points="458.7,465.54 470.3,462.15 470.3,478.85 458.7,482.24" fill="#ffffff" stroke="#3e3e3e" stroke-width="0.7" />
<polygon points="468.85,462.97 470,462.34 470,478.74 468.85,477.97" fill="#bdbdbd" stroke="none" stroke-width="0.6" />
<polyline points="468.85,462.97 468.85,479.27" fill="none" stroke="#888" stroke-width="0.35" />
<polygon points="473.9,411 485.5,407.6 485.5,419.9 473.9,423.3" fill="#ffffff" stroke="#3e3e3e" stroke-width="0.7" />
<polygon points="484.05,408.43 485.2,407.79 485.2,419.79 484.05,419.03" fill="#bdbdbd" stroke="none" stroke-width="0.6" />
<polygon points="474.2,422.31 484.05,419.03 485.2,419.79 474.2,423.01" fill="#a8a8a8" stroke="none" stroke-width="0.6" />
<polyline points="484.05,408.43 484.05,419.03 474.2,422.31" fill="none" stroke="#888" stroke-width="0.35" />
<polygon points="473.9,427.7 485.5,424.3 485.5,436.6 473.9,440" fill="#ffffff" stroke="#3e3e3e" stroke-width="0.7" />
<polygon points="484.05,425.13 485.2,424.49 485.2,436.49 484.05,435.73" fill="#bdbdbd" stroke="none" stroke-width="0.6" />
<polygon points="474.2,439.01 484.05,435.73 485.2,436.49 474.2,439.71" fill="#a8a8a8" stroke="none" stroke-width="0.6" />
<polyline points="484.05,425.13 484.05,435.73 474.2,439.01" fill="none" stroke="#888" stroke-width="0.35" />
<polygon points="473.9,444.4 485.5,441 485.5,453.3 473.9,456.7" fill="#ffffff" stroke="#3e3e3e" stroke-width="0.7" />
<polygon points="484.05,441.83 485.2,441.19 485.2,453.19 484.05,452.43" fill="#bdbdbd" stroke="none" stroke-width="0.6" />
<polygon points="474.2,455.71 484.05,452.43 485.2,453.19 474.2,456.41" fill="#a8a8a8" stroke="none" stroke-width="0.6" />
<polyline points="484.05,441.83 484.05,452.43 474.2,455.71" fill="none" stroke="#888" stroke-width="0.35" />
<polygon points="473.9,461.1 485.5,457.7 485.5,474.4 473.9,477.8" fill="#ffffff" stroke="#3e3e3e" stroke-width="0.7" />
<polygon points="484.05,458.53 485.2,457.89 485.2,474.29 484.05,473.53" fill="#bdbdbd" stroke="none" stroke-width="0.6" />
<polyline points="484.05,458.53 484.05,474.83" fill="none" stroke="#888" stroke-width="0.35" />
<polygon points="492.6,405.52 504.2,402.13 504.2,414.43 492.6,417.82" fill="#ffffff" stroke="#3e3e3e" stroke-width="0.7" />
<polygon points="502.75,402.95 503.9,402.32 503.9,414.32 502.75,413.55" fill="#bdbdbd" stroke="none" stroke-width="0.6" />
<polygon points="492.9,416.84 502.75,413.55 503.9,414.32 492.9,417.54" fill="#a8a8a8" stroke="none" stroke-width="0.6" />
<polyline points="502.75,402.95 502.75,413.55 492.9,416.84" fill="none" stroke="#888" stroke-width="0.35" />
<polygon points="492.6,422.22 504.2,418.83 504.2,431.13 492.6,434.52" fill="#ffffff" stroke="#3e3e3e" stroke-width="0.7" />
<polygon points="502.75,419.65 503.9,419.02 503.9,431.02 502.75,430.25" fill="#bdbdbd" stroke="none" stroke-width="0.6" />
<polygon points="492.9,433.54 502.75,430.25 503.9,431.02 492.9,434.24" fill="#a8a8a8" stroke="none" stroke-width="0.6" />
<polyline points="502.75,419.65 502.75,430.25 492.9,433.54" fill="none" stroke="#888" stroke-width="0.35" />
<polygon points="492.6,438.92 504.2,435.53 504.2,447.83 492.6,451.22" fill="#ffffff" stroke="#3e3e3e" stroke-width="0.7" />
<polygon points="502.75,436.35 503.9,435.72 503.9,447.72 502.75,446.95" fill="#bdbdbd" stroke="none" stroke-width="0.6" />
<polygon points="492.9,450.24 502.75,446.95 503.9,447.72 492.9,450.94" fill="#a8a8a8" stroke="none" stroke-width="0.6" />
<polyline points="502.75,436.35 502.75,446.95 492.9,450.24" fill="none" stroke="#888" stroke-width="0.35" />
<polygon points="492.6,455.62 504.2,452.23 504.2,468.93 492.6,472.32" fill="#ffffff" stroke="#3e3e3e" stroke-width="0.7" />
<polygon points="502.75,453.05 503.9,452.42 503.9,468.82 502.75,468.05" fill="#bdbdbd" stroke="none" stroke-width="0.6" />
<polyline points="502.75,453.05 502.75,469.35" fill="none" stroke="#888" stroke-width="0.35" />
<polygon points="507.8,401.08 519.4,397.68 519.4,409.98 507.8,413.38" fill="#ffffff" stroke="#3e3e3e" stroke-width="0.7" />
<polygon points="517.95,398.51 519.1,397.87 519.1,409.87 517.95,409.11" fill="#bdbdbd" stroke="none" stroke-width="0.6" />
<polygon points="508.1,412.39 517.95,409.11 519.1,409.87 508.1,413.09" fill="#a8a8a8" stroke="none" stroke-width="0.6" />
<polyline points="517.95,398.51 517.95,409.11 508.1,412.39" fill="none" stroke="#888" stroke-width="0.35" />
<polygon points="507.8,417.78 519.4,414.38 519.4,426.68 507.8,430.08" fill="#ffffff" stroke="#3e3e3e" stroke-width="0.7" />
<polygon points="517.95,415.21 519.1,414.57 519.1,426.57 517.95,425.81" fill="#bdbdbd" stroke="none" stroke-width="0.6" />
<polygon points="508.1,429.09 517.95,425.81 519.1,426.57 508.1,429.79" fill="#a8a8a8" stroke="none" stroke-width="0.6" />
<polyline points="517.95,415.21 517.95,425.81 508.1,429.09" fill="none" stroke="#888" stroke-width="0.35" />
<polygon points="507.8,434.48 519.4,431.08 519.4,443.38 507.8,446.78" fill="#ffffff" stroke="#3e3e3e" stroke-width="0.7" />
<polygon points="517.95,431.91 519.1,431.27 519.1,443.27 517.95,442.51" fill="#bdbdbd" stroke="none" stroke-width="0.6" />
<polygon points="508.1,445.79 517.95,442.51 519.1,443.27 508.1,446.49" fill="#a8a8a8" stroke="none" stroke-width="0.6" />
<polyline points="517.95,431.91 517.95,442.51 508.1,445.79" fill="none" stroke="#888" stroke-width="0.35" />
<polygon points="507.8,451.18 519.4,447.78 519.4,464.48 507.8,467.88" fill="#ffffff" stroke="#3e3e3e" stroke-width="0.7" />
<polygon points="517.95,448.61 519.1,447.97 519.1,464.37 517.95,463.61" fill="#bdbdbd" stroke="none" stroke-width="0.6" />
<polyline points="517.95,448.61 517.95,464.91" fill="none" stroke="#888" stroke-width="0.35" />
<line x1="302" y1="528.39" x2="302" y2="454.29" stroke="#c2c2c2" stroke-width="0.8" />
<line x1="334.2" y1="518.97" x2="334.2" y2="444.87" stroke="#c2c2c2" stroke-width="0.8" />
<line x1="370" y1="508.5" x2="370" y2="434.4" stroke="#dedede" stroke-width="0.6" />
<line x1="402.2" y1="499.08" x2="402.2" y2="424.98" stroke="#dedede" stroke-width="0.6" />
<line x1="438" y1="488.6" x2="438" y2="414.5" stroke="#dedede" stroke-width="0.6" />
<line x1="470.2" y1="479.18" x2="470.2" y2="405.08" stroke="#dedede" stroke-width="0.6" />
<line x1="506" y1="468.7" x2="506" y2="394.6" stroke="#dedede" stroke-width="0.6" />
<polyline points="251.4,543.2 524.4,463.32 524.4,389.22" fill="none" stroke="#666" stroke-width="0.6" />
<polygon points="206.6,451.6 245.9,462.81 514.1,383.8 473.7,372.89" fill="none" stroke="#8a8a8a" stroke-width="0.55" />
<line x1="202.6" y1="451.6" x2="473.7" y2="371.7" stroke="#3a3a3a" stroke-width="1.0" />
<line x1="473.7" y1="371.7" x2="518.1" y2="383.8" stroke="#3a3a3a" stroke-width="1.0" />
<line x1="245.9" y1="464" x2="518.1" y2="383.8" stroke="#4a4a4a" stroke-width="0.9" />
<polyline points="245.9,467.1 251.4,469.1" fill="none" stroke="#777" stroke-width="0.6" />
<line x1="245.9" y1="467.1" x2="518.6" y2="386.7" stroke="#777" stroke-width="0.65" />
<line x1="251.4" y1="469.1" x2="524.4" y2="389.3" stroke="#4a4a4a" stroke-width="0.7" />
<polyline points="518.1,383.8 518.6,386.7 524.4,389.3" fill="none" stroke="#777" stroke-width="0.6" />
<polyline points="263,457.66 263,459.16" fill="none" stroke="#4a4a4a" stroke-width="0.6" />
<polyline points="297,447.64 297,449.14" fill="none" stroke="#4a4a4a" stroke-width="0.6" />
<polyline points="331,437.62 331,439.12" fill="none" stroke="#4a4a4a" stroke-width="0.6" />
<polyline points="365,427.6 365,429.1" fill="none" stroke="#4a4a4a" stroke-width="0.6" />
<polyline points="399,417.58 399,419.08" fill="none" stroke="#4a4a4a" stroke-width="0.6" />
<polyline points="433,407.56 433,409.06" fill="none" stroke="#4a4a4a" stroke-width="0.6" />
<polyline points="467,397.54 467,399.04" fill="none" stroke="#4a4a4a" stroke-width="0.6" />
<polyline points="501,387.52 501,389.02" fill="none" stroke="#4a4a4a" stroke-width="0.6" />
<line x1="202.6" y1="451.6" x2="245.9" y2="464" stroke="#222" stroke-width="1.1" stroke-dasharray="3.2 1.2"/>
<line x1="202.6" y1="451.6" x2="202.6" y2="532.7" stroke="#555" stroke-width="0.8" />
<line x1="94" y1="419.2" x2="202.6" y2="451.6" stroke="#222" stroke-width="0.9" stroke-dasharray="2.3 1.9"/>
<line x1="245.9" y1="464" x2="437" y2="521" stroke="#222" stroke-width="0.9" stroke-dasharray="2.3 1.9"/>
<line x1="94.4" y1="500.2" x2="202.6" y2="532.7" stroke="#222" stroke-width="0.9" stroke-dasharray="2.3 1.9"/>
<line x1="245.7" y1="544.6" x2="437.5" y2="602" stroke="#222" stroke-width="0.9" stroke-dasharray="2.3 1.9"/>
<line x1="379.2" y1="341.9" x2="473.7" y2="371.7" stroke="#222" stroke-width="0.9" stroke-dasharray="2.3 1.9"/>
<line x1="518.1" y1="383.8" x2="691.5" y2="435.6" stroke="#222" stroke-width="0.9" stroke-dasharray="2.3 1.9"/>
<polygon points="438.9,537.93 455.7,532.98 455.7,539.48 438.9,544.43" fill="#f1f2f1" stroke="#b4b4b4" stroke-width="0.5" />
<polygon points="448.23,535.48 451.97,534.38 451.97,540.28 448.23,541.38" fill="#e9ece9" stroke="none" stroke-width="0.6" />
<line x1="440.77" y1="537.38" x2="440.77" y2="543.88" stroke="#b4b4b4" stroke-width="0.45" />
<line x1="442.63" y1="536.83" x2="442.63" y2="543.33" stroke="#b4b4b4" stroke-width="0.45" />
<line x1="444.5" y1="536.28" x2="444.5" y2="542.78" stroke="#b4b4b4" stroke-width="0.45" />
<line x1="446.37" y1="535.73" x2="446.37" y2="542.23" stroke="#b4b4b4" stroke-width="0.45" />
<line x1="448.23" y1="535.18" x2="448.23" y2="541.68" stroke="#b4b4b4" stroke-width="0.45" />
<line x1="451.97" y1="534.08" x2="451.97" y2="540.58" stroke="#b4b4b4" stroke-width="0.45" />
<line x1="453.83" y1="533.53" x2="453.83" y2="540.03" stroke="#b4b4b4" stroke-width="0.45" />
<line x1="425" y1="542.03" x2="438" y2="538.2" stroke="#c4c4c4" stroke-width="0.5" />
<polygon points="438.9,556.03 455.7,551.08 455.7,557.58 438.9,562.53" fill="#f1f2f1" stroke="#b4b4b4" stroke-width="0.5" />
<polygon points="448.23,553.58 451.97,552.48 451.97,558.38 448.23,559.48" fill="#e9ece9" stroke="none" stroke-width="0.6" />
<line x1="440.77" y1="555.48" x2="440.77" y2="561.98" stroke="#b4b4b4" stroke-width="0.45" />
<line x1="442.63" y1="554.93" x2="442.63" y2="561.43" stroke="#b4b4b4" stroke-width="0.45" />
<line x1="444.5" y1="554.38" x2="444.5" y2="560.88" stroke="#b4b4b4" stroke-width="0.45" />
<line x1="446.37" y1="553.83" x2="446.37" y2="560.33" stroke="#b4b4b4" stroke-width="0.45" />
<line x1="448.23" y1="553.28" x2="448.23" y2="559.78" stroke="#b4b4b4" stroke-width="0.45" />
<line x1="451.97" y1="552.18" x2="451.97" y2="558.68" stroke="#b4b4b4" stroke-width="0.45" />
<line x1="453.83" y1="551.63" x2="453.83" y2="558.13" stroke="#b4b4b4" stroke-width="0.45" />
<line x1="425" y1="560.13" x2="438" y2="556.3" stroke="#c4c4c4" stroke-width="0.5" />
<polygon points="438.9,574.13 455.7,569.18 455.7,575.68 438.9,580.63" fill="#f1f2f1" stroke="#b4b4b4" stroke-width="0.5" />
<polygon points="448.23,571.68 451.97,570.58 451.97,576.48 448.23,577.58" fill="#e9ece9" stroke="none" stroke-width="0.6" />
<line x1="440.77" y1="573.58" x2="440.77" y2="580.08" stroke="#b4b4b4" stroke-width="0.45" />
<line x1="442.63" y1="573.03" x2="442.63" y2="579.53" stroke="#b4b4b4" stroke-width="0.45" />
<line x1="444.5" y1="572.48" x2="444.5" y2="578.98" stroke="#b4b4b4" stroke-width="0.45" />
<line x1="446.37" y1="571.93" x2="446.37" y2="578.43" stroke="#b4b4b4" stroke-width="0.45" />
<line x1="448.23" y1="571.38" x2="448.23" y2="577.88" stroke="#b4b4b4" stroke-width="0.45" />
<line x1="451.97" y1="570.28" x2="451.97" y2="576.78" stroke="#b4b4b4" stroke-width="0.45" />
<line x1="453.83" y1="569.73" x2="453.83" y2="576.23" stroke="#b4b4b4" stroke-width="0.45" />
<line x1="425" y1="578.23" x2="438" y2="574.4" stroke="#c4c4c4" stroke-width="0.5" />
<polygon points="438.9,592.23 455.7,587.28 455.7,593.78 438.9,598.73" fill="#f1f2f1" stroke="#b4b4b4" stroke-width="0.5" />
<polygon points="448.23,589.78 451.97,588.68 451.97,594.58 448.23,595.68" fill="#e9ece9" stroke="none" stroke-width="0.6" />
<line x1="440.77" y1="591.68" x2="440.77" y2="598.18" stroke="#b4b4b4" stroke-width="0.45" />
<line x1="442.63" y1="591.13" x2="442.63" y2="597.63" stroke="#b4b4b4" stroke-width="0.45" />
<line x1="444.5" y1="590.58" x2="444.5" y2="597.08" stroke="#b4b4b4" stroke-width="0.45" />
<line x1="446.37" y1="590.03" x2="446.37" y2="596.53" stroke="#b4b4b4" stroke-width="0.45" />
<line x1="448.23" y1="589.48" x2="448.23" y2="595.98" stroke="#b4b4b4" stroke-width="0.45" />
<line x1="451.97" y1="588.38" x2="451.97" y2="594.88" stroke="#b4b4b4" stroke-width="0.45" />
<line x1="453.83" y1="587.83" x2="453.83" y2="594.33" stroke="#b4b4b4" stroke-width="0.45" />
<line x1="425" y1="596.33" x2="438" y2="592.5" stroke="#c4c4c4" stroke-width="0.5" />
<line x1="438" y1="529.4" x2="438" y2="599.5" stroke="#b4b4b4" stroke-width="0.75" />
<line x1="456.6" y1="523.92" x2="456.6" y2="594.02" stroke="#b4b4b4" stroke-width="0.75" />
<polygon points="472.9,527.91 489.7,522.96 489.7,529.46 472.9,534.41" fill="#f1f2f1" stroke="#b4b4b4" stroke-width="0.5" />
<polygon points="476.63,527.11 480.37,526.01 480.37,531.91 476.63,533.01" fill="#e9ece9" stroke="none" stroke-width="0.6" />
<line x1="474.77" y1="527.36" x2="474.77" y2="533.86" stroke="#b4b4b4" stroke-width="0.45" />
<line x1="476.63" y1="526.81" x2="476.63" y2="533.31" stroke="#b4b4b4" stroke-width="0.45" />
<line x1="480.37" y1="525.71" x2="480.37" y2="532.21" stroke="#b4b4b4" stroke-width="0.45" />
<line x1="482.23" y1="525.16" x2="482.23" y2="531.66" stroke="#b4b4b4" stroke-width="0.45" />
<line x1="484.1" y1="524.61" x2="484.1" y2="531.11" stroke="#b4b4b4" stroke-width="0.45" />
<line x1="485.97" y1="524.06" x2="485.97" y2="530.56" stroke="#b4b4b4" stroke-width="0.45" />
<line x1="487.83" y1="523.51" x2="487.83" y2="530.01" stroke="#b4b4b4" stroke-width="0.45" />
<line x1="490.6" y1="522.7" x2="506" y2="518.16" stroke="#c4c4c4" stroke-width="0.5" />
<polygon points="472.9,546.01 489.7,541.06 489.7,547.56 472.9,552.51" fill="#f1f2f1" stroke="#b4b4b4" stroke-width="0.5" />
<polygon points="476.63,545.21 480.37,544.11 480.37,550.01 476.63,551.11" fill="#e9ece9" stroke="none" stroke-width="0.6" />
<line x1="474.77" y1="545.46" x2="474.77" y2="551.96" stroke="#b4b4b4" stroke-width="0.45" />
<line x1="476.63" y1="544.91" x2="476.63" y2="551.41" stroke="#b4b4b4" stroke-width="0.45" />
<line x1="480.37" y1="543.81" x2="480.37" y2="550.31" stroke="#b4b4b4" stroke-width="0.45" />
<line x1="482.23" y1="543.26" x2="482.23" y2="549.76" stroke="#b4b4b4" stroke-width="0.45" />
<line x1="484.1" y1="542.71" x2="484.1" y2="549.21" stroke="#b4b4b4" stroke-width="0.45" />
<line x1="485.97" y1="542.16" x2="485.97" y2="548.66" stroke="#b4b4b4" stroke-width="0.45" />
<line x1="487.83" y1="541.61" x2="487.83" y2="548.11" stroke="#b4b4b4" stroke-width="0.45" />
<line x1="490.6" y1="540.8" x2="506" y2="536.26" stroke="#c4c4c4" stroke-width="0.5" />
<polygon points="472.9,564.11 489.7,559.16 489.7,565.66 472.9,570.61" fill="#f1f2f1" stroke="#b4b4b4" stroke-width="0.5" />
<polygon points="476.63,563.31 480.37,562.21 480.37,568.11 476.63,569.21" fill="#e9ece9" stroke="none" stroke-width="0.6" />
<line x1="474.77" y1="563.56" x2="474.77" y2="570.06" stroke="#b4b4b4" stroke-width="0.45" />
<line x1="476.63" y1="563.01" x2="476.63" y2="569.51" stroke="#b4b4b4" stroke-width="0.45" />
<line x1="480.37" y1="561.91" x2="480.37" y2="568.41" stroke="#b4b4b4" stroke-width="0.45" />
<line x1="482.23" y1="561.36" x2="482.23" y2="567.86" stroke="#b4b4b4" stroke-width="0.45" />
<line x1="484.1" y1="560.81" x2="484.1" y2="567.31" stroke="#b4b4b4" stroke-width="0.45" />
<line x1="485.97" y1="560.26" x2="485.97" y2="566.76" stroke="#b4b4b4" stroke-width="0.45" />
<line x1="487.83" y1="559.71" x2="487.83" y2="566.21" stroke="#b4b4b4" stroke-width="0.45" />
<line x1="490.6" y1="558.9" x2="506" y2="554.36" stroke="#c4c4c4" stroke-width="0.5" />
<polygon points="472.9,582.21 489.7,577.26 489.7,583.76 472.9,588.71" fill="#f1f2f1" stroke="#b4b4b4" stroke-width="0.5" />
<polygon points="476.63,581.41 480.37,580.31 480.37,586.21 476.63,587.31" fill="#e9ece9" stroke="none" stroke-width="0.6" />
<line x1="474.77" y1="581.66" x2="474.77" y2="588.16" stroke="#b4b4b4" stroke-width="0.45" />
<line x1="476.63" y1="581.11" x2="476.63" y2="587.61" stroke="#b4b4b4" stroke-width="0.45" />
<line x1="480.37" y1="580.01" x2="480.37" y2="586.51" stroke="#b4b4b4" stroke-width="0.45" />
<line x1="482.23" y1="579.46" x2="482.23" y2="585.96" stroke="#b4b4b4" stroke-width="0.45" />
<line x1="484.1" y1="578.91" x2="484.1" y2="585.41" stroke="#b4b4b4" stroke-width="0.45" />
<line x1="485.97" y1="578.36" x2="485.97" y2="584.86" stroke="#b4b4b4" stroke-width="0.45" />
<line x1="487.83" y1="577.81" x2="487.83" y2="584.31" stroke="#b4b4b4" stroke-width="0.45" />
<line x1="490.6" y1="577" x2="506" y2="572.46" stroke="#c4c4c4" stroke-width="0.5" />
<line x1="472" y1="519.38" x2="472" y2="589.48" stroke="#b4b4b4" stroke-width="0.75" />
<line x1="490.6" y1="513.9" x2="490.6" y2="584" stroke="#b4b4b4" stroke-width="0.75" />
<polygon points="506.9,517.9 523.7,512.94 523.7,519.44 506.9,524.4" fill="#f1f2f1" stroke="#b4b4b4" stroke-width="0.5" />
<polygon points="516.23,515.44 519.97,514.34 519.97,520.24 516.23,521.34" fill="#e9ece9" stroke="none" stroke-width="0.6" />
<line x1="508.77" y1="517.35" x2="508.77" y2="523.85" stroke="#b4b4b4" stroke-width="0.45" />
<line x1="510.63" y1="516.79" x2="510.63" y2="523.29" stroke="#b4b4b4" stroke-width="0.45" />
<line x1="512.5" y1="516.24" x2="512.5" y2="522.74" stroke="#b4b4b4" stroke-width="0.45" />
<line x1="514.37" y1="515.69" x2="514.37" y2="522.19" stroke="#b4b4b4" stroke-width="0.45" />
<line x1="516.23" y1="515.14" x2="516.23" y2="521.64" stroke="#b4b4b4" stroke-width="0.45" />
<line x1="519.97" y1="514.04" x2="519.97" y2="520.54" stroke="#b4b4b4" stroke-width="0.45" />
<line x1="521.83" y1="513.49" x2="521.83" y2="519.99" stroke="#b4b4b4" stroke-width="0.45" />
<polygon points="506.9,536 523.7,531.04 523.7,537.54 506.9,542.5" fill="#f1f2f1" stroke="#b4b4b4" stroke-width="0.5" />
<polygon points="516.23,533.54 519.97,532.44 519.97,538.34 516.23,539.44" fill="#e9ece9" stroke="none" stroke-width="0.6" />
<line x1="508.77" y1="535.45" x2="508.77" y2="541.95" stroke="#b4b4b4" stroke-width="0.45" />
<line x1="510.63" y1="534.89" x2="510.63" y2="541.39" stroke="#b4b4b4" stroke-width="0.45" />
<line x1="512.5" y1="534.34" x2="512.5" y2="540.84" stroke="#b4b4b4" stroke-width="0.45" />
<line x1="514.37" y1="533.79" x2="514.37" y2="540.29" stroke="#b4b4b4" stroke-width="0.45" />
<line x1="516.23" y1="533.24" x2="516.23" y2="539.74" stroke="#b4b4b4" stroke-width="0.45" />
<line x1="519.97" y1="532.14" x2="519.97" y2="538.64" stroke="#b4b4b4" stroke-width="0.45" />
<line x1="521.83" y1="531.59" x2="521.83" y2="538.09" stroke="#b4b4b4" stroke-width="0.45" />
<polygon points="506.9,554.1 523.7,549.14 523.7,555.64 506.9,560.6" fill="#f1f2f1" stroke="#b4b4b4" stroke-width="0.5" />
<polygon points="516.23,551.64 519.97,550.54 519.97,556.44 516.23,557.54" fill="#e9ece9" stroke="none" stroke-width="0.6" />
<line x1="508.77" y1="553.55" x2="508.77" y2="560.05" stroke="#b4b4b4" stroke-width="0.45" />
<line x1="510.63" y1="552.99" x2="510.63" y2="559.49" stroke="#b4b4b4" stroke-width="0.45" />
<line x1="512.5" y1="552.44" x2="512.5" y2="558.94" stroke="#b4b4b4" stroke-width="0.45" />
<line x1="514.37" y1="551.89" x2="514.37" y2="558.39" stroke="#b4b4b4" stroke-width="0.45" />
<line x1="516.23" y1="551.34" x2="516.23" y2="557.84" stroke="#b4b4b4" stroke-width="0.45" />
<line x1="519.97" y1="550.24" x2="519.97" y2="556.74" stroke="#b4b4b4" stroke-width="0.45" />
<line x1="521.83" y1="549.69" x2="521.83" y2="556.19" stroke="#b4b4b4" stroke-width="0.45" />
<polygon points="506.9,572.2 523.7,567.24 523.7,573.74 506.9,578.7" fill="#f1f2f1" stroke="#b4b4b4" stroke-width="0.5" />
<polygon points="516.23,569.74 519.97,568.64 519.97,574.54 516.23,575.64" fill="#e9ece9" stroke="none" stroke-width="0.6" />
<line x1="508.77" y1="571.65" x2="508.77" y2="578.15" stroke="#b4b4b4" stroke-width="0.45" />
<line x1="510.63" y1="571.09" x2="510.63" y2="577.59" stroke="#b4b4b4" stroke-width="0.45" />
<line x1="512.5" y1="570.54" x2="512.5" y2="577.04" stroke="#b4b4b4" stroke-width="0.45" />
<line x1="514.37" y1="569.99" x2="514.37" y2="576.49" stroke="#b4b4b4" stroke-width="0.45" />
<line x1="516.23" y1="569.44" x2="516.23" y2="575.94" stroke="#b4b4b4" stroke-width="0.45" />
<line x1="519.97" y1="568.34" x2="519.97" y2="574.84" stroke="#b4b4b4" stroke-width="0.45" />
<line x1="521.83" y1="567.79" x2="521.83" y2="574.29" stroke="#b4b4b4" stroke-width="0.45" />
<line x1="506" y1="509.36" x2="506" y2="579.46" stroke="#b4b4b4" stroke-width="0.75" />
<line x1="524.6" y1="503.88" x2="524.6" y2="573.98" stroke="#b4b4b4" stroke-width="0.75" />
<polygon points="540.9,507.88 557.7,502.92 557.7,509.42 540.9,514.38" fill="#f1f2f1" stroke="#b4b4b4" stroke-width="0.5" />
<polygon points="544.63,507.08 548.37,505.97 548.37,511.87 544.63,512.98" fill="#e9ece9" stroke="none" stroke-width="0.6" />
<line x1="542.77" y1="507.33" x2="542.77" y2="513.83" stroke="#b4b4b4" stroke-width="0.45" />
<line x1="544.63" y1="506.78" x2="544.63" y2="513.28" stroke="#b4b4b4" stroke-width="0.45" />
<line x1="548.37" y1="505.67" x2="548.37" y2="512.17" stroke="#b4b4b4" stroke-width="0.45" />
<line x1="550.23" y1="505.12" x2="550.23" y2="511.62" stroke="#b4b4b4" stroke-width="0.45" />
<line x1="552.1" y1="504.57" x2="552.1" y2="511.07" stroke="#b4b4b4" stroke-width="0.45" />
<line x1="553.97" y1="504.02" x2="553.97" y2="510.52" stroke="#b4b4b4" stroke-width="0.45" />
<line x1="555.83" y1="503.47" x2="555.83" y2="509.97" stroke="#b4b4b4" stroke-width="0.45" />
<line x1="558.6" y1="502.66" x2="574" y2="498.12" stroke="#c4c4c4" stroke-width="0.5" />
<polygon points="540.9,525.98 557.7,521.02 557.7,527.52 540.9,532.48" fill="#f1f2f1" stroke="#b4b4b4" stroke-width="0.5" />
<polygon points="544.63,525.18 548.37,524.07 548.37,529.97 544.63,531.08" fill="#e9ece9" stroke="none" stroke-width="0.6" />
<line x1="542.77" y1="525.43" x2="542.77" y2="531.93" stroke="#b4b4b4" stroke-width="0.45" />
<line x1="544.63" y1="524.88" x2="544.63" y2="531.38" stroke="#b4b4b4" stroke-width="0.45" />
<line x1="548.37" y1="523.77" x2="548.37" y2="530.27" stroke="#b4b4b4" stroke-width="0.45" />
<line x1="550.23" y1="523.22" x2="550.23" y2="529.72" stroke="#b4b4b4" stroke-width="0.45" />
<line x1="552.1" y1="522.67" x2="552.1" y2="529.17" stroke="#b4b4b4" stroke-width="0.45" />
<line x1="553.97" y1="522.12" x2="553.97" y2="528.62" stroke="#b4b4b4" stroke-width="0.45" />
<line x1="555.83" y1="521.57" x2="555.83" y2="528.07" stroke="#b4b4b4" stroke-width="0.45" />
<line x1="558.6" y1="520.76" x2="574" y2="516.22" stroke="#c4c4c4" stroke-width="0.5" />
<polygon points="540.9,544.08 557.7,539.12 557.7,545.62 540.9,550.58" fill="#f1f2f1" stroke="#b4b4b4" stroke-width="0.5" />
<polygon points="544.63,543.28 548.37,542.17 548.37,548.07 544.63,549.18" fill="#e9ece9" stroke="none" stroke-width="0.6" />
<line x1="542.77" y1="543.53" x2="542.77" y2="550.03" stroke="#b4b4b4" stroke-width="0.45" />
<line x1="544.63" y1="542.98" x2="544.63" y2="549.48" stroke="#b4b4b4" stroke-width="0.45" />
<line x1="548.37" y1="541.87" x2="548.37" y2="548.37" stroke="#b4b4b4" stroke-width="0.45" />
<line x1="550.23" y1="541.32" x2="550.23" y2="547.82" stroke="#b4b4b4" stroke-width="0.45" />
<line x1="552.1" y1="540.77" x2="552.1" y2="547.27" stroke="#b4b4b4" stroke-width="0.45" />
<line x1="553.97" y1="540.22" x2="553.97" y2="546.72" stroke="#b4b4b4" stroke-width="0.45" />
<line x1="555.83" y1="539.67" x2="555.83" y2="546.17" stroke="#b4b4b4" stroke-width="0.45" />
<line x1="558.6" y1="538.86" x2="574" y2="534.32" stroke="#c4c4c4" stroke-width="0.5" />
<polygon points="540.9,562.18 557.7,557.22 557.7,563.72 540.9,568.68" fill="#f1f2f1" stroke="#b4b4b4" stroke-width="0.5" />
<polygon points="544.63,561.38 548.37,560.27 548.37,566.17 544.63,567.28" fill="#e9ece9" stroke="none" stroke-width="0.6" />
<line x1="542.77" y1="561.63" x2="542.77" y2="568.13" stroke="#b4b4b4" stroke-width="0.45" />
<line x1="544.63" y1="561.08" x2="544.63" y2="567.58" stroke="#b4b4b4" stroke-width="0.45" />
<line x1="548.37" y1="559.97" x2="548.37" y2="566.47" stroke="#b4b4b4" stroke-width="0.45" />
<line x1="550.23" y1="559.42" x2="550.23" y2="565.92" stroke="#b4b4b4" stroke-width="0.45" />
<line x1="552.1" y1="558.87" x2="552.1" y2="565.37" stroke="#b4b4b4" stroke-width="0.45" />
<line x1="553.97" y1="558.32" x2="553.97" y2="564.82" stroke="#b4b4b4" stroke-width="0.45" />
<line x1="555.83" y1="557.77" x2="555.83" y2="564.27" stroke="#b4b4b4" stroke-width="0.45" />
<line x1="558.6" y1="556.96" x2="574" y2="552.42" stroke="#c4c4c4" stroke-width="0.5" />
<line x1="540" y1="499.34" x2="540" y2="569.44" stroke="#b4b4b4" stroke-width="0.75" />
<line x1="558.6" y1="493.86" x2="558.6" y2="563.96" stroke="#b4b4b4" stroke-width="0.75" />
<polygon points="574.9,497.86 591.7,492.9 591.7,499.4 574.9,504.36" fill="#f1f2f1" stroke="#b4b4b4" stroke-width="0.5" />
<polygon points="584.23,495.41 587.97,494.3 587.97,500.2 584.23,501.31" fill="#e9ece9" stroke="none" stroke-width="0.6" />
<line x1="576.77" y1="497.31" x2="576.77" y2="503.81" stroke="#b4b4b4" stroke-width="0.45" />
<line x1="578.63" y1="496.76" x2="578.63" y2="503.26" stroke="#b4b4b4" stroke-width="0.45" />
<line x1="580.5" y1="496.21" x2="580.5" y2="502.71" stroke="#b4b4b4" stroke-width="0.45" />
<line x1="582.37" y1="495.66" x2="582.37" y2="502.16" stroke="#b4b4b4" stroke-width="0.45" />
<line x1="584.23" y1="495.11" x2="584.23" y2="501.61" stroke="#b4b4b4" stroke-width="0.45" />
<line x1="587.97" y1="494" x2="587.97" y2="500.5" stroke="#b4b4b4" stroke-width="0.45" />
<line x1="589.83" y1="493.45" x2="589.83" y2="499.95" stroke="#b4b4b4" stroke-width="0.45" />
<polygon points="574.9,515.96 591.7,511 591.7,517.5 574.9,522.46" fill="#f1f2f1" stroke="#b4b4b4" stroke-width="0.5" />
<polygon points="584.23,513.51 587.97,512.4 587.97,518.3 584.23,519.41" fill="#e9ece9" stroke="none" stroke-width="0.6" />
<line x1="576.77" y1="515.41" x2="576.77" y2="521.91" stroke="#b4b4b4" stroke-width="0.45" />
<line x1="578.63" y1="514.86" x2="578.63" y2="521.36" stroke="#b4b4b4" stroke-width="0.45" />
<line x1="580.5" y1="514.31" x2="580.5" y2="520.81" stroke="#b4b4b4" stroke-width="0.45" />
<line x1="582.37" y1="513.76" x2="582.37" y2="520.26" stroke="#b4b4b4" stroke-width="0.45" />
<line x1="584.23" y1="513.21" x2="584.23" y2="519.71" stroke="#b4b4b4" stroke-width="0.45" />
<line x1="587.97" y1="512.1" x2="587.97" y2="518.6" stroke="#b4b4b4" stroke-width="0.45" />
<line x1="589.83" y1="511.55" x2="589.83" y2="518.05" stroke="#b4b4b4" stroke-width="0.45" />
<polygon points="574.9,534.06 591.7,529.1 591.7,535.6 574.9,540.56" fill="#f1f2f1" stroke="#b4b4b4" stroke-width="0.5" />
<polygon points="584.23,531.61 587.97,530.5 587.97,536.4 584.23,537.51" fill="#e9ece9" stroke="none" stroke-width="0.6" />
<line x1="576.77" y1="533.51" x2="576.77" y2="540.01" stroke="#b4b4b4" stroke-width="0.45" />
<line x1="578.63" y1="532.96" x2="578.63" y2="539.46" stroke="#b4b4b4" stroke-width="0.45" />
<line x1="580.5" y1="532.41" x2="580.5" y2="538.91" stroke="#b4b4b4" stroke-width="0.45" />
<line x1="582.37" y1="531.86" x2="582.37" y2="538.36" stroke="#b4b4b4" stroke-width="0.45" />
<line x1="584.23" y1="531.31" x2="584.23" y2="537.81" stroke="#b4b4b4" stroke-width="0.45" />
<line x1="587.97" y1="530.2" x2="587.97" y2="536.7" stroke="#b4b4b4" stroke-width="0.45" />
<line x1="589.83" y1="529.65" x2="589.83" y2="536.15" stroke="#b4b4b4" stroke-width="0.45" />
<polygon points="574.9,552.16 591.7,547.2 591.7,553.7 574.9,558.66" fill="#f1f2f1" stroke="#b4b4b4" stroke-width="0.5" />
<polygon points="584.23,549.71 587.97,548.6 587.97,554.5 584.23,555.61" fill="#e9ece9" stroke="none" stroke-width="0.6" />
<line x1="576.77" y1="551.61" x2="576.77" y2="558.11" stroke="#b4b4b4" stroke-width="0.45" />
<line x1="578.63" y1="551.06" x2="578.63" y2="557.56" stroke="#b4b4b4" stroke-width="0.45" />
<line x1="580.5" y1="550.51" x2="580.5" y2="557.01" stroke="#b4b4b4" stroke-width="0.45" />
<line x1="582.37" y1="549.96" x2="582.37" y2="556.46" stroke="#b4b4b4" stroke-width="0.45" />
<line x1="584.23" y1="549.41" x2="584.23" y2="555.91" stroke="#b4b4b4" stroke-width="0.45" />
<line x1="587.97" y1="548.3" x2="587.97" y2="554.8" stroke="#b4b4b4" stroke-width="0.45" />
<line x1="589.83" y1="547.75" x2="589.83" y2="554.25" stroke="#b4b4b4" stroke-width="0.45" />
<line x1="574" y1="489.32" x2="574" y2="559.42" stroke="#b4b4b4" stroke-width="0.75" />
<line x1="592.6" y1="483.84" x2="592.6" y2="553.94" stroke="#b4b4b4" stroke-width="0.75" />
<polygon points="608.9,487.84 625.7,482.88 625.7,489.38 608.9,494.34" fill="#f1f2f1" stroke="#b4b4b4" stroke-width="0.5" />
<polygon points="612.63,487.04 616.37,485.94 616.37,491.84 612.63,492.94" fill="#e9ece9" stroke="none" stroke-width="0.6" />
<line x1="610.77" y1="487.29" x2="610.77" y2="493.79" stroke="#b4b4b4" stroke-width="0.45" />
<line x1="612.63" y1="486.74" x2="612.63" y2="493.24" stroke="#b4b4b4" stroke-width="0.45" />
<line x1="616.37" y1="485.64" x2="616.37" y2="492.14" stroke="#b4b4b4" stroke-width="0.45" />
<line x1="618.23" y1="485.09" x2="618.23" y2="491.59" stroke="#b4b4b4" stroke-width="0.45" />
<line x1="620.1" y1="484.54" x2="620.1" y2="491.04" stroke="#b4b4b4" stroke-width="0.45" />
<line x1="621.97" y1="483.99" x2="621.97" y2="490.49" stroke="#b4b4b4" stroke-width="0.45" />
<line x1="623.83" y1="483.43" x2="623.83" y2="489.93" stroke="#b4b4b4" stroke-width="0.45" />
<line x1="626.6" y1="482.62" x2="642" y2="478.08" stroke="#c4c4c4" stroke-width="0.5" />
<polygon points="608.9,505.94 625.7,500.98 625.7,507.48 608.9,512.44" fill="#f1f2f1" stroke="#b4b4b4" stroke-width="0.5" />
<polygon points="612.63,505.14 616.37,504.04 616.37,509.94 612.63,511.04" fill="#e9ece9" stroke="none" stroke-width="0.6" />
<line x1="610.77" y1="505.39" x2="610.77" y2="511.89" stroke="#b4b4b4" stroke-width="0.45" />
<line x1="612.63" y1="504.84" x2="612.63" y2="511.34" stroke="#b4b4b4" stroke-width="0.45" />
<line x1="616.37" y1="503.74" x2="616.37" y2="510.24" stroke="#b4b4b4" stroke-width="0.45" />
<line x1="618.23" y1="503.19" x2="618.23" y2="509.69" stroke="#b4b4b4" stroke-width="0.45" />
<line x1="620.1" y1="502.64" x2="620.1" y2="509.14" stroke="#b4b4b4" stroke-width="0.45" />
<line x1="621.97" y1="502.09" x2="621.97" y2="508.59" stroke="#b4b4b4" stroke-width="0.45" />
<line x1="623.83" y1="501.53" x2="623.83" y2="508.03" stroke="#b4b4b4" stroke-width="0.45" />
<line x1="626.6" y1="500.72" x2="642" y2="496.18" stroke="#c4c4c4" stroke-width="0.5" />
<polygon points="608.9,524.04 625.7,519.08 625.7,525.58 608.9,530.54" fill="#f1f2f1" stroke="#b4b4b4" stroke-width="0.5" />
<polygon points="612.63,523.24 616.37,522.14 616.37,528.04 612.63,529.14" fill="#e9ece9" stroke="none" stroke-width="0.6" />
<line x1="610.77" y1="523.49" x2="610.77" y2="529.99" stroke="#b4b4b4" stroke-width="0.45" />
<line x1="612.63" y1="522.94" x2="612.63" y2="529.44" stroke="#b4b4b4" stroke-width="0.45" />
<line x1="616.37" y1="521.84" x2="616.37" y2="528.34" stroke="#b4b4b4" stroke-width="0.45" />
<line x1="618.23" y1="521.29" x2="618.23" y2="527.79" stroke="#b4b4b4" stroke-width="0.45" />
<line x1="620.1" y1="520.74" x2="620.1" y2="527.24" stroke="#b4b4b4" stroke-width="0.45" />
<line x1="621.97" y1="520.19" x2="621.97" y2="526.69" stroke="#b4b4b4" stroke-width="0.45" />
<line x1="623.83" y1="519.63" x2="623.83" y2="526.13" stroke="#b4b4b4" stroke-width="0.45" />
<line x1="626.6" y1="518.82" x2="642" y2="514.28" stroke="#c4c4c4" stroke-width="0.5" />
<polygon points="608.9,542.14 625.7,537.18 625.7,543.68 608.9,548.64" fill="#f1f2f1" stroke="#b4b4b4" stroke-width="0.5" />
<polygon points="612.63,541.34 616.37,540.24 616.37,546.14 612.63,547.24" fill="#e9ece9" stroke="none" stroke-width="0.6" />
<line x1="610.77" y1="541.59" x2="610.77" y2="548.09" stroke="#b4b4b4" stroke-width="0.45" />
<line x1="612.63" y1="541.04" x2="612.63" y2="547.54" stroke="#b4b4b4" stroke-width="0.45" />
<line x1="616.37" y1="539.94" x2="616.37" y2="546.44" stroke="#b4b4b4" stroke-width="0.45" />
<line x1="618.23" y1="539.39" x2="618.23" y2="545.89" stroke="#b4b4b4" stroke-width="0.45" />
<line x1="620.1" y1="538.84" x2="620.1" y2="545.34" stroke="#b4b4b4" stroke-width="0.45" />
<line x1="621.97" y1="538.29" x2="621.97" y2="544.79" stroke="#b4b4b4" stroke-width="0.45" />
<line x1="623.83" y1="537.73" x2="623.83" y2="544.23" stroke="#b4b4b4" stroke-width="0.45" />
<line x1="626.6" y1="536.92" x2="642" y2="532.38" stroke="#c4c4c4" stroke-width="0.5" />
<line x1="608" y1="479.3" x2="608" y2="549.4" stroke="#b4b4b4" stroke-width="0.75" />
<line x1="626.6" y1="473.82" x2="626.6" y2="543.92" stroke="#b4b4b4" stroke-width="0.75" />
<polygon points="642.9,477.82 659.7,472.87 659.7,479.37 642.9,484.32" fill="#f1f2f1" stroke="#b4b4b4" stroke-width="0.5" />
<polygon points="652.23,475.37 655.97,474.27 655.97,480.17 652.23,481.27" fill="#e9ece9" stroke="none" stroke-width="0.6" />
<line x1="644.77" y1="477.27" x2="644.77" y2="483.77" stroke="#b4b4b4" stroke-width="0.45" />
<line x1="646.63" y1="476.72" x2="646.63" y2="483.22" stroke="#b4b4b4" stroke-width="0.45" />
<line x1="648.5" y1="476.17" x2="648.5" y2="482.67" stroke="#b4b4b4" stroke-width="0.45" />
<line x1="650.37" y1="475.62" x2="650.37" y2="482.12" stroke="#b4b4b4" stroke-width="0.45" />
<line x1="652.23" y1="475.07" x2="652.23" y2="481.57" stroke="#b4b4b4" stroke-width="0.45" />
<line x1="655.97" y1="473.97" x2="655.97" y2="480.47" stroke="#b4b4b4" stroke-width="0.45" />
<line x1="657.83" y1="473.42" x2="657.83" y2="479.92" stroke="#b4b4b4" stroke-width="0.45" />
<polygon points="642.9,495.92 659.7,490.97 659.7,497.47 642.9,502.42" fill="#f1f2f1" stroke="#b4b4b4" stroke-width="0.5" />
<polygon points="652.23,493.47 655.97,492.37 655.97,498.27 652.23,499.37" fill="#e9ece9" stroke="none" stroke-width="0.6" />
<line x1="644.77" y1="495.37" x2="644.77" y2="501.87" stroke="#b4b4b4" stroke-width="0.45" />
<line x1="646.63" y1="494.82" x2="646.63" y2="501.32" stroke="#b4b4b4" stroke-width="0.45" />
<line x1="648.5" y1="494.27" x2="648.5" y2="500.77" stroke="#b4b4b4" stroke-width="0.45" />
<line x1="650.37" y1="493.72" x2="650.37" y2="500.22" stroke="#b4b4b4" stroke-width="0.45" />
<line x1="652.23" y1="493.17" x2="652.23" y2="499.67" stroke="#b4b4b4" stroke-width="0.45" />
<line x1="655.97" y1="492.07" x2="655.97" y2="498.57" stroke="#b4b4b4" stroke-width="0.45" />
<line x1="657.83" y1="491.52" x2="657.83" y2="498.02" stroke="#b4b4b4" stroke-width="0.45" />
<polygon points="642.9,514.02 659.7,509.07 659.7,515.57 642.9,520.52" fill="#f1f2f1" stroke="#b4b4b4" stroke-width="0.5" />
<polygon points="652.23,511.57 655.97,510.47 655.97,516.37 652.23,517.47" fill="#e9ece9" stroke="none" stroke-width="0.6" />
<line x1="644.77" y1="513.47" x2="644.77" y2="519.97" stroke="#b4b4b4" stroke-width="0.45" />
<line x1="646.63" y1="512.92" x2="646.63" y2="519.42" stroke="#b4b4b4" stroke-width="0.45" />
<line x1="648.5" y1="512.37" x2="648.5" y2="518.87" stroke="#b4b4b4" stroke-width="0.45" />
<line x1="650.37" y1="511.82" x2="650.37" y2="518.32" stroke="#b4b4b4" stroke-width="0.45" />
<line x1="652.23" y1="511.27" x2="652.23" y2="517.77" stroke="#b4b4b4" stroke-width="0.45" />
<line x1="655.97" y1="510.17" x2="655.97" y2="516.67" stroke="#b4b4b4" stroke-width="0.45" />
<line x1="657.83" y1="509.62" x2="657.83" y2="516.12" stroke="#b4b4b4" stroke-width="0.45" />
<polygon points="642.9,532.12 659.7,527.17 659.7,533.67 642.9,538.62" fill="#f1f2f1" stroke="#b4b4b4" stroke-width="0.5" />
<polygon points="652.23,529.67 655.97,528.57 655.97,534.47 652.23,535.57" fill="#e9ece9" stroke="none" stroke-width="0.6" />
<line x1="644.77" y1="531.57" x2="644.77" y2="538.07" stroke="#b4b4b4" stroke-width="0.45" />
<line x1="646.63" y1="531.02" x2="646.63" y2="537.52" stroke="#b4b4b4" stroke-width="0.45" />
<line x1="648.5" y1="530.47" x2="648.5" y2="536.97" stroke="#b4b4b4" stroke-width="0.45" />
<line x1="650.37" y1="529.92" x2="650.37" y2="536.42" stroke="#b4b4b4" stroke-width="0.45" />
<line x1="652.23" y1="529.37" x2="652.23" y2="535.87" stroke="#b4b4b4" stroke-width="0.45" />
<line x1="655.97" y1="528.27" x2="655.97" y2="534.77" stroke="#b4b4b4" stroke-width="0.45" />
<line x1="657.83" y1="527.72" x2="657.83" y2="534.22" stroke="#b4b4b4" stroke-width="0.45" />
<line x1="642" y1="469.28" x2="642" y2="539.38" stroke="#b4b4b4" stroke-width="0.75" />
<line x1="660.6" y1="463.8" x2="660.6" y2="533.9" stroke="#b4b4b4" stroke-width="0.75" />
<polygon points="676.9,467.8 693.7,462.85 693.7,469.35 676.9,474.3" fill="#f1f2f1" stroke="#b4b4b4" stroke-width="0.5" />
<polygon points="680.63,467 684.37,465.9 684.37,471.8 680.63,472.9" fill="#e9ece9" stroke="none" stroke-width="0.6" />
<line x1="678.77" y1="467.25" x2="678.77" y2="473.75" stroke="#b4b4b4" stroke-width="0.45" />
<line x1="680.63" y1="466.7" x2="680.63" y2="473.2" stroke="#b4b4b4" stroke-width="0.45" />
<line x1="684.37" y1="465.6" x2="684.37" y2="472.1" stroke="#b4b4b4" stroke-width="0.45" />
<line x1="686.23" y1="465.05" x2="686.23" y2="471.55" stroke="#b4b4b4" stroke-width="0.45" />
<line x1="688.1" y1="464.5" x2="688.1" y2="471" stroke="#b4b4b4" stroke-width="0.45" />
<line x1="689.97" y1="463.95" x2="689.97" y2="470.45" stroke="#b4b4b4" stroke-width="0.45" />
<line x1="691.83" y1="463.4" x2="691.83" y2="469.9" stroke="#b4b4b4" stroke-width="0.45" />
<polygon points="676.9,485.9 693.7,480.95 693.7,487.45 676.9,492.4" fill="#f1f2f1" stroke="#b4b4b4" stroke-width="0.5" />
<polygon points="680.63,485.1 684.37,484 684.37,489.9 680.63,491" fill="#e9ece9" stroke="none" stroke-width="0.6" />
<line x1="678.77" y1="485.35" x2="678.77" y2="491.85" stroke="#b4b4b4" stroke-width="0.45" />
<line x1="680.63" y1="484.8" x2="680.63" y2="491.3" stroke="#b4b4b4" stroke-width="0.45" />
<line x1="684.37" y1="483.7" x2="684.37" y2="490.2" stroke="#b4b4b4" stroke-width="0.45" />
<line x1="686.23" y1="483.15" x2="686.23" y2="489.65" stroke="#b4b4b4" stroke-width="0.45" />
<line x1="688.1" y1="482.6" x2="688.1" y2="489.1" stroke="#b4b4b4" stroke-width="0.45" />
<line x1="689.97" y1="482.05" x2="689.97" y2="488.55" stroke="#b4b4b4" stroke-width="0.45" />
<line x1="691.83" y1="481.5" x2="691.83" y2="488" stroke="#b4b4b4" stroke-width="0.45" />
<polygon points="676.9,504 693.7,499.05 693.7,505.55 676.9,510.5" fill="#f1f2f1" stroke="#b4b4b4" stroke-width="0.5" />
<polygon points="680.63,503.2 684.37,502.1 684.37,508 680.63,509.1" fill="#e9ece9" stroke="none" stroke-width="0.6" />
<line x1="678.77" y1="503.45" x2="678.77" y2="509.95" stroke="#b4b4b4" stroke-width="0.45" />
<line x1="680.63" y1="502.9" x2="680.63" y2="509.4" stroke="#b4b4b4" stroke-width="0.45" />
<line x1="684.37" y1="501.8" x2="684.37" y2="508.3" stroke="#b4b4b4" stroke-width="0.45" />
<line x1="686.23" y1="501.25" x2="686.23" y2="507.75" stroke="#b4b4b4" stroke-width="0.45" />
<line x1="688.1" y1="500.7" x2="688.1" y2="507.2" stroke="#b4b4b4" stroke-width="0.45" />
<line x1="689.97" y1="500.15" x2="689.97" y2="506.65" stroke="#b4b4b4" stroke-width="0.45" />
<line x1="691.83" y1="499.6" x2="691.83" y2="506.1" stroke="#b4b4b4" stroke-width="0.45" />
<polygon points="676.9,522.1 693.7,517.15 693.7,523.65 676.9,528.6" fill="#f1f2f1" stroke="#b4b4b4" stroke-width="0.5" />
<polygon points="680.63,521.3 684.37,520.2 684.37,526.1 680.63,527.2" fill="#e9ece9" stroke="none" stroke-width="0.6" />
<line x1="678.77" y1="521.55" x2="678.77" y2="528.05" stroke="#b4b4b4" stroke-width="0.45" />
<line x1="680.63" y1="521" x2="680.63" y2="527.5" stroke="#b4b4b4" stroke-width="0.45" />
<line x1="684.37" y1="519.9" x2="684.37" y2="526.4" stroke="#b4b4b4" stroke-width="0.45" />
<line x1="686.23" y1="519.35" x2="686.23" y2="525.85" stroke="#b4b4b4" stroke-width="0.45" />
<line x1="688.1" y1="518.8" x2="688.1" y2="525.3" stroke="#b4b4b4" stroke-width="0.45" />
<line x1="689.97" y1="518.25" x2="689.97" y2="524.75" stroke="#b4b4b4" stroke-width="0.45" />
<line x1="691.83" y1="517.7" x2="691.83" y2="524.2" stroke="#b4b4b4" stroke-width="0.45" />
<line x1="676" y1="459.26" x2="676" y2="529.36" stroke="#b4b4b4" stroke-width="0.75" />
<line x1="694.6" y1="453.78" x2="694.6" y2="523.88" stroke="#b4b4b4" stroke-width="0.75" />
<polygon points="310.5,561.8 587.5,480.2 595.5,481.8 318.5,563.4" fill="#c6c6c6" stroke="#5a5a5a" stroke-width="0.55" />
<polygon points="302.3,486.2 311.5,483.49 311.5,490.39 302.3,493.1" fill="#c4c4c4" stroke="#666" stroke-width="0.55" />
<polygon points="302.3,504.1 311.5,501.39 311.5,508.29 302.3,511" fill="#c4c4c4" stroke="#666" stroke-width="0.55" />
<polygon points="302.3,522 311.5,519.29 311.5,526.19 302.3,528.9" fill="#c4c4c4" stroke="#666" stroke-width="0.55" />
<polygon points="302.3,539.9 311.5,537.19 311.5,544.09 302.3,546.8" fill="#c4c4c4" stroke="#666" stroke-width="0.55" />
<polygon points="326,479 335.2,476.29 335.2,483.19 326,485.9" fill="#c4c4c4" stroke="#666" stroke-width="0.55" />
<polygon points="326,496.9 335.2,494.19 335.2,501.09 326,503.8" fill="#c4c4c4" stroke="#666" stroke-width="0.55" />
<polygon points="326,514.8 335.2,512.09 335.2,518.99 326,521.7" fill="#c4c4c4" stroke="#666" stroke-width="0.55" />
<polygon points="326,532.7 335.2,529.99 335.2,536.89 326,539.6" fill="#c4c4c4" stroke="#666" stroke-width="0.55" />
<polygon points="372.2,466 381.4,463.29 381.4,470.19 372.2,472.9" fill="#c4c4c4" stroke="#666" stroke-width="0.55" />
<polygon points="372.2,483.9 381.4,481.19 381.4,488.09 372.2,490.8" fill="#c4c4c4" stroke="#666" stroke-width="0.55" />
<polygon points="372.2,501.8 381.4,499.09 381.4,505.99 372.2,508.7" fill="#c4c4c4" stroke="#666" stroke-width="0.55" />
<polygon points="372.2,519.7 381.4,516.99 381.4,523.89 372.2,526.6" fill="#c4c4c4" stroke="#666" stroke-width="0.55" />
<polygon points="395.4,459.4 404.6,456.69 404.6,463.59 395.4,466.3" fill="#c4c4c4" stroke="#666" stroke-width="0.55" />
<polygon points="395.4,477.3 404.6,474.59 404.6,481.49 395.4,484.2" fill="#c4c4c4" stroke="#666" stroke-width="0.55" />
<polygon points="395.4,495.2 404.6,492.49 404.6,499.39 395.4,502.1" fill="#c4c4c4" stroke="#666" stroke-width="0.55" />
<polygon points="395.4,513.1 404.6,510.39 404.6,517.29 395.4,520" fill="#c4c4c4" stroke="#666" stroke-width="0.55" />
<polygon points="439.6,446.4 448.8,443.69 448.8,450.59 439.6,453.3" fill="#c4c4c4" stroke="#666" stroke-width="0.55" />
<polygon points="439.6,464.3 448.8,461.59 448.8,468.49 439.6,471.2" fill="#c4c4c4" stroke="#666" stroke-width="0.55" />
<polygon points="439.6,482.2 448.8,479.49 448.8,486.39 439.6,489.1" fill="#c4c4c4" stroke="#666" stroke-width="0.55" />
<polygon points="439.6,500.1 448.8,497.39 448.8,504.29 439.6,507" fill="#c4c4c4" stroke="#666" stroke-width="0.55" />
<polygon points="463.3,439 472.5,436.29 472.5,443.19 463.3,445.9" fill="#c4c4c4" stroke="#666" stroke-width="0.55" />
<polygon points="463.3,456.9 472.5,454.19 472.5,461.09 463.3,463.8" fill="#c4c4c4" stroke="#666" stroke-width="0.55" />
<polygon points="463.3,474.8 472.5,472.09 472.5,478.99 463.3,481.7" fill="#c4c4c4" stroke="#666" stroke-width="0.55" />
<polygon points="463.3,492.7 472.5,489.99 472.5,496.89 463.3,499.6" fill="#c4c4c4" stroke="#666" stroke-width="0.55" />
<polygon points="508.9,425.6 518.1,422.89 518.1,429.79 508.9,432.5" fill="#c4c4c4" stroke="#666" stroke-width="0.55" />
<polygon points="508.9,443.5 518.1,440.79 518.1,447.69 508.9,450.4" fill="#c4c4c4" stroke="#666" stroke-width="0.55" />
<polygon points="508.9,461.4 518.1,458.69 518.1,465.59 508.9,468.3" fill="#c4c4c4" stroke="#666" stroke-width="0.55" />
<polygon points="508.9,479.3 518.1,476.59 518.1,483.49 508.9,486.2" fill="#c4c4c4" stroke="#666" stroke-width="0.55" />
<polygon points="532.5,419 541.7,416.29 541.7,423.19 532.5,425.9" fill="#c4c4c4" stroke="#666" stroke-width="0.55" />
<polygon points="532.5,436.9 541.7,434.19 541.7,441.09 532.5,443.8" fill="#c4c4c4" stroke="#666" stroke-width="0.55" />
<polygon points="532.5,454.8 541.7,452.09 541.7,458.99 532.5,461.7" fill="#c4c4c4" stroke="#666" stroke-width="0.55" />
<polygon points="532.5,472.7 541.7,469.99 541.7,476.89 532.5,479.6" fill="#c4c4c4" stroke="#666" stroke-width="0.55" />
<polygon points="288.3,551.2 299.7,547.84 299.7,553.24 288.3,556.6" fill="#c6c6c6" stroke="#666" stroke-width="0.5" />
<polygon points="302.3,546.2 315.4,542.34 315.4,547.64 302.3,551.5" fill="#c6c6c6" stroke="#666" stroke-width="0.5" />
<polygon points="322.3,540.8 334.6,537.18 334.6,542.58 322.3,546.2" fill="#c6c6c6" stroke="#666" stroke-width="0.5" />
<polygon points="338.5,536.2 349.5,532.96 349.5,538.36 338.5,541.6" fill="#c6c6c6" stroke="#666" stroke-width="0.5" />
<polygon points="356.5,531.2 368.5,527.66 368.5,533.06 356.5,536.6" fill="#c6c6c6" stroke="#666" stroke-width="0.5" />
<polygon points="431.6,512.47 435.7,511.26 435.7,516.66 431.6,517.87" fill="#c4c4c4" stroke="#666" stroke-width="0.5" />
<polygon points="499.5,492.07 503.6,490.86 503.6,496.26 499.5,497.47" fill="#c4c4c4" stroke="#666" stroke-width="0.5" />
<polygon points="567.6,471.67 571.7,470.46 571.7,475.86 567.6,477.07" fill="#c4c4c4" stroke="#666" stroke-width="0.5" />
<polygon points="371.35,510.5 383.25,506.99 383.25,520.39 371.35,523.9" fill="#7c7c7c" stroke="#484848" stroke-width="0.5" />
<polygon points="372.05,510.99 376.85,509.58 376.85,521.58 372.05,522.99" fill="#a3d8f4" stroke="none" stroke-width="0" />
<polygon points="377.75,509.31 382.55,507.9 382.55,519.9 377.75,521.31" fill="#a3d8f4" stroke="none" stroke-width="0" />
<polygon points="371.35,528.5 383.25,524.99 383.25,538.39 371.35,541.9" fill="#7c7c7c" stroke="#484848" stroke-width="0.5" />
<polygon points="372.05,528.99 376.85,527.58 376.85,539.58 372.05,540.99" fill="#a3d8f4" stroke="none" stroke-width="0" />
<polygon points="377.75,527.31 382.55,525.9 382.55,537.9 377.75,539.31" fill="#a3d8f4" stroke="none" stroke-width="0" />
<polygon points="371.35,546.5 383.25,542.99 383.25,556.39 371.35,559.9" fill="#7c7c7c" stroke="#484848" stroke-width="0.5" />
<polygon points="372.05,546.99 376.85,545.58 376.85,557.58 372.05,558.99" fill="#a3d8f4" stroke="none" stroke-width="0" />
<polygon points="377.75,545.31 382.55,543.9 382.55,555.9 377.75,557.31" fill="#a3d8f4" stroke="none" stroke-width="0" />
<polygon points="371.35,564.5 383.25,560.99 383.25,574.39 371.35,577.9" fill="#7c7c7c" stroke="#484848" stroke-width="0.5" />
<polygon points="372.05,564.99 376.85,563.58 376.85,575.58 372.05,576.99" fill="#a3d8f4" stroke="none" stroke-width="0" />
<polygon points="377.75,563.31 382.55,561.9 382.55,573.9 377.75,575.31" fill="#a3d8f4" stroke="none" stroke-width="0" />
<polygon points="419.95,496.2 431.85,492.69 431.85,506.09 419.95,509.6" fill="#7c7c7c" stroke="#484848" stroke-width="0.5" />
<polygon points="420.65,496.69 425.45,495.28 425.45,507.28 420.65,508.69" fill="#a3d8f4" stroke="none" stroke-width="0" />
<polygon points="426.35,495.01 431.15,493.6 431.15,505.6 426.35,507.01" fill="#a3d8f4" stroke="none" stroke-width="0" />
<polygon points="419.95,514.2 431.85,510.69 431.85,524.09 419.95,527.6" fill="#7c7c7c" stroke="#484848" stroke-width="0.5" />
<polygon points="420.65,514.69 425.45,513.28 425.45,525.28 420.65,526.69" fill="#a3d8f4" stroke="none" stroke-width="0" />
<polygon points="426.35,513.01 431.15,511.6 431.15,523.6 426.35,525.01" fill="#a3d8f4" stroke="none" stroke-width="0" />
<polygon points="419.95,532.2 431.85,528.69 431.85,542.09 419.95,545.6" fill="#7c7c7c" stroke="#484848" stroke-width="0.5" />
<polygon points="420.65,532.69 425.45,531.28 425.45,543.28 420.65,544.69" fill="#a3d8f4" stroke="none" stroke-width="0" />
<polygon points="426.35,531.01 431.15,529.6 431.15,541.6 426.35,543.01" fill="#a3d8f4" stroke="none" stroke-width="0" />
<polygon points="419.95,550.2 431.85,546.69 431.85,560.09 419.95,563.6" fill="#7c7c7c" stroke="#484848" stroke-width="0.5" />
<polygon points="420.65,550.69 425.45,549.28 425.45,561.28 420.65,562.69" fill="#a3d8f4" stroke="none" stroke-width="0" />
<polygon points="426.35,549.01 431.15,547.6 431.15,559.6 426.35,561.01" fill="#a3d8f4" stroke="none" stroke-width="0" />
<polygon points="439.15,490.6 451.05,487.09 451.05,500.49 439.15,504" fill="#7c7c7c" stroke="#484848" stroke-width="0.5" />
<polygon points="439.85,491.09 444.65,489.68 444.65,501.68 439.85,503.09" fill="#a3d8f4" stroke="none" stroke-width="0" />
<polygon points="445.55,489.41 450.35,488 450.35,500 445.55,501.41" fill="#a3d8f4" stroke="none" stroke-width="0" />
<polygon points="439.15,508.6 451.05,505.09 451.05,518.49 439.15,522" fill="#7c7c7c" stroke="#484848" stroke-width="0.5" />
<polygon points="439.85,509.09 444.65,507.68 444.65,519.68 439.85,521.09" fill="#a3d8f4" stroke="none" stroke-width="0" />
<polygon points="445.55,507.41 450.35,506 450.35,518 445.55,519.41" fill="#a3d8f4" stroke="none" stroke-width="0" />
<polygon points="439.15,526.6 451.05,523.09 451.05,536.49 439.15,540" fill="#7c7c7c" stroke="#484848" stroke-width="0.5" />
<polygon points="439.85,527.09 444.65,525.68 444.65,537.68 439.85,539.09" fill="#a3d8f4" stroke="none" stroke-width="0" />
<polygon points="445.55,525.41 450.35,524 450.35,536 445.55,537.41" fill="#a3d8f4" stroke="none" stroke-width="0" />
<polygon points="439.15,544.6 451.05,541.09 451.05,554.49 439.15,558" fill="#7c7c7c" stroke="#484848" stroke-width="0.5" />
<polygon points="439.85,545.09 444.65,543.68 444.65,555.68 439.85,557.09" fill="#a3d8f4" stroke="none" stroke-width="0" />
<polygon points="445.55,543.41 450.35,542 450.35,554 445.55,555.41" fill="#a3d8f4" stroke="none" stroke-width="0" />
<polygon points="487.85,475.8 499.75,472.29 499.75,485.69 487.85,489.2" fill="#7c7c7c" stroke="#484848" stroke-width="0.5" />
<polygon points="488.55,476.29 493.35,474.88 493.35,486.88 488.55,488.29" fill="#a3d8f4" stroke="none" stroke-width="0" />
<polygon points="494.25,474.61 499.05,473.2 499.05,485.2 494.25,486.61" fill="#a3d8f4" stroke="none" stroke-width="0" />
<polygon points="487.85,493.8 499.75,490.29 499.75,503.69 487.85,507.2" fill="#7c7c7c" stroke="#484848" stroke-width="0.5" />
<polygon points="488.55,494.29 493.35,492.88 493.35,504.88 488.55,506.29" fill="#a3d8f4" stroke="none" stroke-width="0" />
<polygon points="494.25,492.61 499.05,491.2 499.05,503.2 494.25,504.61" fill="#a3d8f4" stroke="none" stroke-width="0" />
<polygon points="487.85,511.8 499.75,508.29 499.75,521.69 487.85,525.2" fill="#7c7c7c" stroke="#484848" stroke-width="0.5" />
<polygon points="488.55,512.29 493.35,510.88 493.35,522.88 488.55,524.29" fill="#a3d8f4" stroke="none" stroke-width="0" />
<polygon points="494.25,510.61 499.05,509.2 499.05,521.2 494.25,522.61" fill="#a3d8f4" stroke="none" stroke-width="0" />
<polygon points="487.85,529.8 499.75,526.29 499.75,539.69 487.85,543.2" fill="#7c7c7c" stroke="#484848" stroke-width="0.5" />
<polygon points="488.55,530.29 493.35,528.88 493.35,540.88 488.55,542.29" fill="#a3d8f4" stroke="none" stroke-width="0" />
<polygon points="494.25,528.61 499.05,527.2 499.05,539.2 494.25,540.61" fill="#a3d8f4" stroke="none" stroke-width="0" />
<polygon points="506.45,470.4 518.35,466.89 518.35,480.29 506.45,483.8" fill="#7c7c7c" stroke="#484848" stroke-width="0.5" />
<polygon points="507.15,470.89 511.95,469.48 511.95,481.48 507.15,482.89" fill="#a3d8f4" stroke="none" stroke-width="0" />
<polygon points="512.85,469.21 517.65,467.8 517.65,479.8 512.85,481.21" fill="#a3d8f4" stroke="none" stroke-width="0" />
<polygon points="506.45,488.4 518.35,484.89 518.35,498.29 506.45,501.8" fill="#7c7c7c" stroke="#484848" stroke-width="0.5" />
<polygon points="507.15,488.89 511.95,487.48 511.95,499.48 507.15,500.89" fill="#a3d8f4" stroke="none" stroke-width="0" />
<polygon points="512.85,487.21 517.65,485.8 517.65,497.8 512.85,499.21" fill="#a3d8f4" stroke="none" stroke-width="0" />
<polygon points="506.45,506.4 518.35,502.89 518.35,516.29 506.45,519.8" fill="#7c7c7c" stroke="#484848" stroke-width="0.5" />
<polygon points="507.15,506.89 511.95,505.48 511.95,517.48 507.15,518.89" fill="#a3d8f4" stroke="none" stroke-width="0" />
<polygon points="512.85,505.21 517.65,503.8 517.65,515.8 512.85,517.21" fill="#a3d8f4" stroke="none" stroke-width="0" />
<polygon points="506.45,524.4 518.35,520.89 518.35,534.29 506.45,537.8" fill="#7c7c7c" stroke="#484848" stroke-width="0.5" />
<polygon points="507.15,524.89 511.95,523.48 511.95,535.48 507.15,536.89" fill="#a3d8f4" stroke="none" stroke-width="0" />
<polygon points="512.85,523.21 517.65,521.8 517.65,533.8 512.85,535.21" fill="#a3d8f4" stroke="none" stroke-width="0" />
<polygon points="555.95,455.4 567.85,451.89 567.85,465.29 555.95,468.8" fill="#7c7c7c" stroke="#484848" stroke-width="0.5" />
<polygon points="556.65,455.89 561.45,454.48 561.45,466.48 556.65,467.89" fill="#a3d8f4" stroke="none" stroke-width="0" />
<polygon points="562.35,454.21 567.15,452.8 567.15,464.8 562.35,466.21" fill="#a3d8f4" stroke="none" stroke-width="0" />
<polygon points="555.95,473.4 567.85,469.89 567.85,483.29 555.95,486.8" fill="#7c7c7c" stroke="#484848" stroke-width="0.5" />
<polygon points="556.65,473.89 561.45,472.48 561.45,484.48 556.65,485.89" fill="#a3d8f4" stroke="none" stroke-width="0" />
<polygon points="562.35,472.21 567.15,470.8 567.15,482.8 562.35,484.21" fill="#a3d8f4" stroke="none" stroke-width="0" />
<polygon points="555.95,491.4 567.85,487.89 567.85,501.29 555.95,504.8" fill="#7c7c7c" stroke="#484848" stroke-width="0.5" />
<polygon points="556.65,491.89 561.45,490.48 561.45,502.48 556.65,503.89" fill="#a3d8f4" stroke="none" stroke-width="0" />
<polygon points="562.35,490.21 567.15,488.8 567.15,500.8 562.35,502.21" fill="#a3d8f4" stroke="none" stroke-width="0" />
<polygon points="555.95,509.4 567.85,505.89 567.85,519.29 555.95,522.8" fill="#7c7c7c" stroke="#484848" stroke-width="0.5" />
<polygon points="556.65,509.89 561.45,508.48 561.45,520.48 556.65,521.89" fill="#a3d8f4" stroke="none" stroke-width="0" />
<polygon points="562.35,508.21 567.15,506.8 567.15,518.8 562.35,520.21" fill="#a3d8f4" stroke="none" stroke-width="0" />
<polygon points="574.65,449.8 586.55,446.29 586.55,459.69 574.65,463.2" fill="#7c7c7c" stroke="#484848" stroke-width="0.5" />
<polygon points="575.35,450.29 580.15,448.88 580.15,460.88 575.35,462.29" fill="#a3d8f4" stroke="none" stroke-width="0" />
<polygon points="581.05,448.61 585.85,447.2 585.85,459.2 581.05,460.61" fill="#a3d8f4" stroke="none" stroke-width="0" />
<polygon points="574.65,467.8 586.55,464.29 586.55,477.69 574.65,481.2" fill="#7c7c7c" stroke="#484848" stroke-width="0.5" />
<polygon points="575.35,468.29 580.15,466.88 580.15,478.88 575.35,480.29" fill="#a3d8f4" stroke="none" stroke-width="0" />
<polygon points="581.05,466.61 585.85,465.2 585.85,477.2 581.05,478.61" fill="#a3d8f4" stroke="none" stroke-width="0" />
<polygon points="574.65,485.8 586.55,482.29 586.55,495.69 574.65,499.2" fill="#7c7c7c" stroke="#484848" stroke-width="0.5" />
<polygon points="575.35,486.29 580.15,484.88 580.15,496.88 575.35,498.29" fill="#a3d8f4" stroke="none" stroke-width="0" />
<polygon points="581.05,484.61 585.85,483.2 585.85,495.2 581.05,496.61" fill="#a3d8f4" stroke="none" stroke-width="0" />
<polygon points="574.65,503.8 586.55,500.29 586.55,513.69 574.65,517.2" fill="#7c7c7c" stroke="#484848" stroke-width="0.5" />
<polygon points="575.35,504.29 580.15,502.88 580.15,514.88 575.35,516.29" fill="#a3d8f4" stroke="none" stroke-width="0" />
<polygon points="581.05,502.61 585.85,501.2 585.85,513.2 581.05,514.61" fill="#a3d8f4" stroke="none" stroke-width="0" />
<polygon points="623.65,435.2 635.55,431.69 635.55,445.09 623.65,448.6" fill="#7c7c7c" stroke="#484848" stroke-width="0.5" />
<polygon points="624.35,435.69 629.15,434.28 629.15,446.28 624.35,447.69" fill="#a3d8f4" stroke="none" stroke-width="0" />
<polygon points="630.05,434.01 634.85,432.6 634.85,444.6 630.05,446.01" fill="#a3d8f4" stroke="none" stroke-width="0" />
<polygon points="623.65,453.2 635.55,449.69 635.55,463.09 623.65,466.6" fill="#7c7c7c" stroke="#484848" stroke-width="0.5" />
<polygon points="624.35,453.69 629.15,452.28 629.15,464.28 624.35,465.69" fill="#a3d8f4" stroke="none" stroke-width="0" />
<polygon points="630.05,452.01 634.85,450.6 634.85,462.6 630.05,464.01" fill="#a3d8f4" stroke="none" stroke-width="0" />
<polygon points="623.65,471.2 635.55,467.69 635.55,481.09 623.65,484.6" fill="#7c7c7c" stroke="#484848" stroke-width="0.5" />
<polygon points="624.35,471.69 629.15,470.28 629.15,482.28 624.35,483.69" fill="#a3d8f4" stroke="none" stroke-width="0" />
<polygon points="630.05,470.01 634.85,468.6 634.85,480.6 630.05,482.01" fill="#a3d8f4" stroke="none" stroke-width="0" />
<polygon points="623.65,489.2 635.55,485.69 635.55,499.09 623.65,502.6" fill="#7c7c7c" stroke="#484848" stroke-width="0.5" />
<polygon points="624.35,489.69 629.15,488.28 629.15,500.28 624.35,501.69" fill="#a3d8f4" stroke="none" stroke-width="0" />
<polygon points="630.05,488.01 634.85,486.6 634.85,498.6 630.05,500.01" fill="#a3d8f4" stroke="none" stroke-width="0" />
<polygon points="407.1,517.69 409.1,517.1 409.1,521.7 407.1,522.29" fill="#c4c4c4" stroke="#666" stroke-width="0.5" />
<polygon points="475.4,497.29 477.4,496.7 477.4,501.3 475.4,501.89" fill="#c4c4c4" stroke="#666" stroke-width="0.5" />
<polygon points="543.1,477.09 545.1,476.5 545.1,481.1 543.1,481.69" fill="#c4c4c4" stroke="#666" stroke-width="0.5" />
<polygon points="385.6,506 394.3,503.44 394.3,508.64 385.6,511.2" fill="#666" stroke="#3c3c3c" stroke-width="0.5" />
<polygon points="386.4,506.56 389.55,505.64 389.55,509.24 386.4,510.16" fill="#a3d8f4" stroke="none" stroke-width="0" />
<polygon points="390.35,505.4 393.5,504.47 393.5,508.07 390.35,509" fill="#a3d8f4" stroke="none" stroke-width="0" />
<polygon points="385.6,524 394.3,521.44 394.3,526.64 385.6,529.2" fill="#666" stroke="#3c3c3c" stroke-width="0.5" />
<polygon points="386.4,524.56 389.55,523.64 389.55,527.24 386.4,528.16" fill="#a3d8f4" stroke="none" stroke-width="0" />
<polygon points="390.35,523.4 393.5,522.47 393.5,526.07 390.35,527" fill="#a3d8f4" stroke="none" stroke-width="0" />
<polygon points="385.6,542 394.3,539.44 394.3,544.64 385.6,547.2" fill="#666" stroke="#3c3c3c" stroke-width="0.5" />
<polygon points="386.4,542.56 389.55,541.64 389.55,545.24 386.4,546.16" fill="#a3d8f4" stroke="none" stroke-width="0" />
<polygon points="390.35,541.4 393.5,540.47 393.5,544.07 390.35,545" fill="#a3d8f4" stroke="none" stroke-width="0" />
<polygon points="385.6,560 394.3,557.44 394.3,562.64 385.6,565.2" fill="#666" stroke="#3c3c3c" stroke-width="0.5" />
<polygon points="386.4,560.56 389.55,559.64 389.55,563.24 386.4,564.16" fill="#a3d8f4" stroke="none" stroke-width="0" />
<polygon points="390.35,559.4 393.5,558.47 393.5,562.07 390.35,563" fill="#a3d8f4" stroke="none" stroke-width="0" />
<polygon points="409.1,499 417.8,496.44 417.8,501.64 409.1,504.2" fill="#666" stroke="#3c3c3c" stroke-width="0.5" />
<polygon points="409.9,499.56 413.05,498.64 413.05,502.24 409.9,503.16" fill="#a3d8f4" stroke="none" stroke-width="0" />
<polygon points="413.85,498.4 417,497.47 417,501.07 413.85,502" fill="#a3d8f4" stroke="none" stroke-width="0" />
<polygon points="409.1,517 417.8,514.44 417.8,519.64 409.1,522.2" fill="#666" stroke="#3c3c3c" stroke-width="0.5" />
<polygon points="409.9,517.56 413.05,516.64 413.05,520.24 409.9,521.16" fill="#a3d8f4" stroke="none" stroke-width="0" />
<polygon points="413.85,516.4 417,515.47 417,519.07 413.85,520" fill="#a3d8f4" stroke="none" stroke-width="0" />
<polygon points="409.1,535 417.8,532.44 417.8,537.64 409.1,540.2" fill="#666" stroke="#3c3c3c" stroke-width="0.5" />
<polygon points="409.9,535.56 413.05,534.64 413.05,538.24 409.9,539.16" fill="#a3d8f4" stroke="none" stroke-width="0" />
<polygon points="413.85,534.4 417,533.47 417,537.07 413.85,538" fill="#a3d8f4" stroke="none" stroke-width="0" />
<polygon points="409.1,553 417.8,550.44 417.8,555.64 409.1,558.2" fill="#666" stroke="#3c3c3c" stroke-width="0.5" />
<polygon points="409.9,553.56 413.05,552.64 413.05,556.24 409.9,557.16" fill="#a3d8f4" stroke="none" stroke-width="0" />
<polygon points="413.85,552.4 417,551.47 417,555.07 413.85,556" fill="#a3d8f4" stroke="none" stroke-width="0" />
<polygon points="453.6,485.6 462.3,483.04 462.3,488.24 453.6,490.8" fill="#666" stroke="#3c3c3c" stroke-width="0.5" />
<polygon points="454.4,486.16 457.55,485.24 457.55,488.84 454.4,489.76" fill="#a3d8f4" stroke="none" stroke-width="0" />
<polygon points="458.35,485 461.5,484.07 461.5,487.67 458.35,488.6" fill="#a3d8f4" stroke="none" stroke-width="0" />
<polygon points="453.6,503.6 462.3,501.04 462.3,506.24 453.6,508.8" fill="#666" stroke="#3c3c3c" stroke-width="0.5" />
<polygon points="454.4,504.16 457.55,503.24 457.55,506.84 454.4,507.76" fill="#a3d8f4" stroke="none" stroke-width="0" />
<polygon points="458.35,503 461.5,502.07 461.5,505.67 458.35,506.6" fill="#a3d8f4" stroke="none" stroke-width="0" />
<polygon points="453.6,521.6 462.3,519.04 462.3,524.24 453.6,526.8" fill="#666" stroke="#3c3c3c" stroke-width="0.5" />
<polygon points="454.4,522.16 457.55,521.24 457.55,524.84 454.4,525.76" fill="#a3d8f4" stroke="none" stroke-width="0" />
<polygon points="458.35,521 461.5,520.07 461.5,523.67 458.35,524.6" fill="#a3d8f4" stroke="none" stroke-width="0" />
<polygon points="453.6,539.6 462.3,537.04 462.3,542.24 453.6,544.8" fill="#666" stroke="#3c3c3c" stroke-width="0.5" />
<polygon points="454.4,540.16 457.55,539.24 457.55,542.84 454.4,543.76" fill="#a3d8f4" stroke="none" stroke-width="0" />
<polygon points="458.35,539 461.5,538.07 461.5,541.67 458.35,542.6" fill="#a3d8f4" stroke="none" stroke-width="0" />
<polygon points="477.4,478.6 486.1,476.04 486.1,481.24 477.4,483.8" fill="#666" stroke="#3c3c3c" stroke-width="0.5" />
<polygon points="478.2,479.16 481.35,478.24 481.35,481.84 478.2,482.76" fill="#a3d8f4" stroke="none" stroke-width="0" />
<polygon points="482.15,478 485.3,477.07 485.3,480.67 482.15,481.6" fill="#a3d8f4" stroke="none" stroke-width="0" />
<polygon points="477.4,496.6 486.1,494.04 486.1,499.24 477.4,501.8" fill="#666" stroke="#3c3c3c" stroke-width="0.5" />
<polygon points="478.2,497.16 481.35,496.24 481.35,499.84 478.2,500.76" fill="#a3d8f4" stroke="none" stroke-width="0" />
<polygon points="482.15,496 485.3,495.07 485.3,498.67 482.15,499.6" fill="#a3d8f4" stroke="none" stroke-width="0" />
<polygon points="477.4,514.6 486.1,512.04 486.1,517.24 477.4,519.8" fill="#666" stroke="#3c3c3c" stroke-width="0.5" />
<polygon points="478.2,515.16 481.35,514.24 481.35,517.84 478.2,518.76" fill="#a3d8f4" stroke="none" stroke-width="0" />
<polygon points="482.15,514 485.3,513.07 485.3,516.67 482.15,517.6" fill="#a3d8f4" stroke="none" stroke-width="0" />
<polygon points="477.4,532.6 486.1,530.04 486.1,535.24 477.4,537.8" fill="#666" stroke="#3c3c3c" stroke-width="0.5" />
<polygon points="478.2,533.16 481.35,532.24 481.35,535.84 478.2,536.76" fill="#a3d8f4" stroke="none" stroke-width="0" />
<polygon points="482.15,532 485.3,531.07 485.3,534.67 482.15,535.6" fill="#a3d8f4" stroke="none" stroke-width="0" />
<polygon points="521.7,465.4 530.4,462.84 530.4,468.04 521.7,470.6" fill="#666" stroke="#3c3c3c" stroke-width="0.5" />
<polygon points="522.5,465.96 525.65,465.04 525.65,468.64 522.5,469.56" fill="#a3d8f4" stroke="none" stroke-width="0" />
<polygon points="526.45,464.8 529.6,463.87 529.6,467.47 526.45,468.4" fill="#a3d8f4" stroke="none" stroke-width="0" />
<polygon points="521.7,483.4 530.4,480.84 530.4,486.04 521.7,488.6" fill="#666" stroke="#3c3c3c" stroke-width="0.5" />
<polygon points="522.5,483.96 525.65,483.04 525.65,486.64 522.5,487.56" fill="#a3d8f4" stroke="none" stroke-width="0" />
<polygon points="526.45,482.8 529.6,481.87 529.6,485.47 526.45,486.4" fill="#a3d8f4" stroke="none" stroke-width="0" />
<polygon points="521.7,501.4 530.4,498.84 530.4,504.04 521.7,506.6" fill="#666" stroke="#3c3c3c" stroke-width="0.5" />
<polygon points="522.5,501.96 525.65,501.04 525.65,504.64 522.5,505.56" fill="#a3d8f4" stroke="none" stroke-width="0" />
<polygon points="526.45,500.8 529.6,499.87 529.6,503.47 526.45,504.4" fill="#a3d8f4" stroke="none" stroke-width="0" />
<polygon points="521.7,519.4 530.4,516.84 530.4,522.04 521.7,524.6" fill="#666" stroke="#3c3c3c" stroke-width="0.5" />
<polygon points="522.5,519.96 525.65,519.04 525.65,522.64 522.5,523.56" fill="#a3d8f4" stroke="none" stroke-width="0" />
<polygon points="526.45,518.8 529.6,517.87 529.6,521.47 526.45,522.4" fill="#a3d8f4" stroke="none" stroke-width="0" />
<polygon points="545.1,458.4 553.8,455.84 553.8,461.04 545.1,463.6" fill="#666" stroke="#3c3c3c" stroke-width="0.5" />
<polygon points="545.9,458.96 549.05,458.04 549.05,461.64 545.9,462.56" fill="#a3d8f4" stroke="none" stroke-width="0" />
<polygon points="549.85,457.8 553,456.87 553,460.47 549.85,461.4" fill="#a3d8f4" stroke="none" stroke-width="0" />
<polygon points="545.1,476.4 553.8,473.84 553.8,479.04 545.1,481.6" fill="#666" stroke="#3c3c3c" stroke-width="0.5" />
<polygon points="545.9,476.96 549.05,476.04 549.05,479.64 545.9,480.56" fill="#a3d8f4" stroke="none" stroke-width="0" />
<polygon points="549.85,475.8 553,474.87 553,478.47 549.85,479.4" fill="#a3d8f4" stroke="none" stroke-width="0" />
<polygon points="545.1,494.4 553.8,491.84 553.8,497.04 545.1,499.6" fill="#666" stroke="#3c3c3c" stroke-width="0.5" />
<polygon points="545.9,494.96 549.05,494.04 549.05,497.64 545.9,498.56" fill="#a3d8f4" stroke="none" stroke-width="0" />
<polygon points="549.85,493.8 553,492.87 553,496.47 549.85,497.4" fill="#a3d8f4" stroke="none" stroke-width="0" />
<polygon points="545.1,512.4 553.8,509.84 553.8,515.04 545.1,517.6" fill="#666" stroke="#3c3c3c" stroke-width="0.5" />
<polygon points="545.9,512.96 549.05,512.04 549.05,515.64 545.9,516.56" fill="#a3d8f4" stroke="none" stroke-width="0" />
<polygon points="549.85,511.8 553,510.87 553,514.47 549.85,515.4" fill="#a3d8f4" stroke="none" stroke-width="0" />
<polygon points="589.4,445.2 598.1,442.64 598.1,447.84 589.4,450.4" fill="#666" stroke="#3c3c3c" stroke-width="0.5" />
<polygon points="590.2,445.76 593.35,444.84 593.35,448.44 590.2,449.36" fill="#a3d8f4" stroke="none" stroke-width="0" />
<polygon points="594.15,444.6 597.3,443.67 597.3,447.27 594.15,448.2" fill="#a3d8f4" stroke="none" stroke-width="0" />
<polygon points="589.4,463.2 598.1,460.64 598.1,465.84 589.4,468.4" fill="#666" stroke="#3c3c3c" stroke-width="0.5" />
<polygon points="590.2,463.76 593.35,462.84 593.35,466.44 590.2,467.36" fill="#a3d8f4" stroke="none" stroke-width="0" />
<polygon points="594.15,462.6 597.3,461.67 597.3,465.27 594.15,466.2" fill="#a3d8f4" stroke="none" stroke-width="0" />
<polygon points="589.4,481.2 598.1,478.64 598.1,483.84 589.4,486.4" fill="#666" stroke="#3c3c3c" stroke-width="0.5" />
<polygon points="590.2,481.76 593.35,480.84 593.35,484.44 590.2,485.36" fill="#a3d8f4" stroke="none" stroke-width="0" />
<polygon points="594.15,480.6 597.3,479.67 597.3,483.27 594.15,484.2" fill="#a3d8f4" stroke="none" stroke-width="0" />
<polygon points="589.4,499.2 598.1,496.64 598.1,501.84 589.4,504.4" fill="#666" stroke="#3c3c3c" stroke-width="0.5" />
<polygon points="590.2,499.76 593.35,498.84 593.35,502.44 590.2,503.36" fill="#a3d8f4" stroke="none" stroke-width="0" />
<polygon points="594.15,498.6 597.3,497.67 597.3,501.27 594.15,502.2" fill="#a3d8f4" stroke="none" stroke-width="0" />
<polygon points="612.6,438.2 621.3,435.64 621.3,440.84 612.6,443.4" fill="#666" stroke="#3c3c3c" stroke-width="0.5" />
<polygon points="613.4,438.76 616.55,437.84 616.55,441.44 613.4,442.36" fill="#a3d8f4" stroke="none" stroke-width="0" />
<polygon points="617.35,437.6 620.5,436.67 620.5,440.27 617.35,441.2" fill="#a3d8f4" stroke="none" stroke-width="0" />
<polygon points="612.6,456.2 621.3,453.64 621.3,458.84 612.6,461.4" fill="#666" stroke="#3c3c3c" stroke-width="0.5" />
<polygon points="613.4,456.76 616.55,455.84 616.55,459.44 613.4,460.36" fill="#a3d8f4" stroke="none" stroke-width="0" />
<polygon points="617.35,455.6 620.5,454.67 620.5,458.27 617.35,459.2" fill="#a3d8f4" stroke="none" stroke-width="0" />
<polygon points="612.6,474.2 621.3,471.64 621.3,476.84 612.6,479.4" fill="#666" stroke="#3c3c3c" stroke-width="0.5" />
<polygon points="613.4,474.76 616.55,473.84 616.55,477.44 613.4,478.36" fill="#a3d8f4" stroke="none" stroke-width="0" />
<polygon points="617.35,473.6 620.5,472.67 620.5,476.27 617.35,477.2" fill="#a3d8f4" stroke="none" stroke-width="0" />
<polygon points="612.6,492.2 621.3,489.64 621.3,494.84 612.6,497.4" fill="#666" stroke="#3c3c3c" stroke-width="0.5" />
<polygon points="613.4,492.76 616.55,491.84 616.55,495.44 613.4,496.36" fill="#a3d8f4" stroke="none" stroke-width="0" />
<polygon points="617.35,491.6 620.5,490.67 620.5,494.27 617.35,495.2" fill="#a3d8f4" stroke="none" stroke-width="0" />
<polyline points="428.7,384 446.5,379.6" fill="none" stroke="#e8551f" stroke-width="0.8" />
<polyline points="428.7,384 452.6,391.9" fill="none" stroke="#e8551f" stroke-width="0.8" stroke-dasharray="2.4 0.8"/>
<polyline points="446.5,379.6 468.4,387.5" fill="none" stroke="#e8551f" stroke-width="0.8" stroke-dasharray="1.0 0.9"/>
<polyline points="452.6,391.9 468.4,387.5" fill="none" stroke="#e8551f" stroke-width="0.8" stroke-dasharray="2.4 0.8"/>
<line x1="428.7" y1="384" x2="428.7" y2="465.4" stroke="#e8551f" stroke-width="0.75" stroke-dasharray="1.0 0.9"/>
<line x1="452.6" y1="391.9" x2="452.6" y2="473.3" stroke="#e8551f" stroke-width="0.75" stroke-dasharray="1.0 0.9"/>
<line x1="468.4" y1="387.5" x2="468.4" y2="468.9" stroke="#e8551f" stroke-width="0.75" stroke-dasharray="1.0 0.9"/>
<line x1="446.5" y1="379.6" x2="446.5" y2="461" stroke="#e8551f" stroke-width="0.75" stroke-dasharray="1.0 0.9"/>
<polyline points="428.7,465.4 452.6,473.3 468.4,468.9" fill="none" stroke="#e8551f" stroke-width="0.8" />
<polyline points="428.7,465.4 446.5,461 468.4,468.9" fill="none" stroke="#e8551f" stroke-width="0.7" stroke-dasharray="1.0 0.9"/>
<polygon points="426.4,196.4 442.6,192 467.4,200 451.3,204.7" fill="#fff" stroke="#4a4a4a" stroke-width="0.65" />
<polyline points="426.4,199.2 451.3,207.5 467.4,202.8" fill="none" stroke="#4a4a4a" stroke-width="0.5" />
<polyline points="426.4,196.4 426.4,212.7 440.5,208.5" fill="none" stroke="#4a4a4a" stroke-width="0.65" />
<line x1="427.6" y1="199.8" x2="427.6" y2="212.3" stroke="#4a4a4a" stroke-width="0.4" />
<polygon points="427.9,227.8 458.8,218.1 467.2,220.5 434.2,230.1" fill="#ffffff" stroke="#4a4a4a" stroke-width="0.55" />
<polyline points="427.9,227.8 427.9,229.5 434.2,231.8 467.2,222.2" fill="none" stroke="#4a4a4a" stroke-width="0.5" />
<line x1="434.2" y1="230.1" x2="434.2" y2="231.8" stroke="#4a4a4a" stroke-width="0.4" />
<polyline points="440.5,215.3 426.9,219.7 426.9,231.2 428.1,231.7 428.1,221.4 440.5,217.4" fill="none" stroke="#4a4a4a" stroke-width="0.55" />
<polygon points="427.9,246.2 458.8,236.5 467.2,238.9 434.2,248.5" fill="#ffffff" stroke="#4a4a4a" stroke-width="0.55" />
<polyline points="427.9,246.2 427.9,247.9 434.2,250.2 467.2,240.6" fill="none" stroke="#4a4a4a" stroke-width="0.5" />
<line x1="434.2" y1="248.5" x2="434.2" y2="250.2" stroke="#4a4a4a" stroke-width="0.4" />
<polyline points="440.5,233.7 426.9,238.1 426.9,249.6 428.1,250.1 428.1,239.8 440.5,235.8" fill="none" stroke="#4a4a4a" stroke-width="0.55" />
<polygon points="420.2,266.9 458.8,254.9 467.2,257.3 426.5,269.2" fill="#ffffff" stroke="#4a4a4a" stroke-width="0.55" />
<polyline points="420.2,266.9 420.2,268.6 426.5,270.9 467.2,259" fill="none" stroke="#4a4a4a" stroke-width="0.5" />
<line x1="426.5" y1="269.2" x2="426.5" y2="270.9" stroke="#4a4a4a" stroke-width="0.4" />
<polyline points="440.5,252.1 426.9,256.5 426.9,268 428.1,268.5 428.1,258.2 440.5,254.2" fill="none" stroke="#4a4a4a" stroke-width="0.55" />
<polygon points="442,224.6 448.2,223 460.4,235.4 454.6,237.6" fill="#c4c4c4" stroke="#6a6a6a" stroke-width="0.4" />
<line x1="443.05" y1="225.68" x2="449.22" y2="224.03" stroke="#666" stroke-width="0.4" />
<line x1="444.1" y1="226.77" x2="450.23" y2="225.07" stroke="#666" stroke-width="0.4" />
<line x1="445.15" y1="227.85" x2="451.25" y2="226.1" stroke="#666" stroke-width="0.4" />
<line x1="446.2" y1="228.93" x2="452.27" y2="227.13" stroke="#666" stroke-width="0.4" />
<line x1="447.25" y1="230.02" x2="453.28" y2="228.17" stroke="#666" stroke-width="0.4" />
<line x1="448.3" y1="231.1" x2="454.3" y2="229.2" stroke="#666" stroke-width="0.4" />
<line x1="449.35" y1="232.18" x2="455.32" y2="230.23" stroke="#666" stroke-width="0.4" />
<line x1="450.4" y1="233.27" x2="456.33" y2="231.27" stroke="#666" stroke-width="0.4" />
<line x1="451.45" y1="234.35" x2="457.35" y2="232.3" stroke="#666" stroke-width="0.4" />
<line x1="452.5" y1="235.43" x2="458.37" y2="233.33" stroke="#666" stroke-width="0.4" />
<line x1="453.55" y1="236.52" x2="459.38" y2="234.37" stroke="#666" stroke-width="0.4" />
<line x1="445.1" y1="223.8" x2="457.5" y2="236.5" stroke="#777" stroke-width="0.35" />
<polygon points="442,243 448.2,241.4 460.4,253.8 454.6,256" fill="#c4c4c4" stroke="#6a6a6a" stroke-width="0.4" />
<line x1="443.05" y1="244.08" x2="449.22" y2="242.43" stroke="#666" stroke-width="0.4" />
<line x1="444.1" y1="245.17" x2="450.23" y2="243.47" stroke="#666" stroke-width="0.4" />
<line x1="445.15" y1="246.25" x2="451.25" y2="244.5" stroke="#666" stroke-width="0.4" />
<line x1="446.2" y1="247.33" x2="452.27" y2="245.53" stroke="#666" stroke-width="0.4" />
<line x1="447.25" y1="248.42" x2="453.28" y2="246.57" stroke="#666" stroke-width="0.4" />
<line x1="448.3" y1="249.5" x2="454.3" y2="247.6" stroke="#666" stroke-width="0.4" />
<line x1="449.35" y1="250.58" x2="455.32" y2="248.63" stroke="#666" stroke-width="0.4" />
<line x1="450.4" y1="251.67" x2="456.33" y2="249.67" stroke="#666" stroke-width="0.4" />
<line x1="451.45" y1="252.75" x2="457.35" y2="250.7" stroke="#666" stroke-width="0.4" />
<line x1="452.5" y1="253.83" x2="458.37" y2="251.73" stroke="#666" stroke-width="0.4" />
<line x1="453.55" y1="254.92" x2="459.38" y2="252.77" stroke="#666" stroke-width="0.4" />
<line x1="445.1" y1="242.2" x2="457.5" y2="254.9" stroke="#777" stroke-width="0.35" />
<polygon points="442,261.4 448.2,259.8 460.4,272.2 454.6,274.4" fill="#c4c4c4" stroke="#6a6a6a" stroke-width="0.4" />
<line x1="443.05" y1="262.48" x2="449.22" y2="260.83" stroke="#666" stroke-width="0.4" />
<line x1="444.1" y1="263.57" x2="450.23" y2="261.87" stroke="#666" stroke-width="0.4" />
<line x1="445.15" y1="264.65" x2="451.25" y2="262.9" stroke="#666" stroke-width="0.4" />
<line x1="446.2" y1="265.73" x2="452.27" y2="263.93" stroke="#666" stroke-width="0.4" />
<line x1="447.25" y1="266.82" x2="453.28" y2="264.97" stroke="#666" stroke-width="0.4" />
<line x1="448.3" y1="267.9" x2="454.3" y2="266" stroke="#666" stroke-width="0.4" />
<line x1="449.35" y1="268.98" x2="455.32" y2="267.03" stroke="#666" stroke-width="0.4" />
<line x1="450.4" y1="270.07" x2="456.33" y2="268.07" stroke="#666" stroke-width="0.4" />
<line x1="451.45" y1="271.15" x2="457.35" y2="269.1" stroke="#666" stroke-width="0.4" />
<line x1="452.5" y1="272.23" x2="458.37" y2="270.13" stroke="#666" stroke-width="0.4" />
<line x1="453.55" y1="273.32" x2="459.38" y2="271.17" stroke="#666" stroke-width="0.4" />
<line x1="445.1" y1="260.6" x2="457.5" y2="273.3" stroke="#777" stroke-width="0.35" />
<line x1="451.3" y1="204.7" x2="451.3" y2="285.2" stroke="#4a4a4a" stroke-width="0.65" />
<line x1="467.4" y1="200" x2="467.4" y2="281.9" stroke="#4a4a4a" stroke-width="0.65" />
<line x1="440.5" y1="207.4" x2="440.5" y2="272" stroke="#4a4a4a" stroke-width="0.5" />
<polyline points="451.3,285.2 423.4,276.9 440,271.9" fill="none" stroke="#4a4a4a" stroke-width="0.55" />
<polyline points="467.4,281.9 451.3,285.2" fill="none" stroke="#4a4a4a" stroke-width="0.65" />
<polyline points="437.6,281.2 443,276.6 451.3,279" fill="none" stroke="#4a4a4a" stroke-width="0.5" />
<polyline points="443,276.6 452,273.8 467.4,278.6" fill="none" stroke="#4a4a4a" stroke-width="0.45" />
<line x1="428.7" y1="283" x2="428.7" y2="384" stroke="#333" stroke-width="0.8" stroke-dasharray="1.6 1.6"/>
<line x1="447.2" y1="287" x2="447.2" y2="379.6" stroke="#333" stroke-width="0.8" stroke-dasharray="1.6 1.6"/>
<line x1="451.9" y1="288" x2="451.9" y2="390.5" stroke="#333" stroke-width="0.8" stroke-dasharray="1.6 1.6"/>
<line x1="467" y1="285" x2="467" y2="384.5" stroke="#333" stroke-width="0.8" stroke-dasharray="1.6 1.6"/>
<text x="59.5" y="44.6" font-size="16.5" fill="#1a1a1a" font-family="'Liberation Sans','Noto Sans CJK JP',sans-serif" font-weight="500" textLength="48.5" lengthAdjust="spacingAndGlyphs">1.既存</text>
<text x="59.5" y="290.1" font-size="16.5" fill="#1a1a1a" font-family="'Liberation Sans','Noto Sans CJK JP',sans-serif" font-weight="500" textLength="50.5" lengthAdjust="spacingAndGlyphs">2.解体</text>
<text x="241" y="294.6" font-size="11.2" fill="#3a3a3a" font-family="'Liberation Sans','Noto Sans CJK JP',sans-serif" font-weight="300" textLength="123.4" lengthAdjust="spacingAndGlyphs">テレビアンテナ架台解体</text>
<polyline points="240.7,298.1 364.4,298.1 376,325.6" fill="none" stroke="#1c1c1c" stroke-width="0.95" />
<text x="259" y="315.2" font-size="11.8" fill="#3a3a3a" font-family="'Liberation Sans','Noto Sans CJK JP',sans-serif" font-weight="300" textLength="71.5" lengthAdjust="spacingAndGlyphs">高架水槽解体</text>
<polyline points="258.3,318.4 330.5,318.4 339.7,331.7" fill="none" stroke="#1c1c1c" stroke-width="0.95" />
<text x="172.5" y="336.4" font-size="11.3" fill="#3a3a3a" font-family="'Liberation Sans','Noto Sans CJK JP',sans-serif" font-weight="300" textLength="79.3" lengthAdjust="spacingAndGlyphs">アルミ笠木解体</text>
<polyline points="172.3,339.4 251.8,339.4 257.4,348.2" fill="none" stroke="#1c1c1c" stroke-width="0.95" />
<text x="88.5" y="360.7" font-size="11.3" fill="#3a3a3a" font-family="'Liberation Sans','Noto Sans CJK JP',sans-serif" font-weight="300" textLength="112" lengthAdjust="spacingAndGlyphs">出窓・サッシ・手摺解体</text>
<polyline points="86.9,364.4 197.2,364.4 213.3,400.3" fill="none" stroke="#1c1c1c" stroke-width="0.95" />
<text x="121" y="391.8" font-size="11.8" fill="#3a3a3a" font-family="'Liberation Sans','Noto Sans CJK JP',sans-serif" font-weight="300" textLength="47.2" lengthAdjust="spacingAndGlyphs">壁面解体</text>
<polyline points="119.5,395.2 169,395.2 174.1,429" fill="none" stroke="#1c1c1c" stroke-width="0.95" />
<text x="489.2" y="238.4" font-size="11.7" fill="#3a3a3a" font-family="'Liberation Sans','Noto Sans CJK JP',sans-serif" font-weight="300" textLength="58.8" lengthAdjust="spacingAndGlyphs">階段室解体</text>
<polyline points="548,242.1 488,242.1 465.2,258.3" fill="none" stroke="#1c1c1c" stroke-width="0.95" />
<text x="143" y="537" font-size="11.8" fill="#3a3a3a" font-family="'Liberation Sans','Noto Sans CJK JP',sans-serif" font-weight="300" textLength="35.5" lengthAdjust="spacingAndGlyphs">庇解体</text>
<polyline points="184.4,541 138.7,541 127.7,481.5" fill="none" stroke="#1c1c1c" stroke-width="0.95" />
<text x="138.5" y="556.5" font-size="11.3" fill="#3a3a3a" font-family="'Liberation Sans','Noto Sans CJK JP',sans-serif" font-weight="300" textLength="93.6" lengthAdjust="spacingAndGlyphs">ダストシュート解体</text>
<polyline points="232.4,560.2 133.6,560.2 118,497.7" fill="none" stroke="#1c1c1c" stroke-width="0.95" />
<text x="140.5" y="576.5" font-size="11.8" fill="#3a3a3a" font-family="'Liberation Sans','Noto Sans CJK JP',sans-serif" font-weight="300" textLength="83.1" lengthAdjust="spacingAndGlyphs">通気口格子解体</text>
<polyline points="225,580.3 136.6,580.3 104.2,499.2" fill="none" stroke="#1c1c1c" stroke-width="0.95" />
<text x="207.8" y="603.1" font-size="11.4" fill="#3a3a3a" font-family="'Liberation Sans','Noto Sans CJK JP',sans-serif" font-weight="300" textLength="91.6" lengthAdjust="spacingAndGlyphs">バルコニー床解体</text>
<polyline points="204.4,606.8 301.7,606.8 318.5,564" fill="none" stroke="#1c1c1c" stroke-width="0.95" />
<text x="653.7" y="390" font-size="11.8" fill="#3a3a3a" font-family="'Liberation Sans','Noto Sans CJK JP',sans-serif" font-weight="300" textLength="47.3" lengthAdjust="spacingAndGlyphs">壁面解体</text>
<polyline points="700,393.6 630.6,393.6 541.7,420.7" fill="none" stroke="#1c1c1c" stroke-width="0.95" />
<text x="649.8" y="415.6" font-size="11.4" fill="#3a3a3a" font-family="'Liberation Sans','Noto Sans CJK JP',sans-serif" font-weight="300" textLength="57.2" lengthAdjust="spacingAndGlyphs">サッシ撤去</text>
<polyline points="700,419.5 647.6,419.5 626.4,433.8" fill="none" stroke="#1c1c1c" stroke-width="0.95" />
<text x="644.2" y="561.9" font-size="11.5" fill="#3a3a3a" font-family="'Liberation Sans','Noto Sans CJK JP',sans-serif" font-weight="300" textLength="45.8" lengthAdjust="spacingAndGlyphs">手摺撤去</text>
<polyline points="692,565.1 639.7,565.1 621.7,543.6" fill="none" stroke="#1c1c1c" stroke-width="0.95" />
<rect x="691.5" y="300" width="90" height="328" fill="#ffffff"/>
</svg>
</body></html>
